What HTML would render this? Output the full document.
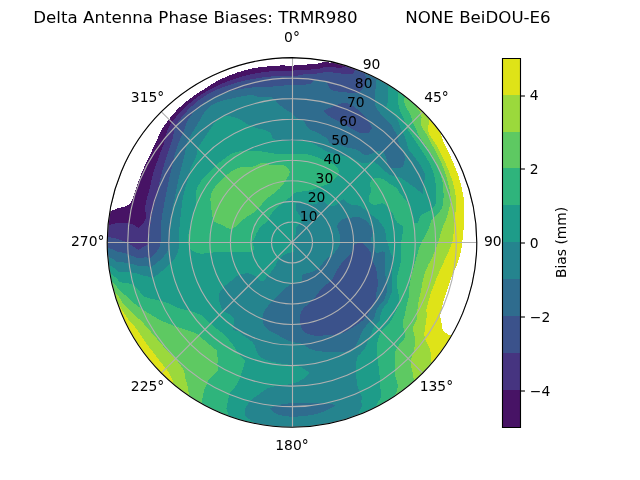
<!DOCTYPE html>
<html><head><meta charset="utf-8"><title>Delta Antenna Phase Biases</title>
<style>html,body{margin:0;padding:0;background:#fff;width:640px;height:480px;overflow:hidden}svg text{white-space:pre}svg{will-change:transform}#QuadContourSet_1 path,#QuadMesh_1 path{shape-rendering:crispEdges}</style>
</head><body>
<svg width="640" height="480" viewBox="0 0 460.8 345.6" style="display:block">
<defs>
<style type="text/css">*{stroke-linejoin: round; stroke-linecap: butt}</style>
</defs>
<g id="figure_1">
<g id="patch_1">
<path d="M0 345.6L460.8 345.6L460.8 0L0 0z" style="fill: #ffffff"/>
</g>
<g id="axes_1">
<g id="patch_2">
<path d="M343.3 174.53C343.3 157.06 339.85 139.75 333.17 123.61C326.48 107.47 316.68 92.8 304.32 80.44C291.97 68.09 277.3 58.29 261.16 51.6C245.02 44.91 227.71 41.47 210.24 41.47C192.77 41.47 175.46 44.91 159.32 51.6C143.18 58.29 128.51 68.09 116.16 80.44C103.8 92.8 94 107.47 87.31 123.61C80.63 139.75 77.18 157.06 77.18 174.53C77.18 192 80.63 209.3 87.31 225.45C94 241.59 103.8 256.26 116.16 268.61C128.51 280.97 143.18 290.77 159.32 297.46C175.46 304.14 192.77 307.58 210.24 307.58C227.71 307.58 245.02 304.14 261.16 297.46C277.3 290.77 291.97 280.97 304.32 268.61C316.68 256.26 326.48 241.59 333.17 225.45C339.85 209.3 343.3 192 343.3 174.53 M210.24 174.53C210.24 174.53 210.24 174.53 210.24 174.53C210.24 174.53 210.24 174.53 210.24 174.53C210.24 174.53 210.24 174.53 210.24 174.53C210.24 174.53 210.24 174.53 210.24 174.53C210.24 174.53 210.24 174.53 210.24 174.53C210.24 174.53 210.24 174.53 210.24 174.53C210.24 174.53 210.24 174.53 210.24 174.53C210.24 174.53 210.24 174.53 210.24 174.53C210.24 174.53 210.24 174.53 210.24 174.53C210.24 174.53 210.24 174.53 210.24 174.53C210.24 174.53 210.24 174.53 210.24 174.53C210.24 174.53 210.24 174.53 210.24 174.53C210.24 174.53 210.24 174.53 210.24 174.53C210.24 174.53 210.24 174.53 210.24 174.53C210.24 174.53 210.24 174.53 210.24 174.53C210.24 174.53 210.24 174.53 210.24 174.53z" style="fill: #ffffff"/>
</g>
<g id="QuadContourSet_1">
<path d="M105.41 156.04L105.41 156.04L105.11 154.09L105.05 153.96L104.65 152.23L104.63 152.08L104.52 150.12L104.58 149.17L104.64 148.2L104.91 146.31L105.33 144.44L105.8 142.6L106.32 140.76L106.87 138.94L107.44 137.11L107.44 137.11L107.91 135.25L108.33 133.35L108.56 132.18L108.73 131.44L109.13 129.51L109.34 128.55L109.57 127.59L110.06 125.67L110.28 124.87L110.6 123.76L111.2 121.87L111.55 120.82L111.84 119.98L112.52 118.11L113.02 116.74L113.21 116.22L113.86 114.3L114.11 113.55L114.53 112.37L115.2 110.54L115.23 110.45L115.97 108.52L116.33 107.61L116.75 106.6L117.55 104.68L117.55 104.68L118.24 102.65L118.26 102.55L118.65 100.87L118.75 100.44L118.91 99.38L119.13 98.08L119.15 97.94L119.6 96.26L119.74 95.85L120.24 94.41L120.51 93.73L121.13 92.34L121.42 91.71L122.43 89.88L122.49 89.78L123.72 88.01L125.03 86.29L125.22 86.05L126.41 84.63L127.83 83L129.29 81.4L129.63 81.04L130.78 79.83L132.31 78.3L133.88 76.8L135.28 75.52L135.49 75.33L137.13 73.9L138.81 72.52L140.53 71.18L142.29 69.89L144.08 68.65L145.91 67.46L147.78 66.34L149.68 65.27L151.59 64.23L153.53 63.23L155.48 62.26L157.46 61.33L159.44 60.44L161.45 59.58L163.47 58.77L165.5 57.99L167.55 57.24L169.61 56.54L171.69 55.88L173.78 55.26L175.87 54.67L177.98 54.13L180.1 53.63L182.23 53.18L184.36 52.78L186.5 52.42L188.65 52.09L190.8 51.81L192.96 51.55L192.96 51.55L195.11 51.34L197.27 51.17L199.44 51.04L201.6 50.94L203.76 50.87L205.92 50.83L208.08 50.81L210.24 50.8L210.24 50.34L210.24 49.6L210.24 48.86L210.24 48.12L210.24 47.39L210.24 47.39L208.02 47.31L205.79 47.19L203.56 47.13L201.33 47.16L199.11 47.26L196.88 47.42L194.66 47.63L192.44 47.89L192.44 47.89L190.21 48.09L187.98 48.31L185.76 48.59L183.55 48.94L181.34 49.37L179.15 49.85L176.98 50.4L174.82 51.01L172.67 51.66L170.54 52.35L168.43 53.09L166.33 53.88L164.25 54.72L162.19 55.6L160.15 56.53L158.14 57.51L156.15 58.53L154.57 59.4L154.19 59.61L152.26 60.73L150.36 61.91L148.5 63.14L146.67 64.42L146.67 64.42L144.78 65.58L142.91 66.78L141.06 68.01L139.24 69.27L137.45 70.57L135.68 71.9L133.94 73.28L132.24 74.69L130.57 76.15L128.95 77.65L128.33 78.25L127.38 79.21L125.87 80.82L124.43 82.51L123.76 83.36L123.05 84.24L121.7 85.98L120.53 87.59L120.39 87.76L119.04 89.48L117.76 91.25L116.75 92.79L116.56 93.09L115.48 95.02L114.99 96L114.54 97.03L113.9 98.53L113.7 99.1L112.83 101.13L112.83 101.13L111.85 103.04L110.92 104.99L110.89 105.06L110.04 106.94L109.18 108.9L109.15 108.97L108.33 110.84L107.45 112.77L106.53 114.65L106.53 114.65L105.58 116.51L104.66 118.39L103.79 120.29L102.95 122.2L102.16 124.13L101.4 126.07L100.67 128.02L100.49 128.51L99.94 129.96L99.22 131.91L98.51 133.86L97.81 135.82L97.14 137.78L96.5 139.75L95.88 141.73L95.28 143.73L95.28 143.73L94.33 145.63L93.92 146.07L92.93 147.01L92.54 147.36L92.03 147.66L91.16 148.13L90.32 148.52L89.49 148.86L89.48 148.86L88.68 149.12L87.9 149.25L87.12 149.37L86.34 149.49L85.57 149.6L84.75 149.89L84.31 150.05L83.94 150.21L83.12 150.56L82.3 150.93L81.48 151.3L80.66 151.68L80.66 151.68L79.84 152.09L79.02 152.49L78.82 153.71L78.48 156.01L78.18 158.31L77.91 160.62L77.76 162.17L78.52 162.03L79.27 161.87L80.03 161.7L80.79 161.52L81.56 161.3L82.29 161.08L82.33 161.07L83.1 160.81L83.87 160.54L84.61 160.53L85.36 160.52L86.11 160.5L86.85 160.48L87.59 160.52L88.33 160.56L89.07 160.6L89.81 160.64L90.55 160.67L91.29 160.7L92.03 160.73L92.77 160.82L93.49 161.02L94.21 161.24L94.92 161.47L95.64 161.73L96.35 162.02L97.06 162.34L97.66 162.7L97.76 162.75L98.45 163.21L99.14 163.76L99.82 164.42L100.65 163.51L101.09 163.06L101.49 162.56L102.35 161.57L102.59 161.31L103.24 160.41L103.88 159.58L104.18 159.02L104.85 157.84L105.41 156.04z M212.4 50.74L214.57 50.61L216.3 50.49L216.74 50.46L218.92 50.33L221.12 50.22L221.98 50.16L223.32 50.08L225.54 49.94L226.25 49.89L227.77 49.76L229.04 49.53L230.07 49.32L230.89 49.07L232.44 48.62L232.51 48.6L234.29 48.18L234.83 48.05L236.65 47.89L237.16 47.88L239.41 48.17L241.65 48.54L243.91 48.86L243.91 48.86L246.09 48.7L246.33 48.66L247.39 48.3L248.43 47.84L249.02 47.69L249.7 47.46L249.14 47.29L246.92 46.63L244.68 46.01L242.43 45.42L240.17 44.88L238.96 44.61L237.75 45.1L237.75 45.1L235.44 44.88L233.11 44.82L232.5 44.85L230.73 45.15L230.27 45.23L228.72 45.75L228.33 45.82L226.04 45.87L224.62 45.97L223.74 46.04L221.45 46.39L221.41 46.39L219.19 46.59L216.94 46.73L216.24 46.79L214.7 46.86L212.46 47.11L210.24 47.39L210.24 47.39L210.24 48.12L210.24 48.86L210.24 49.6L210.24 50.34L210.24 50.8z" clip-path="url(#p762479d433)" style="fill: #471365"/>
<path d="M109.05 156.69L109.38 154.92L109.74 153.17L110.12 151.41L110.54 149.67L110.99 147.93L110.99 147.93L111.43 146.19L111.81 144.44L112.19 142.67L112.58 140.9L112.99 139.13L112.99 139.13L113.43 137.37L113.86 135.59L114.26 133.88L114.29 133.8L114.71 132L115.14 130.18L115.19 130L115.58 128.36L115.98 126.69L116.02 126.52L116.46 124.67L116.68 123.76L116.92 122.8L117.42 120.94L117.42 120.94L117.97 119.08L118.26 118.08L118.52 117.22L119.07 115.4L119.09 115.34L119.69 113.45L119.89 112.84L120.32 111.57L120.77 110.3L120.99 109.68L121.69 107.8L121.69 107.8L122.39 105.89L122.52 105.51L123.05 103.92L123.18 103.5L123.66 101.88L123.72 101.7L124.16 100.04L124.23 99.76L124.53 98.49L124.71 97.52L124.79 97.09L125.02 95.75L125.09 95.13L125.21 94.46L125.43 93.15L125.51 92.7L125.8 91.71L126.27 90.56L126.67 89.79L127.41 88.76L128.67 87.06L129.22 86.35L129.97 85.38L131.31 83.73L132.07 82.84L132.69 82.11L134.11 80.52L135.35 79.2L135.58 78.96L137.08 77.44L138.63 75.96L139.5 75.17L140.22 74.53L141.86 73.15L143.55 71.83L145.28 70.57L147.06 69.37L148.89 68.26L150.76 67.22L152.66 66.23L154.59 65.3L156.54 64.42L158.51 63.59L160.5 62.81L162.5 62.06L164.52 61.36L165.85 60.93L166.55 60.7L168.58 60.08L170.63 59.48L172.68 58.93L174.74 58.4L176.8 57.9L178.86 57.43L178.86 57.43L180.95 57.06L183.04 56.71L185.12 56.37L187.21 56.04L189.29 55.74L191.38 55.46L193.47 55.21L193.47 55.21L195.57 55.06L197.67 54.93L199.77 54.83L201.86 54.74L203.96 54.67L206.05 54.62L208.15 54.59L210.24 54.58L210.24 54.04L210.24 53.3L210.24 52.56L210.24 51.82L210.24 51.08L210.24 50.8L208.08 50.81L205.92 50.83L203.76 50.87L201.6 50.94L199.44 51.04L197.27 51.17L195.11 51.34L192.96 51.55L192.96 51.55L190.8 51.81L188.65 52.09L186.5 52.42L184.36 52.78L182.23 53.18L180.1 53.63L177.98 54.13L175.87 54.67L173.78 55.26L171.69 55.88L169.61 56.54L167.55 57.24L165.5 57.99L163.47 58.77L161.45 59.58L159.44 60.44L157.46 61.33L155.48 62.26L153.53 63.23L151.59 64.23L149.68 65.27L147.78 66.34L145.91 67.46L144.08 68.65L142.29 69.89L140.53 71.18L138.81 72.52L137.13 73.9L135.49 75.33L135.28 75.52L133.88 76.8L132.31 78.3L130.78 79.83L129.63 81.04L129.29 81.4L127.83 83L126.41 84.63L125.22 86.05L125.03 86.29L123.72 88.01L122.49 89.78L122.43 89.88L121.42 91.71L121.13 92.34L120.51 93.73L120.24 94.41L119.74 95.85L119.6 96.26L119.15 97.94L119.13 98.08L118.91 99.38L118.75 100.44L118.65 100.87L118.26 102.55L118.24 102.65L117.55 104.68L117.55 104.68L116.75 106.6L116.33 107.61L115.97 108.52L115.23 110.45L115.2 110.54L114.53 112.37L114.11 113.55L113.86 114.3L113.21 116.22L113.02 116.74L112.52 118.11L111.84 119.98L111.55 120.82L111.2 121.87L110.6 123.76L110.28 124.87L110.06 125.67L109.57 127.59L109.34 128.55L109.13 129.51L108.73 131.44L108.56 132.18L108.33 133.35L107.91 135.25L107.44 137.11L107.44 137.11L106.87 138.94L106.32 140.76L105.8 142.6L105.33 144.44L104.91 146.31L104.64 148.2L104.58 149.17L104.52 150.12L104.63 152.08L104.65 152.23L105.05 153.96L105.11 154.09L105.41 156.04L105.41 156.04L105.41 156.04L104.85 157.84L104.18 159.02L103.88 159.58L103.24 160.41L102.59 161.31L102.35 161.57L101.49 162.56L101.09 163.06L100.65 163.51L99.82 164.42L99.14 163.76L98.45 163.21L97.76 162.75L97.66 162.7L97.06 162.34L96.35 162.02L95.64 161.73L94.92 161.47L94.21 161.24L93.49 161.02L92.77 160.82L92.03 160.73L91.29 160.7L90.55 160.67L89.81 160.64L89.07 160.6L88.33 160.56L87.59 160.52L86.85 160.48L86.11 160.5L85.36 160.52L84.61 160.53L83.87 160.54L83.1 160.81L82.33 161.07L82.29 161.08L81.56 161.3L80.79 161.52L80.03 161.7L79.27 161.87L78.52 162.03L77.76 162.17L77.69 162.93L77.51 165.25L77.37 167.56L77.27 169.88L77.24 170.59L77.98 170.7L78.72 170.8L79.45 170.92L80.19 171.04L80.92 171.16L81.66 171.3L82.4 171.45L83.13 171.6L83.87 171.83L84.6 172.06L85.34 172.3L85.49 172.35L86.07 172.54L86.81 172.78L87.54 173.03L88.28 173.29L89.02 173.56L89.75 173.83L90.49 174.11L91.23 174.41L91.43 174.53L91.97 174.82L92.71 175.33L93.45 175.86L94.2 176.41L94.38 176.55L94.95 176.9L95.7 177.37L96.45 177.85L97.21 178.38L97.34 178.47L97.96 178.84L98.72 179.3L99.48 179.78L100.21 179.42L100.93 179.05L101.66 178.67L102.34 178.3L102.38 178.27L103.11 177.79L103.83 177.31L104.56 177.04L105.3 176.75L106.03 176.41L106.16 176.34L106.76 175.7L107.25 174.53L107.37 172.73L107.47 170.94L107.58 169.15L107.71 167.36L107.86 165.57L108.04 163.79L108.25 162.01L108.49 160.23L108.76 158.45L109.05 156.69z M212.33 54.53L214.44 54.36L215.79 54.17L216.55 54.05L218.7 53.59L218.7 53.59L220.83 53.48L222.98 53.36L223.74 53.31L225.14 53.2L227.32 53.01L227.32 53.01L229.51 52.86L230.37 52.73L231.76 52.46L232.38 52.33L233.98 51.88L234.09 51.85L236.37 51.61L236.37 51.61L238.54 51.96L240.71 52.31L242.96 52.43L242.96 52.43L245.14 52.8L247.34 53.19L249.19 53.5L249.55 53.55L251.87 53.62L251.89 53.62L253.23 53.31L254.12 52.84L254.7 52.26L254.89 51.86L255.01 51.59L255.32 50.91L255.62 50.24L256.06 49.61L255.75 49.5L253.56 48.72L251.36 47.98L249.7 47.46L249.02 47.69L248.43 47.84L247.39 48.3L246.33 48.66L246.09 48.7L243.91 48.86L243.91 48.86L241.65 48.54L239.41 48.17L237.16 47.88L236.65 47.89L234.83 48.05L234.29 48.18L232.51 48.6L232.44 48.62L230.89 49.07L230.07 49.32L229.04 49.53L227.77 49.76L226.25 49.89L225.54 49.94L223.32 50.08L221.98 50.16L221.12 50.22L218.92 50.33L216.74 50.46L216.3 50.49L214.57 50.61L212.4 50.74L210.24 50.8L210.24 51.08L210.24 51.82L210.24 52.56L210.24 53.3L210.24 54.04L210.24 54.58z" clip-path="url(#p762479d433)" style="fill: #463480"/>
<path d="M244.75 191.36L244.37 191.92L243.99 192.47L243.61 193.03L243.24 193.58L242.87 194.13L242.5 194.69L242.15 195.25L241.8 195.82L241.47 196.4L241.16 196.99L240.87 197.61L240.68 198L240.58 198.23L240.29 198.86L239.99 199.49L239.67 200.11L239.34 200.73L239.27 200.84L238.98 201.32L238.58 201.89L238.13 202.42L237.63 202.89L237.09 203.32L236.53 203.73L235.96 204.11L235.84 204.19L235.38 204.49L234.8 204.86L234.24 205.25L233.71 205.67L233.2 206.13L232.7 206.61L232.66 206.66L232.22 207.12L231.75 207.65L231.28 208.19L230.84 208.72L230.81 208.76L230.34 209.34L229.87 209.95L229.63 210.26L229.4 210.56L228.92 211.2L228.6 211.63L228.44 211.84L227.94 212.5L227.63 212.91L227.44 213.16L226.92 213.82L226.68 214.12L226.39 214.5L225.84 215.18L225.75 215.29L225.28 215.85L224.77 216.43L224.7 216.51L224.08 217.14L223.57 217.6L223.44 217.71L222.78 218.26L222.14 218.79L222.11 218.81L221.42 219.37L220.78 219.89L220.72 219.94L220.02 220.54L219.64 220.89L219.31 221.2L218.7 221.83L218.6 221.93L217.96 222.7L217.89 222.8L217.4 223.53L217.18 223.94L217 224.34L216.69 225.12L216.52 225.69L216.46 225.9L216.3 226.66L216.18 227.42L216.09 228.17L216.04 228.92L216.02 229.56L216.02 229.67L216.02 230.41L216.05 231.15L216.09 231.89L216.15 232.62L216.24 233.36L216.36 234.09L216.52 234.82L216.61 235.11L216.73 235.54L216.99 236.25L217.32 236.96L217.72 237.66L218.05 238.12L218.22 238.34L218.89 239L219.35 239.34L219.82 239.62L220.61 240L221.02 240.18L221.87 240.5L222.4 240.69L223.15 240.93L223.91 241.15L224.43 241.29L225.63 241.53L225.71 241.54L226.98 241.69L227.87 241.74L228.25 241.75L229.52 241.75L230.72 241.7L230.78 241.7L232.03 241.6L233.3 241.5L233.8 241.47L234.58 241.4L235.88 241.33L236.29 241.33L237.22 241.3L238.27 241.33L238.59 241.33L239.98 241.32L240.21 241.29L241.29 241.11L242.6 240.87L243.01 240.79L243.91 240.61L245.21 240.31L246 240.07L246.49 239.92L247.71 239.42L248.88 238.83L250.01 238.17L251.12 237.48L252.25 236.81L253.41 236.18L254.55 235.52L254.71 235.41L255.66 234.8L256.74 234.05L257.81 233.27L258.87 232.48L259.92 231.68L260.94 230.84L261.88 229.91L262.79 228.95L263.67 227.96L264.47 226.91L264.48 226.9L265.16 225.74L265.75 224.51L265.79 224.41L266.3 223.26L266.89 222.06L266.98 221.9L267.55 220.94L268.26 219.86L268.97 218.79L269.63 217.68L270.2 216.51L270.22 216.46L270.62 215.25L270.83 214.24L270.86 213.9L270.89 212.78L270.87 212.41L270.9 211.35L270.93 210.99L271.21 209.73L271.36 209.11L271.51 208.49L271.74 207.23L271.79 206.76L271.89 205.94L271.96 204.81L271.97 204.64L271.97 203.31L271.96 203.09L271.91 201.98L271.87 201.49L271.8 200.66L271.73 199.93L271.66 199.34L271.55 198.38L271.51 198.05L271.35 196.82L271.34 196.77L271.14 195.5L271.11 195.29L270.89 194.23L270.8 193.87L270.51 192.95L270.4 192.66L269.97 191.65L269.94 191.6L269.45 190.61L269.32 190.36L268.94 189.64L268.67 189.1L268.44 188.61L268.15 187.9L267.96 187.41L267.75 186.75L267.51 185.94L267.44 185.65L267.2 184.57L267.11 184.03L267.03 183.52L266.89 182.49L266.73 181.52L266.71 181.46L266.11 180.44L266.07 180.4L265.45 179.61L265.2 179.34L264.77 178.83L264.29 178.31L264.09 178.06L263.42 177.32L263.39 177.28L262.69 176.51L262.51 176.35L261.97 175.87L261.3 175.42L261.24 175.38L260.5 175.01L259.77 174.79L259.03 174.72L258.29 174.8L257.55 175.03L256.93 175.34L256.8 175.42L256.05 175.96L255.87 176.12L255.28 176.71L255.14 176.88L254.71 177.64L254.43 178.34L254.41 178.39L254.16 179.14L253.93 179.89L253.68 180.63L253.37 181.36L253.29 181.49L252.91 182.05L252.35 182.71L252.32 182.75L251.75 183.35L251.36 183.74L251.12 183.97L250.49 184.56L250.37 184.67L249.86 185.14L249.36 185.61L249.25 185.71L248.66 186.27L248.27 186.64L248.09 186.83L247.57 187.38L247.11 187.95L246.98 188.14L246.7 188.52L246.31 189.1L245.92 189.67L245.53 190.24L245.14 190.8L244.89 191.17z M256.44 94.51L256.44 94.51L257.91 95.18L259.54 95.62L259.78 95.66L261.35 95.82L261.42 95.82L262.78 95.84L263.34 95.81L264.09 95.83L265.36 95.81L265.36 95.81L265.78 95.21L266.21 94.6L266.63 93.99L267.05 93.39L267.48 92.78L267.9 92.18L267.9 92.18L267.16 90.77L266.97 90.43L266.38 89.35L265.99 88.68L265.58 87.96L264.98 86.92L264.77 86.57L263.91 85.2L263.9 85.17L262.72 83.62L262.72 83.62L261.35 82.32L260.55 81.56L259.96 81.02L258.54 79.74L258.33 79.56L257.08 78.49L255.88 77.54L255.57 77.31L254.01 76.22L252.38 75.26L250.67 74.46L250.67 74.46L250.67 74.46L248.82 74.02L247.73 74.12L246.76 74.19L246.17 74.33L244.92 74.67L244.59 74.77L243.8 75.07L242.76 75.51L242.35 75.69L241.75 75.95L240.62 76.37L240.2 76.53L239.37 76.77L238.39 77.25L238.09 77.42L237.21 77.68L236.07 78.14L236.07 78.14L234.84 78.58L234.04 79.07L233.98 79.12L233.36 79.73L233.69 80.48L233.77 80.59L234.52 81.55L235.02 82.06L235.77 82.65L236.44 83.15L237.69 83.98L237.88 84.11L239.32 85.02L240.33 85.6L240.77 85.85L242.23 86.64L243.68 87.41L245.13 88.17L245.13 88.17L246.56 88.96L247.99 89.74L249.41 90.53L250.82 91.32L252.23 92.11L253.64 92.9L255.04 93.7L256.44 94.51z M115.62 174.53L115.62 174.53L115.62 172.88L115.62 171.22L115.63 169.57L115.65 167.91L115.69 166.26L115.75 164.6L115.85 162.94L115.97 161.28L116.13 159.62L116.33 157.97L116.33 157.97L116.55 156.32L116.8 154.67L117.08 153.02L117.38 151.37L117.69 149.73L118 148.08L118.25 146.73L118.31 146.42L118.61 144.76L118.92 143.08L119.24 141.41L119.24 141.41L119.58 139.73L119.92 138.04L120.07 137.23L120.26 136.33L120.59 134.61L120.74 133.85L120.93 132.88L121.27 131.14L121.33 130.87L121.63 129.38L121.88 128.15L121.99 127.61L122.38 125.83L122.44 125.56L122.81 124.05L123.09 122.95L123.28 122.28L123.75 120.48L123.77 120.42L124.2 118.65L124.31 118.2L124.63 116.78L124.76 116.2L125.04 114.87L125.14 114.35L125.42 112.91L125.48 112.6L125.82 110.91L125.82 110.91L126.46 109.07L126.59 108.7L127.11 107.21L127.32 106.61L127.78 105.33L128.05 104.58L128.47 103.45L128.8 102.59L129.2 101.56L129.6 100.59L129.98 99.69L130.49 98.56L130.82 97.84L131.52 96.44L131.7 95.99L132.24 94.68L132.49 94.02L132.83 93.09L133.23 91.95L133.36 91.58L133.85 90.13L133.96 89.81L134.31 88.72L134.78 87.72L135.13 87.03L135.79 85.81L136.16 85.2L136.92 83.99L137.53 83.13L138.16 82.27L139.4 80.74L139.49 80.64L140.9 79.09L142.29 77.72L142.39 77.63L143.95 76.25L145.56 74.94L147.24 73.7L148.96 72.54L150.73 71.46L152.56 70.46L154.42 69.54L156.31 68.69L158.24 67.91L160.19 67.21L161.42 66.8L162.17 66.56L164.17 65.99L166.18 65.47L166.76 65.33L168.2 65.01L170.23 64.61L171.32 64.41L172.27 64.25L174.31 63.93L175.69 63.74L176.34 63.65L178.37 63.39L180.39 63.14L180.39 63.14L182.41 62.91L184.44 62.76L185.16 62.73L186.47 62.7L188.5 62.69L188.99 62.69L190.53 62.72L192.53 62.7L194.5 62.53L194.5 62.53L196.46 62.27L198.42 62.05L200.38 61.86L202.35 61.71L204.32 61.59L206.29 61.5L208.27 61.45L210.24 61.43L210.24 61.43L210.24 60.69L210.24 59.95L210.24 59.21L210.24 58.47L210.24 57.73L210.24 57L210.24 56.26L210.24 55.52L210.24 54.78L210.24 54.58L208.15 54.59L206.05 54.62L203.96 54.67L201.86 54.74L199.77 54.83L197.67 54.93L195.57 55.06L193.47 55.21L193.47 55.21L191.38 55.46L189.29 55.74L187.21 56.04L185.12 56.37L183.04 56.71L180.95 57.06L178.86 57.43L178.86 57.43L176.8 57.9L174.74 58.4L172.68 58.93L170.63 59.48L168.58 60.08L166.55 60.7L165.85 60.93L164.52 61.36L162.5 62.06L160.5 62.81L158.51 63.59L156.54 64.42L154.59 65.3L152.66 66.23L150.76 67.22L148.89 68.26L147.06 69.37L145.28 70.57L143.55 71.83L141.86 73.15L140.22 74.53L139.5 75.17L138.63 75.96L137.08 77.44L135.58 78.96L135.35 79.2L134.11 80.52L132.69 82.11L132.07 82.84L131.31 83.73L129.97 85.38L129.22 86.35L128.67 87.06L127.41 88.76L126.67 89.79L126.27 90.56L125.8 91.71L125.51 92.7L125.43 93.15L125.21 94.46L125.09 95.13L125.02 95.75L124.79 97.09L124.71 97.52L124.53 98.49L124.23 99.76L124.16 100.04L123.72 101.7L123.66 101.88L123.18 103.5L123.05 103.92L122.52 105.51L122.39 105.89L121.69 107.8L121.69 107.8L120.99 109.68L120.77 110.3L120.32 111.57L119.89 112.84L119.69 113.45L119.09 115.34L119.07 115.4L118.52 117.22L118.26 118.08L117.97 119.08L117.42 120.94L117.42 120.94L116.92 122.8L116.68 123.76L116.46 124.67L116.02 126.52L115.98 126.69L115.58 128.36L115.19 130L115.14 130.18L114.71 132L114.29 133.8L114.26 133.88L113.86 135.59L113.43 137.37L112.99 139.13L112.99 139.13L112.58 140.9L112.19 142.67L111.81 144.44L111.43 146.19L110.99 147.93L110.99 147.93L110.54 149.67L110.12 151.41L109.74 153.17L109.38 154.92L109.05 156.69L109.05 156.69L108.76 158.45L108.49 160.23L108.25 162.01L108.04 163.79L107.86 165.57L107.71 167.36L107.58 169.15L107.47 170.94L107.37 172.73L107.25 174.53L106.76 175.7L106.16 176.34L106.03 176.41L105.3 176.75L104.56 177.04L103.83 177.31L103.11 177.79L102.38 178.27L102.34 178.3L101.66 178.67L100.93 179.05L100.21 179.42L99.48 179.78L98.72 179.3L97.96 178.84L97.34 178.47L97.21 178.38L96.45 177.85L95.7 177.37L94.95 176.9L94.38 176.55L94.2 176.41L93.45 175.86L92.71 175.33L91.97 174.82L91.43 174.53L91.23 174.41L90.49 174.11L89.75 173.83L89.02 173.56L88.28 173.29L87.54 173.03L86.81 172.78L86.07 172.54L85.49 172.35L85.34 172.3L84.6 172.06L83.87 171.83L83.13 171.6L82.4 171.45L81.66 171.3L80.92 171.16L80.19 171.04L79.45 170.92L78.72 170.8L77.98 170.7L77.24 170.59L77.2 172.21L77.18 174.53L77.2 176.85L77.23 178.12L77.98 178.4L78.73 178.69L79.48 178.99L79.72 179.09L80.23 179.28L80.98 179.57L81.73 179.92L82.49 180.31L83.25 180.73L84 180.94L84.64 181.11L84.75 181.14L85.5 181.33L86.25 181.51L87 181.68L87.75 181.86L88.5 182.06L89.26 182.25L90.01 182.44L90.76 182.62L91.52 182.8L91.58 182.83L92.28 183.05L93.04 183.37L93.81 183.68L94.57 183.98L95.34 184.27L96 184.52L96.1 184.56L96.87 184.82L97.64 185.18L98.42 185.53L99.2 185.88L99.77 186.14L99.98 186.23L100.71 186.06L100.9 186.02L101.43 185.9L102.16 185.72L102.88 185.54L103.6 185.36L104.33 185.17L105.08 185.27L105.84 185.39L106.2 185.46L106.6 185.54L107.36 185.72L108.1 185.66L108.67 185.2L108.78 185.11L109.46 184.51L110.14 183.87L110.83 183.23L110.83 183.22L111.51 182.49L112.19 181.74L112.53 181.36L112.87 180.9L113.56 179.98L113.85 179.58L114.24 178.88L114.81 177.86L114.93 177.53L115.41 176.18L115.62 174.53z M210.24 61.43L212.21 61.43L214.19 61.41L216.17 61.3L218.18 60.97L218.18 60.97L220.18 60.9L222.21 60.63L222.38 60.6L223.82 60.02L224.35 59.58L224.7 59.38L225.56 58.74L226.2 58.08L226.7 57.41L226.7 57.41L228.75 57.67L230.8 57.94L232.85 58.2L234.9 58.53L235.15 58.91L235.46 59.73L235.86 60.58L236.36 61.41L236.37 61.45L236.68 62.28L237.14 63.15L237.79 64.04L237.88 64.1L239.55 65.16L241.48 65.59L243.45 65.89L244.73 66.04L245.46 66.14L247.49 66.36L248.22 66.43L249.53 66.58L251.31 66.77L251.59 66.81L253.66 67.06L254.13 67.09L255.8 67.2L256.22 67.16L257.69 67L258.15 66.93L258.85 66.71L259.35 66.12L259.83 65.53L260.29 64.92L260.72 64.31L261.14 63.69L261.55 63.06L261.95 62.43L262.34 61.8L262.76 61.18L263.17 60.55L263.57 59.92L263.74 59.19L263.54 58.28L263.39 57.4L263.28 56.54L263.2 55.7L263.2 55.58L263.17 54.87L263.15 54.06L263.15 53.25L263.16 52.45L262.23 52.05L260.08 51.16L257.92 50.31L256.06 49.61L255.62 50.24L255.32 50.91L255.01 51.59L254.89 51.86L254.7 52.26L254.12 52.84L253.23 53.31L251.89 53.62L251.87 53.62L249.55 53.55L249.19 53.5L247.34 53.19L245.14 52.8L242.96 52.43L242.96 52.43L240.71 52.31L238.54 51.96L236.37 51.61L236.37 51.61L234.09 51.85L233.98 51.88L232.38 52.33L231.76 52.46L230.37 52.73L229.51 52.86L227.32 53.01L227.32 53.01L225.14 53.2L223.74 53.31L222.98 53.36L220.83 53.48L218.7 53.59L218.7 53.59L216.55 54.05L215.79 54.17L214.44 54.36L212.33 54.53L210.24 54.58L210.24 54.78L210.24 55.52L210.24 56.26L210.24 57L210.24 57.73L210.24 58.47L210.24 59.21L210.24 59.95L210.24 60.69L210.24 61.43L210.24 61.43z" clip-path="url(#p762479d433)" style="fill: #3b528b"/>
<path d="M222.77 196.23L222.34 196.37L221.92 196.5L221.5 196.63L221.08 196.76L220.67 196.89L220.25 197.02L219.84 197.15L219.43 197.28L219.03 197.42L218.63 197.57L218.23 197.75L217.86 197.97L217.51 198.32L217.32 198.64L217.25 198.97L217.19 199.45L217.24 200.2L217.35 200.94L217.36 201.1L217.4 201.69L217.32 202.47L217.25 202.64L216.84 203.13L216.39 203.44L216.34 203.46L215.89 203.61L215.39 203.72L214.88 203.8L214.36 203.85L213.84 203.88L213.73 203.89L213.33 203.9L212.81 203.93L212.3 203.96L211.79 204.02L211.55 204.07L211.27 204.11L210.76 204.24L210.24 204.42L209.71 204.66L209.42 204.82L209.18 204.95L208.63 205.28L208.28 205.51L208.06 205.65L207.48 206.06L207.32 206.18L206.88 206.51L206.47 206.83L206.25 207L205.69 207.48L205.6 207.55L204.95 208.12L204.91 208.15L204.26 208.75L204.19 208.82L203.61 209.38L203.43 209.55L202.97 210.01L202.62 210.36L202.36 210.64L201.76 211.26L201.76 211.26L201.17 211.88L200.84 212.23L200.59 212.5L200.01 213.11L199.86 213.26L199.43 213.72L198.85 214.32L198.82 214.35L198.26 214.92L197.72 215.47L197.68 215.52L197.09 216.11L196.56 216.64L196.5 216.7L195.91 217.28L195.32 217.85L195.32 217.86L194.73 218.44L194.15 219.02L193.98 219.19L193.59 219.6L193.05 220.19L192.53 220.78L192.45 220.88L192.04 221.38L191.57 221.99L191.14 222.62L190.74 223.25L190.37 223.9L190.04 224.57L189.75 225.25L189.5 225.94L189.3 226.66L189.13 227.39L189.02 228.14L188.95 228.91L188.94 229.7L188.96 229.97L188.99 230.5L189.1 231.34L189.28 232.11L189.3 232.2L189.61 233.09L189.87 233.68L190.05 234.03L190.61 234.93L190.68 235.01L191.46 235.95L191.58 236.07L192.38 236.82L192.88 237.22L193.35 237.57L194.36 238.24L194.73 238.46L195.39 238.85L196.45 239.41L197.08 239.74L197.52 239.96L198.61 240.51L199.39 240.91L199.7 241.08L200.81 241.66L201.34 241.95L201.92 242.27L203.04 242.9L203.05 242.9L204.2 243.54L204.66 243.79L205.37 244.16L206.34 244.64L206.56 244.75L207.77 245.27L208.27 245.46L209 245.72L210.24 246.1L210.78 246.23L211.49 246.39L212.76 246.63L214.03 246.83L214.21 246.86L215.31 247.05L216.61 247.31L216.87 247.41L217.95 247.86L218.21 248.02L219.16 248.65L219.36 248.79L220.05 249.28L220.82 249.81L220.97 249.91L221.93 250.51L222.31 250.72L223.02 251.08L223.8 251.45L224.25 251.62L225.3 252L225.67 252.1L226.79 252.4L227.35 252.51L228.28 252.69L229.26 252.82L229.78 252.9L231.28 253.06L231.32 253.06L232.8 253.19L233.37 253.25L234.34 253.36L235.18 253.47L235.92 253.57L236.88 253.7L237.52 253.76L238.8 253.81L239.1 253.81L240.65 253.76L241.04 253.76L242.24 253.74L243.03 253.76L243.87 253.75L245.02 253.71L245.48 253.69L247.07 253.52L247.34 253.47L248.63 253.24L250.15 252.86L250.45 252.76L251.6 252.32L253.01 251.68L254.36 250.94L255.57 249.97L255.67 249.85L256.47 248.51L256.47 248.49L257.04 247.26L257.23 246.89L257.61 246L257.96 245.27L258.16 244.74L258.63 243.63L258.68 243.49L259.17 242.23L259.26 242L259.68 240.94L259.9 240.43L260.32 239.52L260.6 238.99L261.28 237.83L261.37 237.67L262.19 236.44L262.76 235.63L263.04 235.26L263.91 234.14L264.82 233.06L265.81 232.07L266.91 231.2L268.06 230.37L269.11 229.43L269.72 228.08L269.78 227.72L270.03 226.5L270.08 226.24L270.4 225L270.55 224.55L270.89 223.64L271.5 222.39L272.16 221.33L272.22 221.23L273.01 220.13L273.3 219.77L273.86 219.08L274.77 218.05L275.69 217.03L276.54 215.96L277.14 214.72L277.56 213.39L277.71 212.89L277.95 212.06L278.34 210.74L278.7 209.49L278.72 209.42L278.82 207.98L278.8 207.64L278.69 206.45L278.65 206.23L278.41 204.96L278.4 204.87L278.17 203.69L278.1 203.33L277.94 202.32L277.87 201.85L277.75 200.81L277.7 200.42L277.59 199.13L277.58 199.04L277.5 197.69L277.49 197.18L277.46 196.37L277.43 195.07L277.43 194.93L277.41 193.79L277.4 192.52L277.4 192.34L277.38 191.27L277.35 190.02L277.34 189.5L277.3 188.78L277.23 187.55L277.18 186.5L277.17 186.33L277.11 185.12L277.1 183.92L277.13 182.74L277.08 182.07L276.9 181.53L276.43 181.18L275.71 180.98L274.96 181.04L274.26 181.26L274.19 181.29L273.41 181.65L272.64 181.92L271.88 182.02L271.15 181.88L270.47 181.37L270.17 180.83L269.88 179.77L269.88 179.75L269.61 178.68L269.28 177.89L269.16 177.62L268.6 176.58L268.59 176.57L267.99 175.54L267.89 175.36L267.48 174.53L267.23 173.53L267.19 172.54L267.3 171.54L267.51 170.52L267.7 169.8L267.79 169.49L268.08 168.45L268.24 167.7L268.29 167.4L268.31 166.37L268.06 165.37L267.83 164.84L267.63 164.41L267.11 163.47L266.69 162.81L266.54 162.56L265.94 161.67L265.55 161.11L265.33 160.79L264.7 159.93L264.39 159.55L263.98 159.12L263.35 158.61L263.02 158.39L262.39 158.03L261.86 157.75L261.46 157.55L260.63 157.18L260.54 157.13L259.63 156.77L259.31 156.67L258.73 156.47L257.89 156.24L257.85 156.23L257 156.08L256.18 156.03L255.97 156.05L255.42 156.12L254.69 156.27L253.96 156.45L253.23 156.63L252.49 156.78L251.81 156.88L251.74 156.89L250.98 156.99L250.21 157.07L249.43 157.14L249.25 157.16L248.67 157.25L247.93 157.41L247.23 157.66L246.58 158.02L245.96 158.44L245.45 158.85L245.37 158.92L244.8 159.47L244.25 160.06L244.21 160.11L243.73 160.74L243.49 161.09L243.25 161.53L243.09 161.92L242.95 162.62L242.94 162.79L242.95 163.27L243.01 163.88L243.12 164.47L243.27 165.06L243.45 165.63L243.65 166.2L243.85 166.77L244.06 167.34L244.27 167.91L244.45 168.45L244.46 168.49L244.64 169.08L244.8 169.67L244.92 170.27L245.02 170.87L245.09 171.48L245.12 172.09L245.11 172.7L245.07 173.31L245 173.92L244.98 174.03L244.89 174.53L244.74 175.13L244.56 175.73L244.35 176.32L244.17 176.77L244.12 176.9L243.84 177.47L243.55 178.03L243.26 178.57L243.25 178.58L242.91 179.12L242.57 179.65L242.28 180.1L242.23 180.17L241.86 180.67L241.5 181.17L241.25 181.51L241.1 181.65L240.65 182.11L240.28 182.58L240.19 182.72L239.9 183.03L239.58 183.5L239.31 183.97L239.01 184.43L238.81 184.65L238.47 184.8L237.91 184.94L237.53 185L237.06 185.1L236.69 185.21L236.11 185.48L236.08 185.5L235.59 185.81L235.16 186.15L234.87 186.41L234.78 186.5L234.43 186.85L234.11 187.22L233.8 187.59L233.51 187.96L233.23 188.34L232.96 188.73L232.7 189.11L232.43 189.5L232.17 189.88L231.91 190.27L231.64 190.65L231.37 191.04L231.09 191.41L230.81 191.79L230.52 192.15L230.21 192.51L229.9 192.86L229.58 193.2L229.24 193.53L228.88 193.83L228.51 194.12L228.11 194.37L227.82 194.51L227.67 194.57L227.2 194.74L226.73 194.9L226.27 195.05L225.82 195.21L225.75 195.23L225.38 195.36L224.94 195.52L224.5 195.67L224.06 195.81L223.63 195.95L223.2 196.09L223.08 196.14z M244.89 191.17L245.14 190.8L245.53 190.24L245.92 189.67L246.31 189.1L246.7 188.52L246.98 188.14L247.11 187.95L247.57 187.38L248.09 186.83L248.27 186.64L248.66 186.27L249.25 185.71L249.36 185.61L249.86 185.14L250.37 184.67L250.49 184.56L251.12 183.97L251.36 183.74L251.75 183.35L252.32 182.75L252.35 182.71L252.91 182.05L253.29 181.49L253.37 181.36L253.68 180.63L253.93 179.89L254.16 179.14L254.41 178.39L254.43 178.34L254.71 177.64L255.14 176.88L255.28 176.71L255.87 176.12L256.05 175.96L256.8 175.42L256.93 175.34L257.55 175.03L258.29 174.8L259.03 174.72L259.77 174.79L260.5 175.01L261.24 175.38L261.3 175.42L261.97 175.87L262.51 176.35L262.69 176.51L263.39 177.28L263.42 177.32L264.09 178.06L264.29 178.31L264.77 178.83L265.2 179.34L265.45 179.61L266.07 180.4L266.11 180.44L266.71 181.46L266.73 181.52L266.89 182.49L267.03 183.52L267.11 184.03L267.2 184.57L267.44 185.65L267.51 185.94L267.75 186.75L267.96 187.41L268.15 187.9L268.44 188.61L268.67 189.1L268.94 189.64L269.32 190.36L269.45 190.61L269.94 191.6L269.97 191.65L270.4 192.66L270.51 192.95L270.8 193.87L270.89 194.23L271.11 195.29L271.14 195.5L271.34 196.77L271.35 196.82L271.51 198.05L271.55 198.38L271.66 199.34L271.73 199.93L271.8 200.66L271.87 201.49L271.91 201.98L271.96 203.09L271.97 203.31L271.97 204.64L271.96 204.81L271.89 205.94L271.79 206.76L271.74 207.23L271.51 208.49L271.36 209.11L271.21 209.73L270.93 210.99L270.9 211.35L270.87 212.41L270.89 212.78L270.86 213.9L270.83 214.24L270.62 215.25L270.22 216.46L270.2 216.51L269.63 217.68L268.97 218.79L268.26 219.86L267.55 220.94L266.98 221.9L266.89 222.06L266.3 223.26L265.79 224.41L265.75 224.51L265.16 225.74L264.48 226.9L264.47 226.91L263.67 227.96L262.79 228.95L261.88 229.91L260.94 230.84L259.92 231.68L258.87 232.48L257.81 233.27L256.74 234.05L255.66 234.8L254.71 235.41L254.55 235.52L253.41 236.18L252.25 236.81L251.12 237.48L250.01 238.17L248.88 238.83L247.71 239.42L246.49 239.92L246 240.07L245.21 240.31L243.91 240.61L243.01 240.79L242.6 240.87L241.29 241.11L240.21 241.29L239.98 241.32L238.59 241.33L238.27 241.33L237.22 241.3L236.29 241.33L235.88 241.33L234.58 241.4L233.8 241.47L233.3 241.5L232.03 241.6L230.78 241.7L230.72 241.7L229.52 241.75L228.25 241.75L227.87 241.74L226.98 241.69L225.71 241.54L225.63 241.53L224.43 241.29L223.91 241.15L223.15 240.93L222.4 240.69L221.87 240.5L221.02 240.18L220.61 240L219.82 239.62L219.35 239.34L218.89 239L218.22 238.34L218.05 238.12L217.72 237.66L217.32 236.96L216.99 236.25L216.73 235.54L216.61 235.11L216.52 234.82L216.36 234.09L216.24 233.36L216.15 232.62L216.09 231.89L216.05 231.15L216.02 230.41L216.02 229.67L216.02 229.56L216.04 228.92L216.09 228.17L216.18 227.42L216.3 226.66L216.46 225.9L216.52 225.69L216.69 225.12L217 224.34L217.18 223.94L217.4 223.53L217.89 222.8L217.96 222.7L218.6 221.93L218.7 221.83L219.31 221.2L219.64 220.89L220.02 220.54L220.72 219.94L220.78 219.89L221.42 219.37L222.11 218.81L222.14 218.79L222.78 218.26L223.44 217.71L223.57 217.6L224.08 217.14L224.7 216.51L224.77 216.43L225.28 215.85L225.75 215.29L225.84 215.18L226.39 214.5L226.68 214.12L226.92 213.82L227.44 213.16L227.63 212.91L227.94 212.5L228.44 211.84L228.6 211.63L228.92 211.2L229.4 210.56L229.63 210.26L229.87 209.95L230.34 209.34L230.81 208.76L230.84 208.72L231.28 208.19L231.75 207.65L232.22 207.12L232.66 206.66L232.7 206.61L233.2 206.13L233.71 205.67L234.24 205.25L234.8 204.86L235.38 204.49L235.84 204.19L235.96 204.11L236.53 203.73L237.09 203.32L237.63 202.89L238.13 202.42L238.58 201.89L238.98 201.32L239.27 200.84L239.34 200.73L239.67 200.11L239.99 199.49L240.29 198.86L240.58 198.23L240.68 198L240.87 197.61L241.16 196.99L241.47 196.4L241.8 195.82L242.15 195.25L242.5 194.69L242.87 194.13L243.24 193.58L243.61 193.03L243.99 192.47L244.37 191.92L244.75 191.36z M237.67 103.07L238.85 103.72L240.16 104.05L241.24 104.18L241.56 104.18L243.02 104.24L243.22 104.27L244.42 104.44L245.76 104.81L246.44 105.04L247.07 105.26L248.38 105.73L249.7 106.19L250.38 106.37L251.08 106.56L252.55 106.83L252.55 106.83L254.08 107.02L254.28 107.05L255.6 107.28L256.37 107.57L256.97 107.78L258.17 108.56L259.3 109.43L260.41 110.31L261.59 111.11L262.91 111.75L263.09 111.77L264.21 111.74L264.87 111.68L265.15 111.58L265.92 111.27L266.66 110.94L267.38 110.59L268.06 110.31L268.14 110.28L268.88 109.95L269.63 109.64L270.39 109.34L271.14 109.02L271.42 108.92L271.96 108.78L272.86 108.61L273.81 108.49L274.03 108.47L275.39 109L275.65 109.12L276.33 109.96L276.67 110.38L277.46 111.85L277.69 112.46L278.03 113.49L278.2 114.13L278.43 115.25L278.51 115.6L278.73 117L278.73 117.06L279.06 118.57L279.14 118.73L280 120.03L280.66 120.58L281.37 120.93L281.85 120.94L282.81 120.99L283.78 121.1L283.81 121.1L284.71 121.08L285.62 121.09L286.5 121.13L286.55 121.13L287.45 121.13L288.38 121.17L288.96 120.71L289.53 120.23L290.04 119.68L290.43 118.93L290.77 118.14L290.77 118.13L291.03 117.22L291.24 116.25L291.34 115.6L291.37 115.16L291.32 113.85L291.31 113.44L291.27 112.56L291.21 111.27L291.21 111.27L290.3 109.7L289.39 108.11L288.98 107.38L288.5 106.49L287.69 104.79L287.69 104.78L287.05 102.98L287.03 102.92L286.73 101.56L286.65 100.74L286.59 100.36L286.55 99.26L286.55 98.21L286.55 98.21L285.51 96.59L284.86 95.54L284.49 94.91L283.64 93.4L283.51 93.15L282.67 91.55L282.57 91.33L281.51 89.59L281.51 89.59L280.22 88.11L278.85 86.71L277.77 85.66L277.45 85.34L276.04 83.96L274.69 82.49L274.69 82.49L273.3 81.04L272.6 80.18L272.01 79.41L271.44 78.54L270.86 77.51L270.71 77.21L270.28 76.08L270.07 75.08L270.05 74.98L269.87 74.11L269.76 73.18L269.73 72.3L269.75 71.46L269.75 71.46L269.73 70.6L269.74 69.75L269.75 68.91L269.78 68.08L269.82 67.25L269.83 67.02L269.9 66.46L270.01 65.67L270.16 64.91L270.32 64.16L270.49 63.41L270.63 62.64L270.68 61.83L270.73 61.02L270.76 60.7L270.81 60.23L270.89 59.43L270.98 58.64L271.06 57.85L271.13 57.06L271.21 56.26L270.65 55.97L268.57 54.94L266.47 53.94L264.36 52.98L263.16 52.45L263.15 53.25L263.15 54.06L263.17 54.87L263.2 55.58L263.2 55.7L263.28 56.54L263.39 57.4L263.54 58.28L263.74 59.19L263.57 59.92L263.17 60.55L262.76 61.18L262.34 61.8L261.95 62.43L261.55 63.06L261.14 63.69L260.72 64.31L260.29 64.92L259.83 65.53L259.35 66.12L258.85 66.71L258.15 66.93L257.69 67L256.22 67.16L255.8 67.2L254.13 67.09L253.66 67.06L251.59 66.81L251.31 66.77L249.53 66.58L248.22 66.43L247.49 66.36L245.46 66.14L244.73 66.04L243.45 65.89L241.48 65.59L239.55 65.16L237.88 64.1L237.79 64.04L237.14 63.15L236.68 62.28L236.37 61.45L236.36 61.41L235.86 60.58L235.46 59.73L235.15 58.91L234.9 58.53L232.85 58.2L230.8 57.94L228.75 57.67L226.7 57.41L226.7 57.41L226.2 58.08L225.56 58.74L224.7 59.38L224.35 59.58L223.82 60.02L222.38 60.6L222.21 60.63L220.18 60.9L218.18 60.97L218.18 60.97L216.17 61.3L214.19 61.41L212.21 61.43L210.24 61.43L210.24 61.43L210.24 62.17L210.24 62.91L210.24 63.65L210.24 64.39L210.24 65.13L210.24 65.87L210.24 66.6L210.24 67.34L210.24 68.08L210.24 68.82L210.24 69.56L210.24 70.3L210.24 71.04L210.24 71.78L210.24 72.52L210.24 73.26L210.24 74L210.24 74.74L210.24 75.48L210.24 76.21L210.24 76.95L210.24 77.69L210.24 78.43L210.24 79.17L210.24 79.91L210.24 80.65L210.24 81.39L210.24 81.39L210.65 82.13L211.14 82.87L211.75 83.62L211.83 83.7L212.75 84.38L213.38 84.73L214.36 85.18L214.91 85.39L216.43 86.04L216.43 86.04L217.92 86.75L218.14 86.92L219.06 87.75L219.33 88.08L219.6 88.55L220.02 89.34L220.42 90.13L220.57 90.42L220.9 90.94L221.48 91.76L221.81 92.17L222.39 92.63L223.13 93.15L223.94 93.63L224.46 93.9L225.81 94.45L227.15 94.95L227.33 95.03L228.48 95.51L229.76 96.24L230.1 96.44L231.02 96.99L232.28 97.67L232.7 97.92L233.53 98.37L234.73 99.17L235.01 99.41L235.8 100.28L235.96 100.51L236.43 101.46L236.66 101.93L236.96 102.45z M256.44 94.51L255.04 93.7L253.64 92.9L252.23 92.11L250.82 91.32L249.41 90.53L247.99 89.74L246.56 88.96L245.13 88.17L245.13 88.17L243.68 87.41L242.23 86.64L240.77 85.85L240.33 85.6L239.32 85.02L237.88 84.11L237.69 83.98L236.44 83.15L235.77 82.65L235.02 82.06L234.52 81.55L233.77 80.59L233.69 80.48L233.36 79.73L233.98 79.12L234.04 79.07L234.84 78.58L236.07 78.14L236.07 78.14L237.21 77.68L238.09 77.42L238.39 77.25L239.37 76.77L240.2 76.53L240.62 76.37L241.75 75.95L242.35 75.69L242.76 75.51L243.8 75.07L244.59 74.77L244.92 74.67L246.17 74.33L246.76 74.19L247.73 74.12L248.82 74.02L250.67 74.46L250.67 74.46L250.67 74.46L252.38 75.26L254.01 76.22L255.57 77.31L255.88 77.54L257.08 78.49L258.33 79.56L258.54 79.74L259.96 81.02L260.55 81.56L261.35 82.32L262.72 83.62L262.72 83.62L263.9 85.17L263.91 85.2L264.77 86.57L264.98 86.92L265.58 87.96L265.99 88.68L266.38 89.35L266.97 90.43L267.16 90.77L267.9 92.18L267.9 92.18L267.48 92.78L267.05 93.39L266.63 93.99L266.21 94.6L265.78 95.21L265.36 95.81L265.36 95.81L264.09 95.83L263.34 95.81L262.78 95.84L261.42 95.82L261.35 95.82L259.78 95.66L259.54 95.62L257.91 95.18L256.44 94.51L256.44 94.51z M122.28 174.53L122.29 172.99L122.29 172.82L122.3 171.46L122.31 169.92L122.33 168.38L122.37 166.84L122.43 165.3L122.51 163.76L122.61 162.21L122.73 160.67L122.88 159.12L122.88 159.12L123.05 157.58L123.22 156.03L123.41 154.48L123.61 152.93L123.84 151.38L123.84 151.38L124.12 149.83L124.44 148.3L124.78 146.76L125.13 145.22L125.5 143.68L125.5 143.68L125.83 142.12L126.14 140.55L126.35 139.46L126.45 138.96L126.76 137.36L127 136.16L127.08 135.75L127.41 134.13L127.61 133.18L127.76 132.5L128.13 130.87L128.25 130.34L128.52 129.23L128.94 127.59L128.94 127.59L129.33 125.91L129.47 125.25L129.71 124.21L129.97 123.05L130.11 122.49L130.5 120.9L130.53 120.77L130.98 119.03L131.04 118.82L131.46 117.29L131.6 116.76L131.95 115.53L132.13 114.83L132.4 113.71L132.52 113.13L132.79 111.81L132.84 111.54L133.12 110.03L133.16 109.85L133.4 108.56L133.53 107.85L133.69 107.11L133.95 105.84L134 105.65L134.36 104.16L134.43 103.84L134.78 102.63L135 101.87L135.32 101.01L135.77 100.06L136.36 98.93L136.7 98.37L137.7 96.74L137.86 96.48L138.71 95.09L139.22 94.25L139.73 93.41L140.45 92.21L140.75 91.71L141.58 90.31L141.77 89.98L142.64 88.51L142.81 88.22L143.65 86.79L143.86 86.44L144.65 85.13L144.92 84.62L145.5 83.6L145.97 82.75L146.41 82.06L147.12 80.95L147.53 80.41L148.38 79.28L149.06 78.53L149.77 77.76L151.29 76.42L152.95 75.3L154.73 74.39L156.59 73.64L158.51 73L159.06 72.84L160.45 72.45L162.4 71.94L162.84 71.84L164.36 71.48L166.31 71.04L166.69 70.95L168.26 70.61L170.19 70.2L170.96 70.05L172.13 69.81L174.06 69.44L175.92 69.09L175.98 69.08L177.9 68.75L179.82 68.43L181.73 68.14L181.73 68.14L182.81 68.62L183.94 69.04L184.02 69.08L185.34 69.52L186.03 69.66L187.24 69.84L188 69.9L189.91 69.94L190.47 69.94L191.79 69.91L193.66 69.87L195.53 69.85L195.53 69.85L196.34 70.49L197.15 71.13L197.59 71.48L197.86 71.78L198.48 72.45L199.12 73.13L199.64 73.64L199.78 73.8L200.41 74.48L201.08 75.16L201.59 75.63L201.8 75.84L202.57 76.51L203.41 77.19L203.44 77.22L204.31 77.87L205.21 78.5L205.29 78.56L206.38 79.25L206.92 79.58L207.58 79.95L208.6 80.51L208.89 80.66L210.24 81.39L210.24 81.39L210.24 81.39L210.24 80.65L210.24 79.91L210.24 79.17L210.24 78.43L210.24 77.69L210.24 76.95L210.24 76.21L210.24 75.48L210.24 74.74L210.24 74L210.24 73.26L210.24 72.52L210.24 71.78L210.24 71.04L210.24 70.3L210.24 69.56L210.24 68.82L210.24 68.08L210.24 67.34L210.24 66.6L210.24 65.87L210.24 65.13L210.24 64.39L210.24 63.65L210.24 62.91L210.24 62.17L210.24 61.43L208.27 61.45L206.29 61.5L204.32 61.59L202.35 61.71L200.38 61.86L198.42 62.05L196.46 62.27L194.5 62.53L194.5 62.53L192.53 62.7L190.53 62.72L188.99 62.69L188.5 62.69L186.47 62.7L185.16 62.73L184.44 62.76L182.41 62.91L180.39 63.14L180.39 63.14L178.37 63.39L176.34 63.65L175.69 63.74L174.31 63.93L172.27 64.25L171.32 64.41L170.23 64.61L168.2 65.01L166.76 65.33L166.18 65.47L164.17 65.99L162.17 66.56L161.42 66.8L160.19 67.21L158.24 67.91L156.31 68.69L154.42 69.54L152.56 70.46L150.73 71.46L148.96 72.54L147.24 73.7L145.56 74.94L143.95 76.25L142.39 77.63L142.29 77.72L140.9 79.09L139.49 80.64L139.4 80.74L138.16 82.27L137.53 83.13L136.92 83.99L136.16 85.2L135.79 85.81L135.13 87.03L134.78 87.72L134.31 88.72L133.96 89.81L133.85 90.13L133.36 91.58L133.23 91.95L132.83 93.09L132.49 94.02L132.24 94.68L131.7 95.99L131.52 96.44L130.82 97.84L130.49 98.56L129.98 99.69L129.6 100.59L129.2 101.56L128.8 102.59L128.47 103.45L128.05 104.58L127.78 105.33L127.32 106.61L127.11 107.21L126.59 108.7L126.46 109.07L125.82 110.91L125.82 110.91L125.48 112.6L125.42 112.91L125.14 114.35L125.04 114.87L124.76 116.2L124.63 116.78L124.31 118.2L124.2 118.65L123.77 120.42L123.75 120.48L123.28 122.28L123.09 122.95L122.81 124.05L122.44 125.56L122.38 125.83L121.99 127.61L121.88 128.15L121.63 129.38L121.33 130.87L121.27 131.14L120.93 132.88L120.74 133.85L120.59 134.61L120.26 136.33L120.07 137.23L119.92 138.04L119.58 139.73L119.24 141.41L119.24 141.41L118.92 143.08L118.61 144.76L118.31 146.42L118.25 146.73L118 148.08L117.69 149.73L117.38 151.37L117.08 153.02L116.8 154.67L116.55 156.32L116.33 157.97L116.33 157.97L116.13 159.62L115.97 161.28L115.85 162.94L115.75 164.6L115.69 166.26L115.65 167.91L115.63 169.57L115.62 171.22L115.62 172.88L115.62 174.53L115.62 174.53L115.62 174.53L115.41 176.18L114.93 177.53L114.81 177.86L114.24 178.88L113.85 179.58L113.56 179.98L112.87 180.9L112.53 181.36L112.19 181.74L111.51 182.49L110.83 183.22L110.83 183.23L110.14 183.87L109.46 184.51L108.78 185.11L108.67 185.2L108.1 185.66L107.36 185.72L106.6 185.54L106.2 185.46L105.84 185.39L105.08 185.27L104.33 185.17L103.6 185.36L102.88 185.54L102.16 185.72L101.43 185.9L100.9 186.02L100.71 186.06L99.98 186.23L99.77 186.14L99.2 185.88L98.42 185.53L97.64 185.18L96.87 184.82L96.1 184.56L96 184.52L95.34 184.27L94.57 183.98L93.81 183.68L93.04 183.37L92.28 183.05L91.58 182.83L91.52 182.8L90.76 182.62L90.01 182.44L89.26 182.25L88.5 182.06L87.75 181.86L87 181.68L86.25 181.51L85.5 181.33L84.75 181.14L84.64 181.11L84 180.94L83.25 180.73L82.49 180.31L81.73 179.92L80.98 179.57L80.23 179.28L79.72 179.09L79.48 178.99L78.73 178.69L77.98 178.4L77.23 178.12L77.27 179.17L77.37 181.49L77.51 183.81L77.55 184.45L78.33 184.92L79.11 185.35L79.88 185.75L80.17 185.91L80.66 186.17L81.44 186.53L82.24 187.12L83.04 187.76L83.2 187.88L83.86 188.44L84.61 188.53L85.37 188.61L86.12 188.67L86.87 188.73L87.62 188.78L88.37 188.86L89.13 188.97L89.89 189.08L90.64 189.18L90.79 189.19L91.4 189.27L92.16 189.36L92.92 189.5L93.69 189.7L94.46 189.9L95.23 190.09L96 190.27L96.78 190.45L96.86 190.46L97.55 190.61L98.34 190.93L99.13 191.23L99.92 191.53L100.72 191.82L101.24 191.79L101.46 191.78L102.2 191.74L102.94 191.71L103.69 191.67L104.43 191.64L105.18 191.62L105.95 191.76L106.72 191.92L107.5 192.09L108.28 192.27L109 192.06L109.67 191.61L110.34 191.15L111.01 190.66L111.68 190.16L111.71 190.13L112.35 189.65L113.02 189.13L113.68 188.59L114.35 188.04L114.41 188L115.02 187.47L115.69 186.89L116.36 186.28L116.61 186.02L117.01 185.58L117.67 184.84L118.21 184.2L118.33 184.04L118.99 183.17L119.49 182.47L119.64 182.22L120.3 181.13L120.49 180.8L120.95 179.84L121.26 179.19L121.61 178.19L121.82 177.62L122.16 176.07L122.28 174.58z M216.31 290.4L214.29 290.37L212.26 290.34L210.24 290.34L208.22 290.44L207.53 290.55L206.18 290.66L204.14 290.94L203.22 291.11L202.07 291.33L200.69 291.67L199.98 291.85L198.72 292.24L197.84 292.55L197.18 292.82L195.85 293.41L195.63 293.51L194.7 294.01L194.97 294.79L195.41 295.3L195.74 295.63L196.75 296.49L197.37 296.94L198.11 297.38L199.43 298.06L200.02 298.29L201.55 298.82L203.25 299.26L203.7 299.36L205.87 299.71L208.05 299.91L210.24 299.98L212.43 299.95L214.62 299.87L216.8 299.72L218.98 299.51L221.15 299.25L223.31 298.91L225.36 298.53L225.46 298.51L227.6 298.02L229.71 297.45L231.54 296.87L231.8 296.79L233.86 296.02L235.33 295.4L235.88 295.15L237.85 294.14L238 294.05L239.77 292.97L240.01 292.81L241.62 291.63L241.62 291.63L241.62 291.63L239.99 291.29L239.32 291.17L238.15 290.98L237.09 290.84L236 290.72L234.92 290.62L233.41 290.51L232.78 290.47L230.67 290.39L230.09 290.37L228.58 290.34L226.51 290.33L225.42 290.33L224.46 290.33L222.41 290.35L220.37 290.37L218.34 290.39L216.6 290.41z" clip-path="url(#p762479d433)" style="fill: #2f6c8e"/>
<path d="M210.59 173.92L210.58 173.96L210.57 174L210.56 174.03L210.55 174.06L210.55 174.09L210.54 174.11L210.54 174.13L210.53 174.15L210.53 174.17L210.52 174.19L210.52 174.21L210.52 174.22L210.51 174.24L210.51 174.25L210.51 174.26L210.5 174.27L210.5 174.28L210.5 174.29L210.5 174.3L210.5 174.31L210.49 174.32L210.49 174.33L210.49 174.34L210.49 174.35L210.49 174.36L210.48 174.36L210.48 174.37L210.48 174.38L210.48 174.38L210.48 174.39L210.48 174.4L210.48 174.4L210.48 174.41L210.48 174.41L210.47 174.42L210.47 174.42L210.47 174.43L210.47 174.43L210.47 174.44L210.47 174.44L210.47 174.45L210.47 174.45L210.47 174.46L210.47 174.46L210.47 174.47L210.47 174.47L210.47 174.48L210.47 174.48L210.47 174.48L210.47 174.49L210.46 174.49L210.46 174.5L210.46 174.5L210.46 174.5L210.46 174.51L210.46 174.51L210.46 174.52L210.46 174.52L210.46 174.52L210.46 174.53L210.46 174.53L210.46 174.54L210.46 174.54L210.46 174.54L210.46 174.55L210.46 174.55L210.46 174.56L210.46 174.56L210.46 174.56L210.46 174.57L210.46 174.57L210.46 174.58L210.46 174.58L210.46 174.58L210.46 174.59L210.46 174.59L210.46 174.6L210.46 174.6L210.46 174.6L210.46 174.61L210.46 174.61L210.46 174.62L210.46 174.62L210.46 174.63L210.47 174.63L210.47 174.64L210.47 174.64L210.47 174.65L210.47 174.65L210.47 174.66L210.47 174.67L210.47 174.67L210.47 174.68L210.47 174.68L210.47 174.69L210.47 174.7L210.47 174.7L210.47 174.71L210.47 174.72L210.47 174.73L210.48 174.73L210.48 174.74L210.48 174.75L210.48 174.76L210.48 174.77L210.48 174.78L210.48 174.79L210.48 174.8L210.49 174.81L210.49 174.82L210.49 174.84L210.49 174.85L210.49 174.86L210.49 174.88L210.5 174.9L210.5 174.91L210.5 174.93L210.51 174.95L210.51 174.97L210.51 175L210.52 175.03L210.52 175.05L210.52 175.09L210.53 175.12L210.54 175.16L210.54 175.2L210.55 175.21L210.66 175.51L210.8 175.9L210.93 176.16L211.13 176.56L211.26 176.82L211.46 177.22L211.77 177.89L211.84 178.11L211.99 178.6L212.01 178.69L212.06 179.03L212.11 179.35L212.1 179.38L212.08 179.59L212.06 179.82L212.04 180.05L212.02 180.17L211.99 180.25L211.92 180.39L211.85 180.54L211.78 180.69L211.7 180.83L211.61 180.98L211.56 181.05L211.51 181.09L211.41 181.16L211.3 181.23L211.19 181.29L211.08 181.34L210.96 181.39L210.84 181.43L210.73 181.47L210.61 181.5L210.48 181.53L210.36 181.56L210.24 181.59L210.12 181.62L209.99 181.64L209.87 181.67L209.74 181.69L209.61 181.72L209.48 181.74L209.35 181.77L209.22 181.8L209.08 181.83L209.08 181.83L208.95 181.85L208.81 181.87L208.67 181.89L208.53 181.92L208.39 181.94L208.24 181.97L208.09 182.01L207.94 182.05L207.78 182.09L207.62 182.14L207.5 182.18L207.45 182.2L207.28 182.24L207.1 182.3L206.92 182.36L206.72 182.43L206.52 182.52L206.45 182.55L206.3 182.6L206.08 182.7L205.84 182.81L205.59 182.94L205.58 182.94L205.3 183.08L205 183.25L204.83 183.35L204.67 183.45L204.29 183.69L204.14 183.79L203.86 183.99L203.51 184.25L203.34 184.39L202.91 184.74L202.67 184.95L202.35 185.24L201.81 185.76L201.63 185.95L201.3 186.3L200.82 186.86L200.35 187.44L199.92 188.04L199.52 188.67L199.42 188.89L199.2 189.35L198.9 190.05L198.79 190.28L198.59 190.73L198.25 191.4L197.89 192.05L197.51 192.69L197.22 193.12L197.1 193.3L196.67 193.9L196.66 193.92L196.23 194.5L195.77 195.07L195.29 195.65L194.82 196.21L194.33 196.78L193.85 197.34L193.37 197.9L192.89 198.47L192.49 198.96L192.42 199.04L191.96 199.62L191.5 200.2L191.05 200.79L190.58 201.36L190.08 201.91L189.5 202.4L189.03 202.67L188.72 202.74L188.25 202.68L187.69 202.38L187.2 201.98L186.76 201.54L186.33 201.08L185.91 200.62L185.48 200.17L185.03 199.74L184.56 199.33L184.06 198.94L183.54 198.57L182.97 198.23L182.75 198.12L182.37 197.91L181.72 197.63L181.25 197.45L181.01 197.37L180.22 197.15L180.05 197.11L179.34 196.98L179 196.93L178.34 196.87L178.04 196.85L177.16 196.84L177.14 196.84L176.29 196.9L175.67 196.98L175.48 197L174.7 197.15L173.94 197.35L173.5 197.49L173.22 197.58L172.51 197.84L171.83 198.15L171.17 198.49L170.53 198.86L169.92 199.27L169.32 199.71L168.74 200.18L168.17 200.67L167.68 201.13L167.62 201.18L167.07 201.68L166.51 202.18L165.93 202.65L165.34 203.11L164.75 203.56L164.17 204.02L163.59 204.48L163.02 204.96L162.46 205.46L162.1 205.79L161.91 205.97L161.37 206.5L160.85 207.04L160.34 207.61L159.84 208.21L159.37 208.83L159.35 208.86L158.92 209.48L158.5 210.17L158.12 210.92L158.05 211.07L157.8 211.75L157.56 212.69L157.54 212.82L157.53 213.89L157.55 214.23L157.7 215.34L157.74 215.55L157.99 216.84L158 216.91L158.28 218.12L158.38 218.53L158.62 219.4L158.88 220.22L159.02 220.65L159.51 221.83L159.75 222.26L160.13 222.92L160.94 223.83L161.92 224.57L162.24 224.77L162.98 225.21L164.07 225.8L165.04 226.33L165.16 226.39L166.19 227.03L167.13 227.77L167.93 228.68L167.96 228.73L168.55 229.86L168.62 230.17L168.79 231.21L168.8 231.56L168.75 232.1L168.59 232.89L168.34 233.62L168.05 234.32L167.76 235.02L167.64 235.36L167.56 235.78L167.59 236.7L167.82 237.43L169.08 237.9L169.48 237.96L170.48 238.16L171.78 238.54L172.8 239.38L173.77 240.33L174.47 240.9L174.8 241.18L175.87 241.98L176.96 242.76L178.06 243.53L178.06 243.53L179.16 244.32L180.26 245.15L180.73 245.52L181.34 246.05L182.14 246.88L182.36 247.15L182.89 247.96L183.26 248.65L183.37 248.92L183.71 249.83L184.01 250.69L184.02 250.72L184.29 251.59L184.56 252.46L184.76 252.96L184.89 253.34L185.28 254.24L185.65 254.96L185.77 255.17L186.49 256.15L186.74 256.48L187.78 257.28L188.01 257.49L189.38 258.18L190.79 258.78L190.94 258.83L192.22 259.31L193.67 259.78L195.13 260.21L196.61 260.6L197.62 260.84L198.1 260.94L199.59 261.25L201.1 261.51L202.61 261.76L204.12 261.99L205.64 262.22L207.12 262.44L207.17 262.44L208.7 262.67L210.24 262.91L211.79 263.17L212.03 263.21L213.35 263.45L214.92 263.81L215.05 263.84L216.52 264.32L216.88 264.47L218.07 265.11L218.17 265.18L218.91 265.78L219.88 266.29L220.08 266.4L221.09 267.03L221.65 267.42L221.98 267.67L222.59 268.34L222.18 269.13L221.9 269.48L221.47 269.97L220.66 270.8L220.39 271.06L219.71 271.64L218.8 272.39L218.69 272.48L217.47 273.32L217.16 273.52L216.03 274.15L215.48 274.44L214.31 274.98L213.76 275.22L212.23 275.78L212.01 275.85L210.24 276.33L209.35 276.53L208.46 276.67L206.66 276.91L204.86 277.13L204.86 277.14L203.05 277.34L201.22 277.58L201.03 277.61L199.38 277.86L198.31 278.07L197.51 278.24L196.3 278.57L195.6 278.71L194.32 279.03L193.66 279.21L192.67 279.51L191.71 280.1L191.61 280.16L190.81 280.69L190 281.29L189.4 281.74L189.2 281.89L188.42 282.49L187.65 283.08L187.08 283.48L186.82 283.66L185.99 284.24L185.18 284.81L184.7 285.15L184.37 285.39L183.56 285.95L182.76 286.52L182.22 286.9L181.96 287.08L181.15 287.64L180.37 288.2L179.63 288.77L179.63 288.77L179.24 289.43L178.86 290.09L178.5 290.76L178.12 291.42L177.73 292.08L177.35 292.74L176.95 293.4L176.55 294.06L176.52 294.82L176.51 295.58L176.5 296.34L176.51 297.11L176.53 297.89L176.59 298.67L176.7 299.46L176.74 299.54L177.86 300.53L178.67 301.17L179.35 301.67L180.67 302.62L180.93 302.8L182.65 303.94L182.72 303.98L184.54 305.08L184.85 305.14L187.14 305.56L189.43 305.95L191.72 306.29L194.02 306.59L196.33 306.86L198.64 307.08L200.96 307.26L203.28 307.4L205.6 307.5L207.92 307.56L210.24 307.58L212.56 307.56L214.88 307.5L217.2 307.4L219.52 307.26L221.84 307.08L224.15 306.86L226.46 306.59L228.76 306.29L231.05 305.95L233.34 305.56L235.63 305.14L237.9 304.68L240.17 304.17L242.43 303.63L244.68 303.05L246.92 302.43L249.14 301.77L251.36 301.07L253.56 300.33L255.75 299.56L257.74 298.82L257.85 298.56L258.12 297.88L258.52 296.93L258.95 295.96L259.14 295.56L259.39 294.99L259.85 294L260.35 292.99L260.4 292.7L260.49 292.12L260.42 291.35L260.32 290.59L260.24 289.82L260.25 289L260.29 288.18L260.32 287.36L260.34 287.05L260.35 286.54L260.36 285.72L260.38 284.9L259.91 284.3L259.61 283.63L259.31 282.95L259.02 282.27L258.72 281.6L258.42 280.92L258.12 280.24L257.76 279.6L257.62 278.85L257.48 278.1L257.35 277.35L257.22 276.59L257.11 275.83L257 275.07L256.94 274.68L256.89 274.3L256.79 273.53L256.7 272.76L256.62 271.98L256.49 271.22L256.37 270.46L256.26 269.69L256.16 268.92L256.12 268.61L256.07 268.14L256 267.35L256.03 266.51L256.07 265.66L256.12 264.81L256.14 264.61L256.19 263.94L256.28 263.06L256.39 262.17L256.48 261.49L256.51 261.27L256.67 260.35L256.84 259.41L256.96 258.82L257.04 258.46L257.28 257.47L257.55 256.47L257.55 256.47L258.8 255.34L259.93 254.17L259.98 254.13L261.09 252.83L261.48 252.3L262.12 251.44L262.64 250.64L263.06 249.96L263.51 249.12L263.83 248.29L263.96 247.88L264.53 246.57L264.55 246.52L265.1 245.17L265.21 244.89L265.64 243.81L265.86 243.21L266.26 242.35L266.56 241.65L267.08 240.69L267.34 240.21L267.78 239.09L267.95 238.63L268.3 237.63L268.49 237L268.86 236.09L269.1 235.48L269.98 234.27L271.17 233.37L272.32 232.41L273.2 231.22L273.64 230.04L273.73 229.71L273.84 228.67L273.81 227.87L273.86 227.51L274.08 226.22L274.14 225.99L274.54 224.76L274.9 223.82L275.09 223.4L275.76 222.13L276.56 220.97L277.48 219.88L278.38 218.78L279.15 217.59L279.75 216.29L280.23 214.93L280.72 213.6L280.77 213.47L281.26 212.29L281.78 210.98L282.27 209.66L282.55 208.35L282.57 208.26L282.52 206.71L282.51 206.66L282.35 205.17L282.35 205.14L282.21 203.6L282.21 203.6L282.15 202.13L282.16 201.7L282.06 200.67L282.04 199.87L282.01 199.24L282.05 197.86L282.09 197.39L282.14 196.51L282.28 195.19L282.46 193.88L282.62 192.85L282.65 192.58L282.86 191.29L283.06 190.01L283.24 188.72L283.34 187.42L283.17 186.6L283.03 186.06L282.63 185.22L282.37 184.67L282.05 184.11L281.59 183.29L281.44 183.03L280.86 181.95L280.82 181.85L280.53 180.68L280.35 179.43L280.31 179.2L280.1 178.19L279.73 176.95L279.69 176.8L279.3 175.73L278.98 174.84L278.86 174.53L278.47 173.34L278.21 172.23L278.19 172.16L277.99 170.98L277.86 169.8L277.74 168.62L277.58 167.45L277.31 166.29L276.87 165.16L276.84 165.11L276.34 164.06L275.77 163.03L275.74 162.98L275.09 161.92L274.69 161.34L274.38 160.89L273.63 159.95L273.6 159.9L272.73 158.95L272.6 158.81L271.79 158.04L271.59 157.86L270.77 157.17L270.59 157.03L269.71 156.35L269.59 156.26L268.61 155.56L268.58 155.54L267.57 154.84L267.52 154.81L266.51 154.07L266.49 154.05L265.55 153.3L265.38 153.16L264.62 152.56L264.21 152.21L263.72 151.83L262.97 151.21L262.84 151.11L261.98 150.4L261.67 150.14L261.12 149.71L260.34 149.12L260.24 149.05L259.26 148.47L259.15 148.42L258.13 148.09L257.99 148.06L257.18 147.91L256.49 147.83L256.26 147.8L255.36 147.72L254.91 147.69L254.45 147.63L253.5 147.5L253.49 147.5L252.42 147.2L252.36 147.18L251.43 146.75L251.08 146.51L250.64 146.24L249.95 145.68L249.33 145.07L248.74 144.45L248.31 144.02L248.12 143.85L247.19 143.52L246.97 143.55L246.27 143.87L245.68 144.31L245.12 144.8L244.59 145.31L244.05 145.82L243.5 146.32L242.93 146.79L242.33 147.23L241.7 147.62L241.01 147.96L240.64 148.1L240.27 148.23L239.43 148.4L239.24 148.42L238.44 148.41L238.27 148.39L237.48 148.22L237.07 148.05L236.82 147.95L236.24 147.6L235.72 147.21L235.24 146.76L234.78 146.29L234.34 145.81L233.88 145.34L233.38 144.91L232.8 144.59L232.07 144.48L231.82 144.52L231.06 144.79L230.98 144.83L230.26 145.24L229.83 145.49L229.57 145.66L228.87 146.08L228.63 146.21L228.13 146.49L227.62 146.72L227.32 146.85L226.76 147.03L226.37 147.14L226.01 147.21L225.35 147.27L225.09 147.26L224.74 147.25L224.18 147.18L223.64 147.06L223.11 146.94L222.58 146.82L222.47 146.8L222.05 146.71L221.53 146.59L221.01 146.46L220.51 146.32L220 146.17L219.5 146.02L219 145.87L218.5 145.73L217.99 145.59L217.49 145.46L216.97 145.36L216.46 145.28L215.93 145.23L215.41 145.23L214.87 145.27L214.73 145.3L214.33 145.45L213.76 145.82L213.68 145.91L213.26 146.6L213.14 146.92L213 147.32L212.85 148.05L212.79 148.78L212.81 149.53L212.84 149.76L212.94 150.28L213.13 150.96L213.17 151.06L213.45 151.71L213.52 151.85L213.76 152.29L213.99 152.67L214.07 152.8L214.38 153.25L214.58 153.54L214.67 153.67L214.97 154.06L215.25 154.44L215.26 154.45L215.52 154.81L215.79 155.18L215.94 155.4L216.04 155.55L216.28 155.93L216.51 156.31L216.55 156.37L216.72 156.72L216.92 157.14L217 157.33L217.08 157.6L217.22 158.09L217.25 158.23L217.26 158.76L217.25 159.04L216.99 159.73L216.6 160.37L216.47 160.53L216.12 160.96L215.9 161.2L215.57 161.53L215.44 161.66L215.04 162.02L214.97 162.09L214.67 162.35L214.33 162.64L214.33 162.64L214 162.95L213.71 163.22L213.69 163.24L213.32 163.78L213.27 163.86L213.03 164.56L212.89 165.29L212.88 165.3L212.81 166.04L212.81 166.12L212.8 166.66L212.79 166.81L212.8 167.1L212.81 167.47L212.81 167.6L212.82 167.81L212.83 168.12L212.84 168.39L212.84 168.41L212.84 168.7L212.83 168.97L212.83 169.21L212.83 169.22L212.73 169.64L212.66 169.95L212.6 170.08L212.37 170.64L212.03 171.29L211.66 171.93L211.32 172.5L211.28 172.57L210.91 173.2L210.91 173.21L210.91 173.22L210.7 173.66L210.6 173.87L210.6 173.88z M223.08 196.14L223.2 196.09L223.63 195.95L224.06 195.81L224.5 195.67L224.94 195.52L225.38 195.36L225.75 195.23L225.82 195.21L226.27 195.05L226.73 194.9L227.2 194.74L227.67 194.57L227.82 194.51L228.11 194.37L228.51 194.12L228.88 193.83L229.24 193.53L229.58 193.2L229.9 192.86L230.21 192.51L230.52 192.15L230.81 191.79L231.09 191.41L231.37 191.04L231.64 190.65L231.91 190.27L232.17 189.88L232.43 189.5L232.7 189.11L232.96 188.73L233.23 188.34L233.51 187.96L233.8 187.59L234.11 187.22L234.43 186.85L234.78 186.5L234.87 186.41L235.16 186.15L235.59 185.81L236.08 185.5L236.11 185.48L236.69 185.21L237.06 185.1L237.53 185L237.91 184.94L238.47 184.8L238.81 184.65L239.01 184.43L239.31 183.97L239.58 183.5L239.9 183.03L240.19 182.72L240.28 182.58L240.65 182.11L241.1 181.65L241.25 181.51L241.5 181.17L241.86 180.67L242.23 180.17L242.28 180.1L242.57 179.65L242.91 179.12L243.25 178.58L243.26 178.57L243.55 178.03L243.84 177.47L244.12 176.9L244.17 176.77L244.35 176.32L244.56 175.73L244.74 175.13L244.89 174.53L244.98 174.03L245 173.92L245.07 173.31L245.11 172.7L245.12 172.09L245.09 171.48L245.02 170.87L244.92 170.27L244.8 169.67L244.64 169.08L244.46 168.49L244.45 168.45L244.27 167.91L244.06 167.34L243.85 166.77L243.65 166.2L243.45 165.63L243.27 165.06L243.12 164.47L243.01 163.88L242.95 163.27L242.94 162.79L242.95 162.62L243.09 161.92L243.25 161.53L243.49 161.09L243.73 160.74L244.21 160.11L244.25 160.06L244.8 159.47L245.37 158.92L245.45 158.85L245.96 158.44L246.58 158.02L247.23 157.66L247.93 157.41L248.67 157.25L249.25 157.16L249.43 157.14L250.21 157.07L250.98 156.99L251.74 156.89L251.81 156.88L252.49 156.78L253.23 156.63L253.96 156.45L254.69 156.27L255.42 156.12L255.97 156.05L256.18 156.03L257 156.08L257.85 156.23L257.89 156.24L258.73 156.47L259.31 156.67L259.63 156.77L260.54 157.13L260.63 157.18L261.46 157.55L261.86 157.75L262.39 158.03L263.02 158.39L263.35 158.61L263.98 159.12L264.39 159.55L264.7 159.93L265.33 160.79L265.55 161.11L265.94 161.67L266.54 162.56L266.69 162.81L267.11 163.47L267.63 164.41L267.83 164.84L268.06 165.37L268.31 166.37L268.29 167.4L268.24 167.7L268.08 168.45L267.79 169.49L267.7 169.8L267.51 170.52L267.3 171.54L267.19 172.54L267.23 173.53L267.48 174.53L267.89 175.36L267.99 175.54L268.59 176.57L268.6 176.58L269.16 177.62L269.28 177.89L269.61 178.68L269.88 179.75L269.88 179.77L270.17 180.83L270.47 181.37L271.15 181.88L271.88 182.02L272.64 181.92L273.41 181.65L274.19 181.29L274.26 181.26L274.96 181.04L275.71 180.98L276.43 181.18L276.9 181.53L277.08 182.07L277.13 182.74L277.1 183.92L277.11 185.12L277.17 186.33L277.18 186.5L277.23 187.55L277.3 188.78L277.34 189.5L277.35 190.02L277.38 191.27L277.4 192.34L277.4 192.52L277.41 193.79L277.43 194.93L277.43 195.07L277.46 196.37L277.49 197.18L277.5 197.69L277.58 199.04L277.59 199.13L277.7 200.42L277.75 200.81L277.87 201.85L277.94 202.32L278.1 203.33L278.17 203.69L278.4 204.87L278.41 204.96L278.65 206.23L278.69 206.45L278.8 207.64L278.82 207.98L278.72 209.42L278.7 209.49L278.34 210.74L277.95 212.06L277.71 212.89L277.56 213.39L277.14 214.72L276.54 215.96L275.69 217.03L274.77 218.05L273.86 219.08L273.3 219.77L273.01 220.13L272.22 221.23L272.16 221.33L271.5 222.39L270.89 223.64L270.55 224.55L270.4 225L270.08 226.24L270.03 226.5L269.78 227.72L269.72 228.08L269.11 229.43L268.06 230.37L266.91 231.2L265.81 232.07L264.82 233.06L263.91 234.14L263.04 235.26L262.76 235.63L262.19 236.44L261.37 237.67L261.28 237.83L260.6 238.99L260.32 239.52L259.9 240.43L259.68 240.94L259.26 242L259.17 242.23L258.68 243.49L258.63 243.63L258.16 244.74L257.96 245.27L257.61 246L257.23 246.89L257.04 247.26L256.47 248.49L256.47 248.51L255.67 249.85L255.57 249.97L254.36 250.94L253.01 251.68L251.6 252.32L250.45 252.76L250.15 252.86L248.63 253.24L247.34 253.47L247.07 253.52L245.48 253.69L245.02 253.71L243.87 253.75L243.03 253.76L242.24 253.74L241.04 253.76L240.65 253.76L239.1 253.81L238.8 253.81L237.52 253.76L236.88 253.7L235.92 253.57L235.18 253.47L234.34 253.36L233.37 253.25L232.8 253.19L231.32 253.06L231.28 253.06L229.78 252.9L229.26 252.82L228.28 252.69L227.35 252.51L226.79 252.4L225.67 252.1L225.3 252L224.25 251.62L223.8 251.45L223.02 251.08L222.31 250.72L221.93 250.51L220.97 249.91L220.82 249.81L220.05 249.28L219.36 248.79L219.16 248.65L218.21 248.02L217.95 247.86L216.87 247.41L216.61 247.31L215.31 247.05L214.21 246.86L214.03 246.83L212.76 246.63L211.49 246.39L210.78 246.23L210.24 246.1L209 245.72L208.27 245.46L207.77 245.27L206.56 244.75L206.34 244.64L205.37 244.16L204.66 243.79L204.2 243.54L203.05 242.9L203.04 242.9L201.92 242.27L201.34 241.95L200.81 241.66L199.7 241.08L199.39 240.91L198.61 240.51L197.52 239.96L197.08 239.74L196.45 239.41L195.39 238.85L194.73 238.46L194.36 238.24L193.35 237.57L192.88 237.22L192.38 236.82L191.58 236.07L191.46 235.95L190.68 235.01L190.61 234.93L190.05 234.03L189.87 233.68L189.61 233.09L189.3 232.2L189.28 232.11L189.1 231.34L188.99 230.5L188.96 229.97L188.94 229.7L188.95 228.91L189.02 228.14L189.13 227.39L189.3 226.66L189.5 225.94L189.75 225.25L190.04 224.57L190.37 223.9L190.74 223.25L191.14 222.62L191.57 221.99L192.04 221.38L192.45 220.88L192.53 220.78L193.05 220.19L193.59 219.6L193.98 219.19L194.15 219.02L194.73 218.44L195.32 217.86L195.32 217.85L195.91 217.28L196.5 216.7L196.56 216.64L197.09 216.11L197.68 215.52L197.72 215.47L198.26 214.92L198.82 214.35L198.85 214.32L199.43 213.72L199.86 213.26L200.01 213.11L200.59 212.5L200.84 212.23L201.17 211.88L201.76 211.26L201.76 211.26L202.36 210.64L202.62 210.36L202.97 210.01L203.43 209.55L203.61 209.38L204.19 208.82L204.26 208.75L204.91 208.15L204.95 208.12L205.6 207.55L205.69 207.48L206.25 207L206.47 206.83L206.88 206.51L207.32 206.18L207.48 206.06L208.06 205.65L208.28 205.51L208.63 205.28L209.18 204.95L209.42 204.82L209.71 204.66L210.24 204.42L210.76 204.24L211.27 204.11L211.55 204.07L211.79 204.02L212.3 203.96L212.81 203.93L213.33 203.9L213.73 203.89L213.84 203.88L214.36 203.85L214.88 203.8L215.39 203.72L215.89 203.61L216.34 203.46L216.39 203.44L216.84 203.13L217.25 202.64L217.32 202.47L217.4 201.69L217.36 201.1L217.35 200.94L217.24 200.2L217.19 199.45L217.25 198.97L217.32 198.64L217.51 198.32L217.86 197.97L218.23 197.75L218.63 197.57L219.03 197.42L219.43 197.28L219.84 197.15L220.25 197.02L220.67 196.89L221.08 196.76L221.5 196.63L221.92 196.5L222.34 196.37L222.77 196.23z M216.6 290.41L218.34 290.39L220.37 290.37L222.41 290.35L224.46 290.33L225.42 290.33L226.51 290.33L228.58 290.34L230.09 290.37L230.67 290.39L232.78 290.47L233.41 290.51L234.92 290.62L236 290.72L237.09 290.84L238.15 290.98L239.32 291.17L239.99 291.29L241.62 291.63L241.62 291.63L241.62 291.63L240.01 292.81L239.77 292.97L238 294.05L237.85 294.14L235.88 295.15L235.33 295.4L233.86 296.02L231.8 296.79L231.54 296.87L229.71 297.45L227.6 298.02L225.46 298.51L225.36 298.53L223.31 298.91L221.15 299.25L218.98 299.51L216.8 299.72L214.62 299.87L212.43 299.95L210.24 299.98L208.05 299.91L205.87 299.71L203.7 299.36L203.25 299.26L201.55 298.82L200.02 298.29L199.43 298.06L198.11 297.38L197.37 296.94L196.75 296.49L195.74 295.63L195.41 295.3L194.97 294.79L194.7 294.01L195.63 293.51L195.85 293.41L197.18 292.82L197.84 292.55L198.72 292.24L199.98 291.85L200.69 291.67L202.07 291.33L203.22 291.11L204.14 290.94L206.18 290.66L207.53 290.55L208.22 290.44L210.24 290.34L212.26 290.34L214.29 290.37L216.31 290.4z M236.54 109.43L236.69 109.47L237.7 109.83L238.88 110.2L240.08 110.53L241.3 110.85L241.79 110.97L242.53 111.15L243.78 111.44L244.73 111.66L245.04 111.74L246.32 112.03L247.22 112.23L247.61 112.33L248.92 112.62L249.47 112.75L250.24 112.94L251.55 113.28L251.67 113.31L252.85 113.68L254.1 114.16L254.28 114.24L255.3 114.73L256.46 115.36L257.64 116L257.94 116.14L258.87 116.57L260.12 117.01L260.21 117.04L261.59 117.31L261.73 117.35L262.85 117.46L263.46 117.45L263.89 117.42L264.81 117.28L265.66 117.07L265.75 117.04L266.55 116.9L267.43 116.73L268.16 116.61L268.39 116.64L269.76 116.99L269.81 117L271.09 117.78L272.21 118.73L273.27 119.74L273.41 119.88L274.32 120.76L275.39 121.77L276.52 122.74L276.99 123.09L277.68 123.71L278.89 124.65L279.25 124.89L280.2 125.54L280.88 125.92L281.73 126.3L282.14 126.46L283.26 126.82L283.58 126.9L284.32 127.1L285.27 127.21L285.86 127.28L286.24 127.36L287.26 127.62L287.97 127.82L288.37 128.03L289.62 128.7L289.62 128.7L290.98 129.6L291.12 129.69L292.35 130.57L292.59 130.74L293.74 131.62L294.02 131.84L295.14 132.77L295.48 132.96L296.31 133.48L297.12 134.02L297.51 134.29L298.67 135.15L298.73 135.2L299.95 136.16L300.19 136.35L301.16 137.11L301.72 137.57L302.32 138.03L303.33 138.8L303.45 138.88L304.52 139.63L304.69 138.27L304.71 138.04L304.81 136.32L304.81 136.3L304.83 134.4L304.83 134.38L305.01 132.95L305.11 132.29L305.2 131.57L305.43 130.3L305.48 130.12L305.69 129.12L306.04 128.13L306.09 127.78L306.13 126.63L305.93 125.77L305.38 123.94L304.88 122.65L304.66 122.19L303.77 120.53L302.79 118.92L302.01 117.73L301.74 117.35L300.61 115.84L299.47 114.34L298.32 112.85L297.17 111.37L296.02 109.89L294.87 108.41L293.95 106.74L293.82 106.25L293.38 104.77L293.32 104.49L292.88 102.84L292.84 102.72L292.38 101.15L292.23 100.71L291.72 99.32L291.49 98.76L290.85 97.32L290.64 96.88L289.69 95.08L289.69 95.08L288.77 93.21L288.74 93.11L288.21 91.59L288.06 91.08L287.85 90.24L287.39 88.84L287.37 88.81L286.72 87.24L286.52 86.77L285.54 85.25L285.37 84.99L283.99 83.46L282.52 82.02L281.49 81.05L281.01 80.61L279.51 79.18L278.08 77.65L278.08 77.65L278.23 76.85L278.41 76.07L278.61 75.31L278.81 74.56L279.03 73.81L279.24 73.06L279.45 72.31L279.63 71.66L279.65 71.55L279.49 70.56L279.37 69.58L279.26 68.63L279.23 68.3L279.16 67.69L279.09 66.76L279.03 65.85L279 64.96L279 64.5L279 64.08L279.01 63.22L279.04 62.37L279.08 61.53L279.14 60.7L278.77 60.48L276.77 59.3L274.75 58.15L272.71 57.05L271.21 56.26L271.13 57.06L271.06 57.85L270.98 58.64L270.89 59.43L270.81 60.23L270.76 60.7L270.73 61.02L270.68 61.83L270.63 62.64L270.49 63.41L270.32 64.16L270.16 64.91L270.01 65.67L269.9 66.46L269.83 67.02L269.82 67.25L269.78 68.08L269.75 68.91L269.74 69.75L269.73 70.6L269.75 71.46L269.75 71.46L269.73 72.3L269.76 73.18L269.87 74.11L270.05 74.98L270.07 75.08L270.28 76.08L270.71 77.21L270.86 77.51L271.44 78.54L272.01 79.41L272.6 80.18L273.3 81.04L274.69 82.49L274.69 82.49L276.04 83.96L277.45 85.34L277.77 85.66L278.85 86.71L280.22 88.11L281.51 89.59L281.51 89.59L282.57 91.33L282.67 91.55L283.51 93.15L283.64 93.4L284.49 94.91L284.86 95.54L285.51 96.59L286.55 98.21L286.55 98.21L286.55 99.26L286.59 100.36L286.65 100.74L286.73 101.56L287.03 102.92L287.05 102.98L287.69 104.78L287.69 104.79L288.5 106.49L288.98 107.38L289.39 108.11L290.3 109.7L291.21 111.27L291.21 111.27L291.27 112.56L291.31 113.44L291.32 113.85L291.37 115.16L291.34 115.6L291.24 116.25L291.03 117.22L290.77 118.13L290.77 118.14L290.43 118.93L290.04 119.68L289.53 120.23L288.96 120.71L288.38 121.17L287.45 121.13L286.55 121.13L286.5 121.13L285.62 121.09L284.71 121.08L283.81 121.1L283.78 121.1L282.81 120.99L281.85 120.94L281.37 120.93L280.66 120.58L280 120.03L279.14 118.73L279.06 118.57L278.73 117.06L278.73 117L278.51 115.6L278.43 115.25L278.2 114.13L278.03 113.49L277.69 112.46L277.46 111.85L276.67 110.38L276.33 109.96L275.65 109.12L275.39 109L274.03 108.47L273.81 108.49L272.86 108.61L271.96 108.78L271.42 108.92L271.14 109.02L270.39 109.34L269.63 109.64L268.88 109.95L268.14 110.28L268.06 110.31L267.38 110.59L266.66 110.94L265.92 111.27L265.15 111.58L264.87 111.68L264.21 111.74L263.09 111.77L262.91 111.75L261.59 111.11L260.41 110.31L259.3 109.43L258.17 108.56L256.97 107.78L256.37 107.57L255.6 107.28L254.28 107.05L254.08 107.02L252.55 106.83L252.55 106.83L251.08 106.56L250.38 106.37L249.7 106.19L248.38 105.73L247.07 105.26L246.44 105.04L245.76 104.81L244.42 104.44L243.22 104.27L243.02 104.24L241.56 104.18L241.24 104.18L240.16 104.05L238.85 103.72L237.67 103.07L236.96 102.45L236.66 101.93L236.43 101.46L235.96 100.51L235.8 100.28L235.01 99.41L234.73 99.17L233.53 98.37L232.7 97.92L232.28 97.67L231.02 96.99L230.1 96.44L229.76 96.24L228.48 95.51L227.33 95.03L227.15 94.95L225.81 94.45L224.46 93.9L223.94 93.63L223.13 93.15L222.39 92.63L221.81 92.17L221.48 91.76L220.9 90.94L220.57 90.42L220.42 90.13L220.02 89.34L219.6 88.55L219.33 88.08L219.06 87.75L218.14 86.92L217.92 86.75L216.43 86.04L216.43 86.04L214.91 85.39L214.36 85.18L213.38 84.73L212.75 84.38L211.83 83.7L211.75 83.62L211.14 82.87L210.65 82.13L210.24 81.39L210.24 82.13L210.24 82.87L210.24 83.61L210.24 84.35L210.24 85.08L210.24 85.82L210.24 86.56L210.24 87.3L210.24 88.04L210.24 88.78L210.24 89.52L210.24 90.26L210.24 91L210.24 91.74L210.24 92.48L210.24 93.22L210.24 93.96L210.24 94.69L210.24 95.43L210.24 96.17L210.24 96.91L210.24 97.65L210.24 98.39L210.24 99.13L210.24 99.87L210.24 100.61L210.24 101.35L210.24 101.79L211.51 101.75L212.78 101.68L214.06 101.61L215.34 101.57L215.9 101.57L216.62 101.57L217.9 101.62L219.18 101.73L220.45 101.89L221.71 102.11L222.96 102.4L223.5 102.56L224.19 102.77L225.38 103.28L226.55 103.9L226.68 103.98L227.68 104.56L228.8 105.25L228.86 105.28L229.91 105.94L231 106.62L231.15 106.72L232.09 107.28L233.19 107.89L234.29 108.46L235.41 108.97L235.58 109.03z M206.42 101.57L207.7 101.68L208.97 101.76L210.24 101.79L210.24 101.35L210.24 100.61L210.24 99.87L210.24 99.13L210.24 98.39L210.24 97.65L210.24 96.91L210.24 96.17L210.24 95.43L210.24 94.69L210.24 93.96L210.24 93.22L210.24 92.48L210.24 91.74L210.24 91L210.24 90.26L210.24 89.52L210.24 88.78L210.24 88.04L210.24 87.3L210.24 86.56L210.24 85.82L210.24 85.08L210.24 84.35L210.24 83.61L210.24 82.87L210.24 82.13L210.24 81.39L210.24 81.39L208.89 80.66L208.6 80.51L207.58 79.95L206.92 79.58L206.38 79.25L205.29 78.56L205.21 78.5L204.31 77.87L203.44 77.22L203.41 77.19L202.57 76.51L201.8 75.84L201.59 75.63L201.08 75.16L200.41 74.48L199.78 73.8L199.64 73.64L199.12 73.13L198.48 72.45L197.86 71.78L197.59 71.48L197.15 71.13L196.34 70.49L195.53 69.85L195.53 69.85L193.66 69.87L191.79 69.91L190.47 69.94L189.91 69.94L188 69.9L187.24 69.84L186.03 69.66L185.34 69.52L184.02 69.08L183.94 69.04L182.81 68.62L181.73 68.14L181.73 68.14L179.82 68.43L177.9 68.75L175.98 69.08L175.92 69.09L174.06 69.44L172.13 69.81L170.96 70.05L170.19 70.2L168.26 70.61L166.69 70.95L166.31 71.04L164.36 71.48L162.84 71.84L162.4 71.94L160.45 72.45L159.06 72.84L158.51 73L156.59 73.64L154.73 74.39L152.95 75.3L151.29 76.42L149.77 77.76L149.06 78.53L148.38 79.28L147.53 80.41L147.12 80.95L146.41 82.06L145.97 82.75L145.5 83.6L144.92 84.62L144.65 85.13L143.86 86.44L143.65 86.79L142.81 88.22L142.64 88.51L141.77 89.98L141.58 90.31L140.75 91.71L140.45 92.21L139.73 93.41L139.22 94.25L138.71 95.09L137.86 96.48L137.7 96.74L136.7 98.37L136.36 98.93L135.77 100.06L135.32 101.01L135 101.87L134.78 102.63L134.43 103.84L134.36 104.16L134 105.65L133.95 105.84L133.69 107.11L133.53 107.85L133.4 108.56L133.16 109.85L133.12 110.03L132.84 111.54L132.79 111.81L132.52 113.13L132.4 113.71L132.13 114.83L131.95 115.53L131.6 116.76L131.46 117.29L131.04 118.82L130.98 119.03L130.53 120.77L130.5 120.9L130.11 122.49L129.97 123.05L129.71 124.21L129.47 125.25L129.33 125.91L128.94 127.59L128.94 127.59L128.52 129.23L128.25 130.34L128.13 130.87L127.76 132.5L127.61 133.18L127.41 134.13L127.08 135.75L127 136.16L126.76 137.36L126.45 138.96L126.35 139.46L126.14 140.55L125.83 142.12L125.5 143.68L125.5 143.68L125.13 145.22L124.78 146.76L124.44 148.3L124.12 149.83L123.84 151.38L123.84 151.38L123.61 152.93L123.41 154.48L123.22 156.03L123.05 157.58L122.88 159.12L122.88 159.12L122.73 160.67L122.61 162.21L122.51 163.76L122.43 165.3L122.37 166.84L122.33 168.38L122.31 169.92L122.3 171.46L122.29 172.82L122.29 172.99L122.28 174.53L122.28 174.58L122.16 176.07L121.82 177.62L121.61 178.19L121.26 179.19L120.95 179.84L120.49 180.8L120.3 181.13L119.64 182.22L119.49 182.47L118.99 183.17L118.33 184.04L118.21 184.2L117.67 184.84L117.01 185.58L116.61 186.02L116.36 186.28L115.69 186.89L115.02 187.47L114.41 188L114.35 188.04L113.68 188.59L113.02 189.13L112.35 189.65L111.71 190.13L111.68 190.16L111.01 190.66L110.34 191.15L109.67 191.61L109 192.06L108.28 192.27L107.5 192.09L106.72 191.92L105.95 191.76L105.18 191.62L104.43 191.64L103.69 191.67L102.94 191.71L102.2 191.74L101.46 191.78L101.24 191.79L100.72 191.82L99.92 191.53L99.13 191.23L98.34 190.93L97.55 190.61L96.86 190.46L96.78 190.45L96 190.27L95.23 190.09L94.46 189.9L93.69 189.7L92.92 189.5L92.16 189.36L91.4 189.27L90.79 189.19L90.64 189.18L89.89 189.08L89.13 188.97L88.37 188.86L87.62 188.78L86.87 188.73L86.12 188.67L85.37 188.61L84.61 188.53L83.86 188.44L83.2 187.88L83.04 187.76L82.24 187.12L81.44 186.53L80.66 186.17L80.17 185.91L79.88 185.75L79.11 185.35L78.33 184.92L77.55 184.45L77.69 186.12L77.91 188.44L78.12 190.25L78.65 190.68L78.94 190.93L79.76 191.52L80.58 192.05L81.4 192.62L81.43 192.63L82.22 193.08L83.09 193.91L83.74 194.56L83.98 194.81L84.88 195.76L85.63 195.77L86.38 195.76L87.13 195.74L87.87 195.71L88.62 195.67L89.37 195.69L89.98 195.73L90.13 195.75L90.89 195.8L91.65 195.86L92.41 195.91L93.17 195.96L93.94 196.03L94.72 196.18L95.5 196.32L96.28 196.46L96.9 196.56L97.05 196.59L97.84 196.74L98.62 196.88L99.44 197.21L100.26 197.52L100.93 197.76L101.08 197.83L101.91 198.17L102.7 198.3L103.48 198.43L104.27 198.57L105.06 198.72L105.28 198.76L105.87 198.91L106.68 199.13L107.49 199.37L108.31 199.6L108.97 199.78L109.13 199.84L109.97 200.14L110.62 199.69L111.24 199.21L111.26 199.2L111.91 198.76L112.56 198.31L113.21 197.84L113.85 197.34L114.49 196.82L114.78 196.57L115.13 196.31L115.77 195.81L116.41 195.29L117.05 194.74L117.61 194.22L117.68 194.16L118.32 193.62L118.96 193.06L119.6 192.46L119.98 192.07L120.23 191.84L120.86 191.21L121.49 190.54L121.86 190.11L122.11 189.83L122.74 189.09L123.4 188.53L123.73 188.23L124.05 187.93L124.7 187.28L125.34 186.54L125.41 186.45L125.97 185.72L126.58 184.8L126.6 184.77L127.21 183.66L127.42 183.23L127.81 182.25L128 181.72L128.38 180.25L128.39 180.2L128.63 178.81L128.8 177.37L128.91 175.95L128.93 175.3L128.97 174.53L128.98 173.11L128.99 171.69L128.99 171.32L129 170.27L129.03 168.85L129.07 167.43L129.12 166L129.18 164.58L129.26 163.15L129.35 161.72L129.46 160.29L129.5 159.95L129.62 158.86L129.79 157.43L129.96 155.99L130.13 154.55L130.27 153.1L130.28 153.08L130.46 151.65L130.62 150.18L130.73 148.92L130.75 148.7L130.9 147.21L131.09 145.72L131.12 145.53L131.37 144.25L131.68 142.79L132 141.32L132.01 141.27L132.33 139.84L132.69 138.37L132.91 137.47L133.06 136.89L133.45 135.4L133.82 134.02L133.85 133.91L134.27 132.42L134.71 130.92L134.72 130.89L135.2 129.44L135.62 127.94L135.63 127.91L136.03 126.34L136.19 125.69L136.41 124.73L136.64 123.7L136.76 123.08L137.06 121.82L137.14 121.42L137.63 119.81L137.63 119.81L138.38 118.38L139.13 116.95L139.5 116.23L139.88 115.49L140.58 113.97L140.71 113.68L141.19 112.36L141.37 111.83L141.66 110.58L141.71 110.36L141.93 109.06L141.96 108.59L142.11 107.81L142.29 106.58L142.29 106.58L143.24 105.15L144.2 103.71L144.22 103.69L145.17 102.26L145.9 101.17L146.15 100.8L147.13 99.31L147.38 98.94L148.12 97.81L148.72 96.9L149.11 96.29L149.94 95.01L150.12 94.74L151.11 93.23L151.14 93.18L152.18 91.61L152.27 91.49L153.27 90.06L153.52 89.74L154.42 88.57L155.04 87.87L155.65 87.17L157.01 85.93L158.5 84.9L160.16 84.17L161.98 83.77L162.09 83.76L163.89 83.66L163.94 83.66L165.34 83.75L165.99 83.81L166.67 83.93L167.91 84.16L168.12 84.2L169.05 84.45L170.07 84.8L170.33 84.89L171.02 85.18L171.93 85.59L172.63 85.93L172.81 86.02L173.64 86.48L174.45 86.94L174.99 87.29L175.21 87.43L175.94 87.94L176.65 88.45L177.34 88.98L177.41 89.01L178.28 89.41L179.24 89.84L179.45 89.94L180.22 90.27L181.2 90.71L181.41 90.81L182.19 91.16L183.2 91.6L183.31 91.64L184.31 92.02L185.1 92.31L185.49 92.43L186.78 92.72L187 92.76L188.41 93.04L188.62 93.08L190.01 93.4L190.18 93.44L191.53 93.88L191.63 93.93L192.67 94.38L193.28 94.74L193.6 94.94L194.4 95.53L194.97 96.17L195.02 96.23L195.46 96.83L195.77 97.52L195.93 98.24L195.94 98.99L196.59 99.62L197.1 99.99L197.53 100.21L198.52 100.54L199.16 100.7L199.88 100.82L201.21 101.01L201.83 101.09L202.53 101.16L203.83 101.31L205.13 101.45L205.61 101.49z" clip-path="url(#p762479d433)" style="fill: #25848e"/>
<path d="M210.24 174.53L210.24 174.53L210.24 174.53L210.24 174.53L210.24 174.53L210.24 174.53L210.24 174.53L210.24 174.53L210.24 174.53L210.24 174.53L210.24 174.53L210.24 174.53L210.24 174.53L210.24 174.53L210.24 174.53L210.24 174.53L210.24 174.53L210.24 174.53L210.24 174.53L210.24 174.53L210.24 174.53L210.24 174.53L210.24 174.53L210.24 174.53L210.24 174.53L210.24 174.53L210.24 174.53L210.24 174.53L210.24 174.53L210.24 174.53L210.24 174.53L210.24 174.53L210.24 174.53L210.24 174.53L210.24 174.53L210.24 174.53L210.24 174.53L210.24 174.53L210.24 174.53L210.24 174.53L210.24 174.53L210.24 174.53L210.24 174.53L210.24 174.53L210.24 174.53L210.24 174.53L210.24 174.53L210.24 174.53L210.24 174.53L210.24 174.53L210.24 174.53L210.24 174.53L210.24 174.53L210.24 174.53L210.24 174.53L210.24 174.53L210.24 174.53L210.24 174.53L210.24 174.53L210.24 174.53L210.24 174.53L210.24 174.53L210.24 174.53L210.24 174.53L210.24 174.53L210.24 174.53L210.24 174.53L210.24 174.53L210.24 174.53L210.24 174.53L210.24 174.53L210.24 174.53L210.24 174.53L210.24 174.53L210.24 174.53L210.24 174.53L210.24 174.53L210.24 174.53L210.24 174.53L210.24 174.53L210.24 174.53L210.24 174.53L210.24 174.53L210.24 174.53L210.24 174.53L210.24 174.53L210.24 174.53L210.24 174.53L210.24 174.53L210.24 174.53L210.24 174.53L210.24 174.53L210.24 174.53L210.24 174.53L210.24 174.53L210.24 174.53L210.24 174.53L210.24 174.53L210.24 174.53L210.24 174.53L210.24 174.53L210.24 174.53L210.24 174.53L210.24 174.53L210.24 174.53L210.24 174.53L210.24 174.53L210.24 174.53L210.24 174.53L210.24 174.53L210.24 174.53L210.24 174.53L210.24 174.53L210.24 174.53L210.24 174.53L210.24 174.53L210.24 174.53L210.24 174.53L210.24 174.53L210.24 174.53L210.24 174.53L210.24 174.53L210.24 174.53L210.24 174.53L210.24 174.53L210.24 174.53L210.24 174.53L210.24 174.53L210.24 174.53L210.24 174.53L210.24 174.53L210.24 174.53L210.24 174.53L210.24 174.53L210.24 174.53L210.24 174.53L210.24 174.53L210.24 174.53L210.24 174.53L210.24 174.53L210.24 174.53L210.24 174.53L210.24 174.53L210.24 174.53L210.24 174.53L210.24 174.53L210.24 174.53L210.24 174.53L210.24 174.53L210.24 174.53L210.24 174.53L210.24 174.53L210.24 174.53L210.24 174.53L210.24 174.53L210.24 174.53L210.24 174.53L210.24 174.53L210.24 174.53L210.24 174.53L210.24 174.53L210.24 174.53L210.24 174.53L210.24 174.53L210.24 174.53L210.24 174.53L210.24 174.53L210.24 174.53L210.24 174.53L210.24 174.53L210.24 174.53L210.24 174.53L210.24 174.53L210.24 174.53L210.24 174.53L210.24 174.53L210.24 174.53L210.24 174.53L210.24 174.53L210.24 174.53L210.24 174.53L210.24 174.53L210.24 174.53L210.24 174.53L210.24 174.53L210.24 174.53L210.24 174.53L210.24 174.53L210.24 174.53L210.24 174.53L210.24 174.53L210.24 174.53L210.24 174.53L210.24 174.53L210.24 174.53L210.24 174.53L210.24 174.53L210.24 174.53L210.24 174.53L210.24 174.53L210.24 174.53L210.24 174.53L210.24 174.53L210.24 174.53L210.24 174.53L210.24 174.53L210.24 174.53L210.24 174.53L210.24 174.53L210.24 174.53L210.24 174.53L210.24 174.53L210.24 174.53L210.24 174.53L210.24 174.53L210.24 174.53L210.24 174.53L210.24 174.53L210.24 174.53L210.24 174.53L210.24 174.53L210.24 174.53L210.24 174.53L210.24 174.53L210.24 174.53L210.24 174.53L210.24 174.53L210.24 174.53L210.24 174.53L210.24 174.53L210.24 174.53L210.24 174.53L210.24 174.53L210.24 174.53L210.24 174.53L210.24 174.53L210.24 174.53L210.24 174.53L210.24 174.53L210.24 174.53L210.24 174.53L210.24 174.53L210.24 174.53L210.24 174.53L210.24 174.53L210.24 174.53L210.24 174.53L210.24 174.53L210.24 174.53L210.24 174.53L210.24 174.53L210.24 174.53L210.24 174.53L210.24 174.53L210.24 174.53L210.24 174.53L210.24 174.53L210.24 174.53L210.24 174.53L210.24 174.53L210.24 174.53L210.24 174.53L210.24 174.53L210.24 174.53L210.24 174.53L210.24 174.53L210.24 174.53L210.24 174.53L210.24 174.53L210.24 174.53L210.24 174.53L210.24 174.53L210.24 174.53L210.24 174.53L210.24 174.53L210.24 174.53L210.24 174.53L210.24 174.53L210.24 174.53L210.24 174.53L210.24 174.53L210.24 174.53L210.24 174.53L210.24 174.53L210.24 174.53L210.24 174.53L210.24 174.53L210.24 174.53L210.24 174.53L210.24 174.53L210.24 174.53L210.24 174.53L210.24 174.53L210.24 174.53L210.24 174.53L210.24 174.53L210.24 174.53L210.24 174.53L210.24 174.53L210.24 174.53L210.24 174.53L210.24 174.53L210.24 174.53L210.24 174.53L210.24 174.53L210.24 174.53L210.24 174.53L210.24 174.53L210.24 174.53L210.24 174.53L210.24 174.53L210.24 174.53L210.24 174.53L210.24 174.53L210.24 174.53L210.24 174.53L210.24 174.53L210.24 174.53L210.24 174.53L210.24 174.53L210.24 174.53L210.24 174.53L210.24 174.53L210.24 174.53L210.24 174.53L210.24 174.53L210.24 174.53L210.24 174.53L210.24 174.53L210.24 174.53L210.24 174.53L210.24 174.53L210.24 174.53L210.24 174.53L210.24 174.53L210.24 174.53L210.24 174.53L210.24 174.53L210.24 174.53L210.24 174.53L210.24 174.53L210.24 174.53L210.24 174.53L210.24 174.53L210.24 174.53L210.24 174.53L210.24 174.53L210.24 174.53L210.24 174.53L210.24 174.53L210.24 174.53L210.24 174.53L210.24 174.53L210.24 174.53L210.24 174.53L210.24 174.53L210.24 174.53L210.24 174.53L210.24 174.53L210.24 174.53L210.24 173.79L210.24 173.05L210.24 172.31L210.24 171.57L210.24 170.83L210.24 170.09L210.24 169.35L210.24 168.61L210.24 167.88L210.24 167.14L210.24 166.4L210.24 165.66L210.24 164.92L210.24 164.18L210.24 163.44L210.24 162.7L210.24 161.96L210.24 161.22L210.24 160.48L210.24 159.74L210.24 159L210.24 158.27L210.24 157.53L210.24 156.79L210.24 156.05L210.24 155.31L210.24 154.57L210.24 153.83L210.24 153.09L210.24 152.35L210.24 151.61L210.24 150.87L210.24 150.13L210.24 149.4L210.24 148.66L210.24 147.92L210.24 147.18L210.24 146.44L210.24 145.7L210.24 144.96L210.24 144.22L210.24 143.48L210.24 142.74L210.24 142L210.24 141.26L210.24 140.52L210.24 140.49L210.2 140.52L209.66 141.05L209.44 141.27L209.09 141.64L208.71 142.04L208.55 142.2L208.01 142.68L207.83 142.83L207.49 143.1L206.98 143.48L206.7 143.68L206.47 143.86L205.98 144.21L205.49 144.56L205.43 144.6L205.02 144.91L204.55 145.25L204.09 145.59L204.07 145.61L203.64 145.95L203.2 146.31L202.77 146.66L202.74 146.69L202.35 147.02L201.94 147.37L201.53 147.72L201.32 147.89L201.13 148.06L200.73 148.41L200.34 148.75L199.96 149.09L199.76 149.26L199.59 149.43L199.22 149.77L198.85 150.11L198.5 150.45L198.14 150.79L198.06 150.87L197.8 151.13L197.46 151.48L197.13 151.82L196.81 152.17L196.49 152.52L196.3 152.73L196.18 152.87L195.88 153.24L195.59 153.6L195.31 153.98L195.04 154.36L194.87 154.64L194.8 154.76L194.58 155.19L194.37 155.61L194.17 156.04L194.07 156.26L193.98 156.47L193.8 156.9L193.62 157.32L193.45 157.74L193.37 157.95L193.28 158.15L193.09 158.54L192.89 158.91L192.65 159.24L192.38 159.54L192.08 159.82L191.76 160.09L191.42 160.34L191.19 160.51L191.06 160.59L190.69 160.84L190.31 161.09L189.92 161.33L189.59 161.55L189.53 161.59L189.15 161.86L188.79 162.15L188.46 162.46L188.14 162.78L187.87 163.08L187.84 163.11L187.55 163.46L187.27 163.82L186.99 164.18L186.73 164.55L186.47 164.92L186.22 165.31L185.98 165.7L185.84 165.92L185.74 166.09L185.51 166.49L185.29 166.9L185.08 167.31L184.87 167.73L184.66 168.15L184.46 168.58L184.26 169.01L184.16 169.22L184.06 169.44L183.87 169.88L183.68 170.32L183.48 170.77L183.28 171.22L183.07 171.67L183.03 171.76L182.81 172.13L182.41 172.58L182.2 172.8L181.98 173.05L181.75 173.53L181.7 174.03L181.73 174.53L181.83 175.02L181.95 175.52L182.1 176L182.21 176.36L182.25 176.49L182.4 176.96L182.53 177.44L182.64 177.92L182.71 178.4L182.73 178.89L182.69 179.39L182.63 179.68L182.56 179.91L182.27 180.47L182.08 180.72L181.55 181.15L181.44 181.22L180.71 181.36L180.63 181.36L179.95 181.34L179.18 181.28L178.66 181.24L178.41 181.22L177.64 181.15L176.88 181.11L176.45 181.1L176.12 181.09L175.37 181.08L174.62 181.09L173.87 181.12L173.13 181.15L172.49 181.18L172.38 181.19L171.64 181.23L170.9 181.27L170.15 181.31L169.41 181.35L168.67 181.39L167.92 181.42L167.18 181.45L166.43 181.47L166.4 181.47L165.69 181.49L164.94 181.5L164.2 181.52L163.45 181.52L162.7 181.53L161.96 181.53L161.21 181.53L160.46 181.53L160.42 181.53L159.72 181.53L158.97 181.54L158.23 181.54L157.48 181.56L156.74 181.58L156 181.61L155.26 181.64L154.52 181.69L153.78 181.75L153.04 181.82L152.31 181.89L151.58 181.98L150.84 182.07L150.11 182.17L149.38 182.26L148.64 182.35L147.91 182.43L147.17 182.5L146.43 182.55L145.69 182.57L144.94 182.57L144.82 182.56L144.19 182.53L143.44 182.45L142.68 182.33L141.92 182.16L141.15 181.93L140.88 181.82L140.38 181.62L139.59 181.23L138.89 180.77L138.8 180.71L138.01 180.04L137.61 179.61L137.2 179.12L136.71 178.38L136.39 177.82L136.07 177.12L135.63 175.83L135.59 175.64L135.38 174.53L135.28 173.22L135.31 171.91L135.43 170.61L135.62 169.31L135.86 168.02L135.87 168.02L136.15 166.74L136.46 165.47L136.79 164.2L137.13 162.95L137.39 162.01L137.48 161.7L137.83 160.45L138.15 159.21L138.45 157.95L138.74 156.7L139.04 155.45L139.34 154.2L139.67 152.95L140 151.71L140.3 150.59L140.34 150.46L140.67 149.21L140.95 147.93L141.17 146.62L141.21 146.09L141.28 145.25L141.28 144.05L141.27 143.82L141.21 142.41L141.2 142.34L141.15 140.83L141.15 140.81L141.12 139.31L141.13 139.2L141.29 137.87L141.54 136.85L141.63 136.5L142.12 135.2L142.7 133.95L143.34 132.72L144 131.51L144.68 130.31L144.89 129.97L145.42 129.14L145.8 128.66L146.29 128.07L147.26 127.07L148.28 126.12L149.32 125.2L149.47 125.07L150.35 124.27L151.35 123.33L152.31 122.37L153.24 121.37L154.14 120.36L155.07 119.36L156.07 118.43L157.13 117.57L158.22 116.75L159.29 115.97L159.32 115.95L160.41 115.15L161.5 114.33L162.56 113.5L163.62 112.66L164.7 111.85L165.84 111.12L167.04 110.48L168.32 109.98L168.6 109.91L169.68 109.61L170.87 109.36L171.06 109.32L172.37 108.94L173.39 108.75L173.74 108.68L175.17 108.58L175.24 108.58L176.66 108.61L176.76 108.62L178.15 108.72L178.21 108.73L179.61 108.83L179.7 108.84L181.02 108.9L181.34 108.91L182.39 108.91L183.21 108.91L183.72 108.9L185.04 108.89L185.27 108.89L186.35 108.9L187.28 108.95L187.66 108.96L188.98 109.09L189.11 109.11L190.29 109.27L190.78 109.36L191.6 109.51L192.39 109.67L192.89 109.78L194.01 110.01L194.16 110.05L195.41 110.28L195.83 110.34L196.62 110.45L197.8 110.55L198.35 110.57L198.97 110.6L200.12 110.61L201.26 110.6L202.39 110.6L203.2 110.6L203.52 110.61L204.65 110.64L205.78 110.69L206.9 110.76L208.02 110.84L209.13 110.92L209.79 110.96L210.24 110.99L210.24 110.96L210.24 110.22L210.24 109.48L210.24 108.74L210.24 108L210.24 107.26L210.24 106.52L210.24 105.78L210.24 105.04L210.24 104.3L210.24 103.56L210.24 102.83L210.24 102.09L210.24 101.79L208.97 101.76L207.7 101.68L206.42 101.57L205.61 101.49L205.13 101.45L203.83 101.31L202.53 101.16L201.83 101.09L201.21 101.01L199.88 100.82L199.16 100.7L198.52 100.54L197.53 100.21L197.1 99.99L196.59 99.62L195.94 98.99L195.93 98.24L195.77 97.52L195.46 96.83L195.02 96.23L194.97 96.17L194.4 95.53L193.6 94.94L193.28 94.74L192.67 94.38L191.63 93.93L191.53 93.88L190.18 93.44L190.01 93.4L188.62 93.08L188.41 93.04L187 92.76L186.78 92.72L185.49 92.43L185.1 92.31L184.31 92.02L183.31 91.64L183.2 91.6L182.19 91.16L181.41 90.81L181.2 90.71L180.22 90.27L179.45 89.94L179.24 89.84L178.28 89.41L177.41 89.01L177.34 88.98L176.65 88.45L175.94 87.94L175.21 87.43L174.99 87.29L174.45 86.94L173.64 86.48L172.81 86.02L172.63 85.93L171.93 85.59L171.02 85.18L170.33 84.89L170.07 84.8L169.05 84.45L168.12 84.2L167.91 84.16L166.67 83.93L165.99 83.81L165.34 83.75L163.94 83.66L163.89 83.66L162.09 83.76L161.98 83.77L160.16 84.17L158.5 84.9L157.01 85.93L155.65 87.17L155.04 87.87L154.42 88.57L153.52 89.74L153.27 90.06L152.27 91.49L152.18 91.61L151.14 93.18L151.11 93.23L150.12 94.74L149.94 95.01L149.11 96.29L148.72 96.9L148.12 97.81L147.38 98.94L147.13 99.31L146.15 100.8L145.9 101.17L145.17 102.26L144.22 103.69L144.2 103.71L143.24 105.15L142.29 106.58L142.29 106.58L142.11 107.81L141.96 108.59L141.93 109.06L141.71 110.36L141.66 110.58L141.37 111.83L141.19 112.36L140.71 113.68L140.58 113.97L139.88 115.49L139.5 116.23L139.13 116.95L138.38 118.38L137.63 119.81L137.63 119.81L137.14 121.42L137.06 121.82L136.76 123.08L136.64 123.7L136.41 124.73L136.19 125.69L136.03 126.34L135.63 127.91L135.62 127.94L135.2 129.44L134.72 130.89L134.71 130.92L134.27 132.42L133.85 133.91L133.82 134.02L133.45 135.4L133.06 136.89L132.91 137.47L132.69 138.37L132.33 139.84L132.01 141.27L132 141.32L131.68 142.79L131.37 144.25L131.12 145.53L131.09 145.72L130.9 147.21L130.75 148.7L130.73 148.92L130.62 150.18L130.46 151.65L130.28 153.08L130.27 153.1L130.13 154.55L129.96 155.99L129.79 157.43L129.62 158.86L129.5 159.95L129.46 160.29L129.35 161.72L129.26 163.15L129.18 164.58L129.12 166L129.07 167.43L129.03 168.85L129 170.27L128.99 171.32L128.99 171.69L128.98 173.11L128.97 174.53L128.93 175.3L128.91 175.95L128.8 177.37L128.63 178.81L128.39 180.2L128.38 180.25L128 181.72L127.81 182.25L127.42 183.23L127.21 183.66L126.6 184.77L126.58 184.8L125.97 185.72L125.41 186.45L125.34 186.54L124.7 187.28L124.05 187.93L123.73 188.23L123.4 188.53L122.74 189.09L122.11 189.83L121.86 190.11L121.49 190.54L120.86 191.21L120.23 191.84L119.98 192.07L119.6 192.46L118.96 193.06L118.32 193.62L117.68 194.16L117.61 194.22L117.05 194.74L116.41 195.29L115.77 195.81L115.13 196.31L114.78 196.57L114.49 196.82L113.85 197.34L113.21 197.84L112.56 198.31L111.91 198.76L111.26 199.2L111.24 199.21L110.62 199.69L109.97 200.14L109.13 199.84L108.97 199.78L108.31 199.6L107.49 199.37L106.68 199.13L105.87 198.91L105.28 198.76L105.06 198.72L104.27 198.57L103.48 198.43L102.7 198.3L101.91 198.17L101.08 197.83L100.93 197.76L100.26 197.52L99.44 197.21L98.62 196.88L97.84 196.74L97.05 196.59L96.9 196.56L96.28 196.46L95.5 196.32L94.72 196.18L93.94 196.03L93.17 195.96L92.41 195.91L91.65 195.86L90.89 195.8L90.13 195.75L89.98 195.73L89.37 195.69L88.62 195.67L87.87 195.71L87.13 195.74L86.38 195.76L85.63 195.77L84.88 195.76L83.98 194.81L83.74 194.56L83.09 193.91L82.22 193.08L81.43 192.63L81.4 192.62L80.58 192.05L79.76 191.52L78.94 190.93L78.65 190.68L78.12 190.25L78.18 190.74L78.48 193.05L78.82 195.34L78.92 195.97L79.82 196.86L80.45 197.41L80.71 197.64L81.59 198.38L82.5 199.17L82.71 199.32L83.38 199.84L84.36 200.94L84.62 201.23L85.37 202.11L86.26 203.15L86.4 203.32L87.17 203.36L87.94 203.41L88.71 203.46L89.48 203.51L90.26 203.57L91.05 203.69L91.84 203.83L92.33 203.93L92.65 204.01L93.47 204.25L94.31 204.52L95.15 204.81L96 205.14L96 205.14L96.96 205.85L97.96 206.67L98 206.71L99.09 207.92L99.49 208.39L100.38 209.59L100.75 210.1L101.83 211.61L101.97 211.81L103.27 213.46L103.27 213.46L104.17 213.77L105.07 214.06L105.96 214.34L106.28 214.44L106.84 214.57L107.72 214.78L108.6 214.99L109.48 215.2L109.54 215.21L110.35 215.39L111.23 215.59L112.12 215.8L112.69 215.94L113.02 216.02L113.92 216.24L114.83 216.49L115.55 216.69L115.76 216.75L116.65 216.94L117.57 217.16L118.35 217.38L118.5 217.43L119.47 217.74L120.45 218.08L120.73 218.19L121.47 218.48L122.52 218.93L122.83 219.06L123.61 219.42L124.73 219.97L124.76 219.98L125.88 220.55L126.57 220.91L127.07 221.17L128.3 221.84L128.3 221.84L129.29 222.07L130.31 222.34L130.55 222.41L131.31 222.57L132.33 222.81L132.79 222.93L133.34 223.04L134.36 223.27L134.97 223.41L135.4 223.5L136.44 223.74L137.04 223.9L137.52 224.02L138.66 224.37L138.91 224.47L139.96 224.93L140.54 225.17L141.27 225.47L142.24 225.77L142.5 225.88L143.78 226.34L143.89 226.37L145.23 227.17L146.16 228.11L146.26 228.21L147.34 229.21L148.45 230.16L149.56 231.12L150.65 232.08L151.35 232.71L151.72 233.05L152.81 233.99L153.9 234.95L154.99 235.89L156.09 236.82L157.22 237.72L158.39 238.56L159.56 239.39L160.71 240.25L161.83 241.16L162.89 242.15L163.36 242.77L163.81 243.36L164.7 244.55L164.74 244.6L165.75 245.73L166.58 246.6L166.79 246.85L167.72 248.14L167.73 248.16L168.46 249.41L168.6 249.65L169.15 250.63L169.48 251.19L169.9 251.87L170.43 252.66L170.79 253.15L171.47 254.03L171.85 254.49L172.56 255.34L173 255.85L173.69 256.62L174.19 257.19L174.85 257.91L175.35 258.49L176.02 259.23L176.44 259.73L176.3 260.47L176.13 261.2L175.95 261.92L175.76 262.64L175.56 263.36L175.36 264.07L175.14 264.78L174.92 265.49L174.72 266.2L174.51 266.91L174.27 267.61L174.02 268.31L173.77 269.01L173.53 269.7L173.28 270.4L173.03 271.1L172.78 271.79L172.54 272.49L172.33 273.2L172.24 273.51L172.13 273.92L171.98 274.19L171.78 274.58L171.41 275.22L171.03 275.87L170.65 276.52L170.27 277.16L169.89 277.8L169.4 278.41L168.91 279.01L168.43 279.61L167.94 280.21L167.45 280.81L167.15 281.18L166.96 281.41L166.45 282.01L165.95 282.6L165.51 283.21L165.07 283.83L164.93 284.57L164.79 285.32L164.65 286.06L164.51 286.8L164.37 287.54L164.24 288.29L164.21 288.46L164.1 289.03L163.96 289.77L163.8 290.5L163.65 291.23L163.49 291.97L163.34 292.7L163.19 293.44L163.03 294.17L163.32 295.08L163.6 295.98L163.61 296L163.85 296.87L164.12 297.76L164.42 298.66L164.73 299.56L164.73 299.56L166.92 300.33L169.12 301.07L171.34 301.77L173.56 302.43L175.8 303.05L178.05 303.63L180.31 304.17L182.58 304.68L184.54 305.08L182.72 303.98L182.65 303.94L180.93 302.8L180.67 302.62L179.35 301.67L178.67 301.17L177.86 300.53L176.74 299.54L176.7 299.46L176.59 298.67L176.53 297.89L176.51 297.11L176.5 296.34L176.51 295.58L176.52 294.82L176.55 294.06L176.95 293.4L177.35 292.74L177.73 292.08L178.12 291.42L178.5 290.76L178.86 290.09L179.24 289.43L179.63 288.77L179.63 288.77L180.37 288.2L181.15 287.64L181.96 287.08L182.22 286.9L182.76 286.52L183.56 285.95L184.37 285.39L184.7 285.15L185.18 284.81L185.99 284.24L186.82 283.66L187.08 283.48L187.65 283.08L188.42 282.49L189.2 281.89L189.4 281.74L190 281.29L190.81 280.69L191.61 280.16L191.71 280.1L192.67 279.51L193.66 279.21L194.32 279.03L195.6 278.71L196.3 278.57L197.51 278.24L198.31 278.07L199.38 277.86L201.03 277.61L201.22 277.58L203.05 277.34L204.86 277.14L204.86 277.13L206.66 276.91L208.46 276.67L209.35 276.53L210.24 276.33L212.01 275.85L212.23 275.78L213.76 275.22L214.31 274.98L215.48 274.44L216.03 274.15L217.16 273.52L217.47 273.32L218.69 272.48L218.8 272.39L219.71 271.64L220.39 271.06L220.66 270.8L221.47 269.97L221.9 269.48L222.18 269.13L222.59 268.34L221.98 267.67L221.65 267.42L221.09 267.03L220.08 266.4L219.88 266.29L218.91 265.78L218.17 265.18L218.07 265.11L216.88 264.47L216.52 264.32L215.05 263.84L214.92 263.81L213.35 263.45L212.03 263.21L211.79 263.17L210.24 262.91L208.7 262.67L207.17 262.44L207.12 262.44L205.64 262.22L204.12 261.99L202.61 261.76L201.1 261.51L199.59 261.25L198.1 260.94L197.62 260.84L196.61 260.6L195.13 260.21L193.67 259.78L192.22 259.31L190.94 258.83L190.79 258.78L189.38 258.18L188.01 257.49L187.78 257.28L186.74 256.48L186.49 256.15L185.77 255.17L185.65 254.96L185.28 254.24L184.89 253.34L184.76 252.96L184.56 252.46L184.29 251.59L184.02 250.72L184.01 250.69L183.71 249.83L183.37 248.92L183.26 248.65L182.89 247.96L182.36 247.15L182.14 246.88L181.34 246.05L180.73 245.52L180.26 245.15L179.16 244.32L178.06 243.53L178.06 243.53L176.96 242.76L175.87 241.98L174.8 241.18L174.47 240.9L173.77 240.33L172.8 239.38L171.78 238.54L170.48 238.16L169.48 237.96L169.08 237.9L167.82 237.43L167.59 236.7L167.56 235.78L167.64 235.36L167.76 235.02L168.05 234.32L168.34 233.62L168.59 232.89L168.75 232.1L168.8 231.56L168.79 231.21L168.62 230.17L168.55 229.86L167.96 228.73L167.93 228.68L167.13 227.77L166.19 227.03L165.16 226.39L165.04 226.33L164.07 225.8L162.98 225.21L162.24 224.77L161.92 224.57L160.94 223.83L160.13 222.92L159.75 222.26L159.51 221.83L159.02 220.65L158.88 220.22L158.62 219.4L158.38 218.53L158.28 218.12L158 216.91L157.99 216.84L157.74 215.55L157.7 215.34L157.55 214.23L157.53 213.89L157.54 212.82L157.56 212.69L157.8 211.75L158.05 211.07L158.12 210.92L158.5 210.17L158.92 209.48L159.35 208.86L159.37 208.83L159.84 208.21L160.34 207.61L160.85 207.04L161.37 206.5L161.91 205.97L162.1 205.79L162.46 205.46L163.02 204.96L163.59 204.48L164.17 204.02L164.75 203.56L165.34 203.11L165.93 202.65L166.51 202.18L167.07 201.68L167.62 201.18L167.68 201.13L168.17 200.67L168.74 200.18L169.32 199.71L169.92 199.27L170.53 198.86L171.17 198.49L171.83 198.15L172.51 197.84L173.22 197.58L173.5 197.49L173.94 197.35L174.7 197.15L175.48 197L175.67 196.98L176.29 196.9L177.14 196.84L177.16 196.84L178.04 196.85L178.34 196.87L179 196.93L179.34 196.98L180.05 197.11L180.22 197.15L181.01 197.37L181.25 197.45L181.72 197.63L182.37 197.91L182.75 198.12L182.97 198.23L183.54 198.57L184.06 198.94L184.56 199.33L185.03 199.74L185.48 200.17L185.91 200.62L186.33 201.08L186.76 201.54L187.2 201.98L187.69 202.38L188.25 202.68L188.72 202.74L189.03 202.67L189.5 202.4L190.08 201.91L190.58 201.36L191.05 200.79L191.5 200.2L191.96 199.62L192.42 199.04L192.49 198.96L192.89 198.47L193.37 197.9L193.85 197.34L194.33 196.78L194.82 196.21L195.29 195.65L195.77 195.07L196.23 194.5L196.66 193.92L196.67 193.9L197.1 193.3L197.22 193.12L197.51 192.69L197.89 192.05L198.25 191.4L198.59 190.73L198.79 190.28L198.9 190.05L199.2 189.35L199.42 188.89L199.52 188.67L199.92 188.04L200.35 187.44L200.82 186.86L201.3 186.3L201.63 185.95L201.81 185.76L202.35 185.24L202.67 184.95L202.91 184.74L203.34 184.39L203.51 184.25L203.86 183.99L204.14 183.79L204.29 183.69L204.67 183.45L204.83 183.35L205 183.25L205.3 183.08L205.58 182.94L205.59 182.94L205.84 182.81L206.08 182.7L206.3 182.6L206.45 182.55L206.52 182.52L206.72 182.43L206.92 182.36L207.1 182.3L207.28 182.24L207.45 182.2L207.5 182.18L207.62 182.14L207.78 182.09L207.94 182.05L208.09 182.01L208.24 181.97L208.39 181.94L208.53 181.92L208.67 181.89L208.81 181.87L208.95 181.85L209.08 181.83L209.08 181.83L209.22 181.8L209.35 181.77L209.48 181.74L209.61 181.72L209.74 181.69L209.87 181.67L209.99 181.64L210.12 181.62L210.24 181.59L210.36 181.56L210.48 181.53L210.61 181.5L210.73 181.47L210.84 181.43L210.96 181.39L211.08 181.34L211.19 181.29L211.3 181.23L211.41 181.16L211.51 181.09L211.56 181.05L211.61 180.98L211.7 180.83L211.78 180.69L211.85 180.54L211.92 180.39L211.99 180.25L212.02 180.17L212.04 180.05L212.06 179.82L212.08 179.59L212.1 179.38L212.11 179.35L212.06 179.03L212.01 178.69L211.99 178.6L211.84 178.11L211.77 177.89L211.46 177.22L211.26 176.82L211.13 176.56L210.93 176.16L210.8 175.9L210.66 175.51L210.55 175.21L210.54 175.2L210.54 175.16L210.53 175.12L210.52 175.09L210.52 175.05L210.52 175.03L210.51 175L210.51 174.97L210.51 174.95L210.5 174.93L210.5 174.91L210.5 174.9L210.49 174.88L210.49 174.86L210.49 174.85L210.49 174.84L210.49 174.82L210.49 174.81L210.48 174.8L210.48 174.79L210.48 174.78L210.48 174.77L210.48 174.76L210.48 174.75L210.48 174.74L210.48 174.73L210.47 174.73L210.47 174.72L210.47 174.71L210.47 174.7L210.47 174.7L210.47 174.69L210.47 174.68L210.47 174.68L210.47 174.67L210.47 174.67L210.47 174.66L210.47 174.65L210.47 174.65L210.47 174.64L210.47 174.64L210.47 174.63L210.46 174.63L210.46 174.62L210.46 174.62L210.46 174.61L210.46 174.61L210.46 174.6L210.46 174.6L210.46 174.6L210.46 174.59L210.46 174.59L210.46 174.58L210.46 174.58L210.46 174.58L210.46 174.57L210.46 174.57L210.46 174.56L210.46 174.56L210.46 174.56L210.46 174.55L210.46 174.55L210.46 174.54L210.46 174.54L210.46 174.54L210.46 174.53L210.46 174.53L210.46 174.52L210.46 174.52L210.46 174.52L210.46 174.51L210.46 174.51L210.46 174.5L210.46 174.5L210.46 174.5L210.46 174.49L210.47 174.49L210.47 174.48L210.47 174.48L210.47 174.48L210.47 174.47L210.47 174.47L210.47 174.46L210.47 174.46L210.47 174.45L210.47 174.45L210.47 174.44L210.47 174.44L210.47 174.43L210.47 174.43L210.47 174.42L210.47 174.42L210.48 174.41L210.48 174.41L210.48 174.4L210.48 174.4L210.48 174.39L210.48 174.38L210.48 174.38L210.48 174.37L210.48 174.36L210.49 174.36L210.49 174.35L210.49 174.34L210.49 174.33L210.49 174.32L210.5 174.31L210.5 174.3L210.5 174.29L210.5 174.28L210.5 174.27L210.51 174.26L210.51 174.25L210.51 174.24L210.52 174.22L210.52 174.21L210.52 174.19L210.53 174.17L210.53 174.15L210.54 174.13L210.54 174.11L210.55 174.09L210.55 174.06L210.56 174.03L210.57 174L210.58 173.96L210.59 173.92L210.6 173.88L210.6 173.87L210.7 173.66L210.91 173.22L210.91 173.21L210.91 173.2L211.28 172.57L211.32 172.5L211.66 171.93L212.03 171.29L212.37 170.64L212.6 170.08L212.66 169.95L212.73 169.64L212.83 169.22L212.83 169.21L212.83 168.97L212.84 168.7L212.84 168.41L212.84 168.39L212.83 168.12L212.82 167.81L212.81 167.6L212.81 167.47L212.8 167.1L212.79 166.81L212.8 166.66L212.81 166.12L212.81 166.04L212.88 165.3L212.89 165.29L213.03 164.56L213.27 163.86L213.32 163.78L213.69 163.24L213.71 163.22L214 162.95L214.33 162.64L214.33 162.64L214.67 162.35L214.97 162.09L215.04 162.02L215.44 161.66L215.57 161.53L215.9 161.2L216.12 160.96L216.47 160.53L216.6 160.37L216.99 159.73L217.25 159.04L217.26 158.76L217.25 158.23L217.22 158.09L217.08 157.6L217 157.33L216.92 157.14L216.72 156.72L216.55 156.37L216.51 156.31L216.28 155.93L216.04 155.55L215.94 155.4L215.79 155.18L215.52 154.81L215.26 154.45L215.25 154.44L214.97 154.06L214.67 153.67L214.58 153.54L214.38 153.25L214.07 152.8L213.99 152.67L213.76 152.29L213.52 151.85L213.45 151.71L213.17 151.06L213.13 150.96L212.94 150.28L212.84 149.76L212.81 149.53L212.79 148.78L212.85 148.05L213 147.32L213.14 146.92L213.26 146.6L213.68 145.91L213.76 145.82L214.33 145.45L214.73 145.3L214.87 145.27L215.41 145.23L215.93 145.23L216.46 145.28L216.97 145.36L217.49 145.46L217.99 145.59L218.5 145.73L219 145.87L219.5 146.02L220 146.17L220.51 146.32L221.01 146.46L221.53 146.59L222.05 146.71L222.47 146.8L222.58 146.82L223.11 146.94L223.64 147.06L224.18 147.18L224.74 147.25L225.09 147.26L225.35 147.27L226.01 147.21L226.37 147.14L226.76 147.03L227.32 146.85L227.62 146.72L228.13 146.49L228.63 146.21L228.87 146.08L229.57 145.66L229.83 145.49L230.26 145.24L230.98 144.83L231.06 144.79L231.82 144.52L232.07 144.48L232.8 144.59L233.38 144.91L233.88 145.34L234.34 145.81L234.78 146.29L235.24 146.76L235.72 147.21L236.24 147.6L236.82 147.95L237.07 148.05L237.48 148.22L238.27 148.39L238.44 148.41L239.24 148.42L239.43 148.4L240.27 148.23L240.64 148.1L241.01 147.96L241.7 147.62L242.33 147.23L242.93 146.79L243.5 146.32L244.05 145.82L244.59 145.31L245.12 144.8L245.68 144.31L246.27 143.87L246.97 143.55L247.19 143.52L248.12 143.85L248.31 144.02L248.74 144.45L249.33 145.07L249.95 145.68L250.64 146.24L251.08 146.51L251.43 146.75L252.36 147.18L252.42 147.2L253.49 147.5L253.5 147.5L254.45 147.63L254.91 147.69L255.36 147.72L256.26 147.8L256.49 147.83L257.18 147.91L257.99 148.06L258.13 148.09L259.15 148.42L259.26 148.47L260.24 149.05L260.34 149.12L261.12 149.71L261.67 150.14L261.98 150.4L262.84 151.11L262.97 151.21L263.72 151.83L264.21 152.21L264.62 152.56L265.38 153.16L265.55 153.3L266.49 154.05L266.51 154.07L267.52 154.81L267.57 154.84L268.58 155.54L268.61 155.56L269.59 156.26L269.71 156.35L270.59 157.03L270.77 157.17L271.59 157.86L271.79 158.04L272.6 158.81L272.73 158.95L273.6 159.9L273.63 159.95L274.38 160.89L274.69 161.34L275.09 161.92L275.74 162.98L275.77 163.03L276.34 164.06L276.84 165.11L276.87 165.16L277.31 166.29L277.58 167.45L277.74 168.62L277.86 169.8L277.99 170.98L278.19 172.16L278.21 172.23L278.47 173.34L278.86 174.53L278.98 174.84L279.3 175.73L279.69 176.8L279.73 176.95L280.1 178.19L280.31 179.2L280.35 179.43L280.53 180.68L280.82 181.85L280.86 181.95L281.44 183.03L281.59 183.29L282.05 184.11L282.37 184.67L282.63 185.22L283.03 186.06L283.17 186.6L283.34 187.42L283.24 188.72L283.06 190.01L282.86 191.29L282.65 192.58L282.62 192.85L282.46 193.88L282.28 195.19L282.14 196.51L282.09 197.39L282.05 197.86L282.01 199.24L282.04 199.87L282.06 200.67L282.16 201.7L282.15 202.13L282.21 203.6L282.21 203.6L282.35 205.14L282.35 205.17L282.51 206.66L282.52 206.71L282.57 208.26L282.55 208.35L282.27 209.66L281.78 210.98L281.26 212.29L280.77 213.47L280.72 213.6L280.23 214.93L279.75 216.29L279.15 217.59L278.38 218.78L277.48 219.88L276.56 220.97L275.76 222.13L275.09 223.4L274.9 223.82L274.54 224.76L274.14 225.99L274.08 226.22L273.86 227.51L273.81 227.87L273.84 228.67L273.73 229.71L273.64 230.04L273.2 231.22L272.32 232.41L271.17 233.37L269.98 234.27L269.1 235.48L268.86 236.09L268.49 237L268.3 237.63L267.95 238.63L267.78 239.09L267.34 240.21L267.08 240.69L266.56 241.65L266.26 242.35L265.86 243.21L265.64 243.81L265.21 244.89L265.1 245.17L264.55 246.52L264.53 246.57L263.96 247.88L263.83 248.29L263.51 249.12L263.06 249.96L262.64 250.64L262.12 251.44L261.48 252.3L261.09 252.83L259.98 254.13L259.93 254.17L258.8 255.34L257.55 256.47L257.55 256.47L257.28 257.47L257.04 258.46L256.96 258.82L256.84 259.41L256.67 260.35L256.51 261.27L256.48 261.49L256.39 262.17L256.28 263.06L256.19 263.94L256.14 264.61L256.12 264.81L256.07 265.66L256.03 266.51L256 267.35L256.07 268.14L256.12 268.61L256.16 268.92L256.26 269.69L256.37 270.46L256.49 271.22L256.62 271.98L256.7 272.76L256.79 273.53L256.89 274.3L256.94 274.68L257 275.07L257.11 275.83L257.22 276.59L257.35 277.35L257.48 278.1L257.62 278.85L257.76 279.6L258.12 280.24L258.42 280.92L258.72 281.6L259.02 282.27L259.31 282.95L259.61 283.63L259.91 284.3L260.38 284.9L260.36 285.72L260.35 286.54L260.34 287.05L260.32 287.36L260.29 288.18L260.25 289L260.24 289.82L260.32 290.59L260.42 291.35L260.49 292.12L260.4 292.7L260.35 292.99L259.85 294L259.39 294.99L259.14 295.56L258.95 295.96L258.52 296.93L258.12 297.88L257.85 298.56L257.74 298.82L257.92 298.75L260.08 297.9L262.23 297.01L264.36 296.08L266.47 295.12L268.57 294.12L270.22 293.3L270.48 292.76L270.79 292.18L271.41 291.02L271.8 290.3L272.06 289.84L272.76 288.62L273.13 287.98L273.52 287.36L274.32 286.05L274.37 285.61L274.43 285.13L274.37 284.31L274.31 283.49L274.24 282.68L274.16 281.86L274.07 281.05L274.03 280.7L273.97 280.25L273.86 279.46L273.73 278.67L273.61 277.88L273.53 277.06L273.48 276.22L273.46 275.7L273.44 275.37L273.4 274.53L273.37 273.67L273.35 272.81L273.34 271.93L273.34 271.69L273.33 271.05L273.26 270.21L273.19 269.38L273.12 268.54L273.04 267.7L273.04 267.63L272.95 266.86L272.86 266.03L272.76 265.2L272.66 264.37L272.55 263.55L272.55 263.51L272.43 262.73L272.29 261.92L272.1 261.16L272.03 260.29L271.97 259.49L271.96 259.43L271.9 258.56L271.85 257.68L271.77 256.81L271.72 256.12L271.71 255.94L271.65 255.05L271.6 254.16L271.56 253.26L271.54 252.99L271.53 252.34L271.51 251.42L271.49 250.48L271.49 250.16L271.51 249.52L271.54 248.54L271.57 247.62L271.58 247.54L271.68 246.48L271.98 245.55L272.12 245.12L272.49 243.81L272.52 243.69L272.89 242.44L273.03 241.86L273.36 241L273.62 240.16L274.53 238.82L275.64 237.69L276.74 236.54L277.81 235.37L278.86 234.18L279.89 232.97L279.89 232.97L280.86 231.71L281.74 230.39L282.56 229.03L283.35 227.65L284.11 226.25L284.11 226.25L284.76 224.79L285.43 223.35L286.09 221.93L286.09 221.93L286.52 220.36L287.06 218.88L287.06 218.88L287.13 217.26L287.14 217.15L287.08 215.81L287.08 215.38L287.06 214.25L287.07 213.68L287.09 212.56L287.01 211.97L286.84 211.39L286.55 210.28L286.51 210.09L286.29 209.08L286.24 208.37L286.14 207.59L286.07 206.72L285.98 206.09L285.83 205.07L285.78 204.63L285.65 203.47L285.64 202.93L285.64 201.97L285.78 200.54L285.85 200.14L286.02 199.15L286.31 197.78L286.63 196.43L286.96 195.09L287.31 193.74L287.66 192.4L287.98 191.05L288.27 189.7L288.51 188.33L288.69 186.95L288.8 185.57L288.81 184.18L288.8 183.73L288.74 182.78L288.61 181.38L288.47 180L288.45 179.37L288.4 178.62L288.44 177.26L288.57 175.9L288.59 175.78L288.78 174.53L289.02 173.15L289.26 171.77L289.28 171.61L289.51 170.37L289.75 168.97L289.83 168.35L289.98 167.55L290.2 166.12L290.28 165.28L290.4 164.69L290.44 163.26L289.91 162.5L289.45 161.98L289.07 161.91L288.27 161.62L287.45 161.18L287.16 160.96L286.6 160.61L285.82 159.84L285.66 159.64L284.87 158.67L284.58 158.08L284.29 157.43L283.9 156.16L283.5 154.9L282.81 153.72L282.66 153.53L281.89 152.62L281.46 152.11L280.96 151.55L280.19 150.62L280.07 150.48L279.22 149.42L278.74 148.77L278.41 148.36L277.54 147.34L277.31 147.16L276.32 146.68L276.01 146.61L275.44 146.51L274.63 146.51L273.88 146.63L273.15 146.82L272.44 147.04L271.72 147.24L271.35 147.32L270.98 147.39L270.2 147.46L269.38 147.43L268.64 147.29L268.48 147.26L267.43 146.77L267.31 146.69L266.47 145.88L265.91 144.93L265.57 143.86L265.44 142.99L265.45 142.65L265.53 141.68L265.69 141.21L265.82 140.74L266.22 139.97L266.69 139.32L266.82 139.17L267.16 138.68L267.49 137.83L267.45 137.37L267.15 136.14L267.1 135.89L266.83 134.91L266.7 134.02L266.62 133.57L266.6 132.63L266.61 132.05L266.7 131.54L266.95 130.65L267.33 129.94L267.37 129.9L267.84 129.38L268.42 128.93L269.01 128.61L269.08 128.57L269.82 128.31L270.62 128.14L271.48 128.05L271.93 128.04L272.38 128.02L273.42 128.18L273.86 128.31L274.56 128.5L275.51 128.83L275.78 128.94L276.99 129.51L277.14 129.62L278.12 130.44L279.11 131.29L279.24 131.41L280.53 132.3L280.62 132.35L281.82 132.93L282.07 133.06L283.04 133.57L283.53 133.9L284.45 134.61L284.81 134.88L285.9 135.98L286.26 136.48L286.77 137.2L287.55 138.48L288.42 139.72L288.83 140.24L289.39 140.93L290.43 142.12L290.43 142.13L291.49 143.34L291.87 143.8L292.51 144.58L293.38 145.79L293.44 145.88L294.22 147.24L294.89 148.65L295.46 150.09L295.92 151.57L296.31 153.07L296.67 154.57L297.01 156.09L297.31 157.6L297.6 159.12L297.85 160.65L297.85 160.65L298.58 160.54L299.31 160.42L300.04 160.3L300.77 160.19L300.77 160.19L301.35 159.14L301.49 158.44L301.78 157.33L302.02 156.69L302.3 156.13L302.88 155.3L303.51 154.7L303.51 154.7L304.17 154.23L304.84 153.83L305.52 153.49L306.21 153.18L306.9 152.9L307.6 152.64L308.3 152.39L308.94 151.86L309.15 151.69L309.57 151.32L310.2 150.77L310.83 150.22L311.46 149.67L312.06 149.14L312.08 149.11L312.66 148.38L313.23 147.64L313.8 146.9L313.84 146.77L314.04 144.99L314.06 144.76L314.15 142.76L314.15 142.74L314.18 140.76L314.18 140.38L314.15 138.75L314.12 137.93L314.07 136.74L313.98 135.38L313.93 134.73L313.73 132.72L313.73 132.7L313.45 130.72L313.27 129.7L313.09 128.74L312.66 126.77L312.53 126.27L312.14 124.83L311.55 122.91L311.2 121.93L310.85 121.03L310.04 119.21L309.16 117.42L308.2 115.67L307.21 113.94L306.17 112.23L305.1 110.54L304.01 108.87L302.89 107.21L302.11 106.07L301.76 105.56L300.6 103.93L299.45 102.29L298.33 100.61L297.23 98.91L297.03 98.6L296.12 97.2L295.02 95.47L294.65 94.89L293.92 93.72L292.83 91.94L292.83 91.94L292.23 90.32L292.04 89.82L291.79 88.87L291.37 87.53L291.34 87.43L290.82 85.94L290.57 85.31L290.18 84.38L289.65 83.18L289.44 82.75L288.64 81.1L288.64 81.1L288.02 79.62L287.72 78.84L287.54 78.28L287.24 77.09L287.01 76.27L286.93 75.92L286.67 74.78L286.49 73.71L286.45 73.4L286.37 72.69L286.3 71.72L286.29 70.8L286.35 69.93L286.37 69.75L286.38 69.03L286.4 68.14L286.44 67.26L286.5 66.4L286.56 65.53L286.56 65.53L284.64 64.22L282.71 62.94L280.75 61.69L279.14 60.7L279.08 61.53L279.04 62.37L279.01 63.22L279 64.08L279 64.5L279 64.96L279.03 65.85L279.09 66.76L279.16 67.69L279.23 68.3L279.26 68.63L279.37 69.58L279.49 70.56L279.65 71.55L279.63 71.66L279.45 72.31L279.24 73.06L279.03 73.81L278.81 74.56L278.61 75.31L278.41 76.07L278.23 76.85L278.08 77.65L278.08 77.65L279.51 79.18L281.01 80.61L281.49 81.05L282.52 82.02L283.99 83.46L285.37 84.99L285.54 85.25L286.52 86.77L286.72 87.24L287.37 88.81L287.39 88.84L287.85 90.24L288.06 91.08L288.21 91.59L288.74 93.11L288.77 93.21L289.69 95.08L289.69 95.08L290.64 96.88L290.85 97.32L291.49 98.76L291.72 99.32L292.23 100.71L292.38 101.15L292.84 102.72L292.88 102.84L293.32 104.49L293.38 104.77L293.82 106.25L293.95 106.74L294.87 108.41L296.02 109.89L297.17 111.37L298.32 112.85L299.47 114.34L300.61 115.84L301.74 117.35L302.01 117.73L302.79 118.92L303.77 120.53L304.66 122.19L304.88 122.65L305.38 123.94L305.93 125.77L306.13 126.63L306.09 127.78L306.04 128.13L305.69 129.12L305.48 130.12L305.43 130.3L305.2 131.57L305.11 132.29L305.01 132.95L304.83 134.38L304.83 134.4L304.81 136.3L304.81 136.32L304.71 138.04L304.69 138.27L304.52 139.63L303.45 138.88L303.33 138.8L302.32 138.03L301.72 137.57L301.16 137.11L300.19 136.35L299.95 136.16L298.73 135.2L298.67 135.15L297.51 134.29L297.12 134.02L296.31 133.48L295.48 132.96L295.14 132.77L294.02 131.84L293.74 131.62L292.59 130.74L292.35 130.57L291.12 129.69L290.98 129.6L289.62 128.7L289.62 128.7L288.37 128.03L287.97 127.82L287.26 127.62L286.24 127.36L285.86 127.28L285.27 127.21L284.32 127.1L283.58 126.9L283.26 126.82L282.14 126.46L281.73 126.3L280.88 125.92L280.2 125.54L279.25 124.89L278.89 124.65L277.68 123.71L276.99 123.09L276.52 122.74L275.39 121.77L274.32 120.76L273.41 119.88L273.27 119.74L272.21 118.73L271.09 117.78L269.81 117L269.76 116.99L268.39 116.64L268.16 116.61L267.43 116.73L266.55 116.9L265.75 117.04L265.66 117.07L264.81 117.28L263.89 117.42L263.46 117.45L262.85 117.46L261.73 117.35L261.59 117.31L260.21 117.04L260.12 117.01L258.87 116.57L257.94 116.14L257.64 116L256.46 115.36L255.3 114.73L254.28 114.24L254.1 114.16L252.85 113.68L251.67 113.31L251.55 113.28L250.24 112.94L249.47 112.75L248.92 112.62L247.61 112.33L247.22 112.23L246.32 112.03L245.04 111.74L244.73 111.66L243.78 111.44L242.53 111.15L241.79 110.97L241.3 110.85L240.08 110.53L238.88 110.2L237.7 109.83L236.69 109.47L236.54 109.43L235.58 109.03L235.41 108.97L234.29 108.46L233.19 107.89L232.09 107.28L231.15 106.72L231 106.62L229.91 105.94L228.86 105.28L228.8 105.25L227.68 104.56L226.68 103.98L226.55 103.9L225.38 103.28L224.19 102.77L223.5 102.56L222.96 102.4L221.71 102.11L220.45 101.89L219.18 101.73L217.9 101.62L216.62 101.57L215.9 101.57L215.34 101.57L214.06 101.61L212.78 101.68L211.51 101.75L210.24 101.79L210.24 102.09L210.24 102.83L210.24 103.56L210.24 104.3L210.24 105.04L210.24 105.78L210.24 106.52L210.24 107.26L210.24 108L210.24 108.74L210.24 109.48L210.24 110.22L210.24 110.96L210.24 110.99L211.35 111.04L212.46 111.07L213.57 111.07L213.96 111.07L214.68 111.06L215.79 111.04L216.91 111.03L218.04 111.03L219.16 111.05L220.28 111.12L221.4 111.23L222.34 111.37L222.51 111.39L223.61 111.62L223.76 111.65L224.7 111.9L225.77 112.24L226.83 112.62L227.87 113.03L228.91 113.47L229.93 113.92L230.96 114.36L231.82 114.73L231.98 114.8L233 115.23L234.03 115.64L235.07 116.04L235.52 116.2L236.11 116.42L237.15 116.81L238.19 117.23L239.18 117.73L240.12 118.33L240.62 118.68L241.02 119L241.86 119.76L242.65 120.6L242.8 120.79L243.31 121.6L243.57 122.14L243.78 122.88L243.83 123.19L243.84 124.08L243.69 124.87L243.66 124.98L243.44 125.59L243.12 126.27L242.75 126.91L242.33 127.52L241.88 128.1L241.39 128.67L240.87 129.21L240.7 129.37L240.32 129.73L239.74 130.23L239.12 130.71L238.47 131.16L238.36 131.23L237.76 131.59L237.02 131.99L236.73 132.14L236.25 132.38L235.43 132.75L235.31 132.8L234.58 133.1L234.03 133.32L233.7 133.45L232.83 133.77L232.8 133.79L231.87 134.12L231.69 134.19L230.93 134.46L230.59 134.58L229.98 134.81L229.53 134.97L229.01 135.16L228.51 135.34L228.03 135.52L227.53 135.7L227.02 135.88L226.58 136.03L225.97 136.24L225.67 136.34L224.85 136.59L224.8 136.6L223.96 136.83L223.61 136.92L223.15 137.02L222.37 137.19L222.2 137.22L221.62 137.32L220.87 137.44L220.54 137.49L220.15 137.55L219.44 137.65L218.73 137.75L218.59 137.77L218.04 137.83L217.36 137.89L216.69 137.93L216.03 137.98L215.87 138L215.37 138.05L214.71 138.15L214.05 138.3L213.55 138.46L213.39 138.51L212.74 138.77L212.12 139.1L212.1 139.11L211.46 139.5L211.07 139.8L210.84 139.97L210.24 140.49L210.24 140.52L210.24 141.26L210.24 142L210.24 142.74L210.24 143.48L210.24 144.22L210.24 144.96L210.24 145.7L210.24 146.44L210.24 147.18L210.24 147.92L210.24 148.66L210.24 149.4L210.24 150.13L210.24 150.87L210.24 151.61L210.24 152.35L210.24 153.09L210.24 153.83L210.24 154.57L210.24 155.31L210.24 156.05L210.24 156.79L210.24 157.53L210.24 158.27L210.24 159L210.24 159.74L210.24 160.48L210.24 161.22L210.24 161.96L210.24 162.7L210.24 163.44L210.24 164.18L210.24 164.92L210.24 165.66L210.24 166.4L210.24 167.14L210.24 167.88L210.24 168.61L210.24 169.35L210.24 170.09L210.24 170.83L210.24 171.57L210.24 172.31L210.24 173.05L210.24 173.79L210.24 174.53z" clip-path="url(#p762479d433)" style="fill: #1e9c89"/>
<path d="M191.42 160.34L191.76 160.09L192.08 159.82L192.38 159.54L192.65 159.24L192.89 158.91L193.09 158.54L193.28 158.15L193.37 157.95L193.45 157.74L193.62 157.32L193.8 156.9L193.98 156.47L194.07 156.26L194.17 156.04L194.37 155.61L194.58 155.19L194.8 154.76L194.87 154.64L195.04 154.36L195.31 153.98L195.59 153.6L195.88 153.24L196.18 152.87L196.3 152.73L196.49 152.52L196.81 152.17L197.13 151.82L197.46 151.48L197.8 151.13L198.06 150.87L198.14 150.79L198.5 150.45L198.85 150.11L199.22 149.77L199.59 149.43L199.76 149.26L199.96 149.09L200.34 148.75L200.73 148.41L201.13 148.06L201.32 147.89L201.53 147.72L201.94 147.37L202.35 147.02L202.74 146.69L202.77 146.66L203.2 146.31L203.64 145.95L204.07 145.61L204.09 145.59L204.55 145.25L205.02 144.91L205.43 144.6L205.49 144.56L205.98 144.21L206.47 143.86L206.7 143.68L206.98 143.48L207.49 143.1L207.83 142.83L208.01 142.68L208.55 142.2L208.71 142.04L209.09 141.64L209.44 141.27L209.66 141.05L210.2 140.52L210.24 140.49L210.24 139.79L210.24 139.05L210.24 138.31L210.24 137.57L210.24 136.83L210.24 136.09L210.24 135.35L210.24 134.61L210.24 133.87L210.24 133.13L210.24 132.39L210.24 131.65L210.24 130.92L210.24 130.18L210.24 129.44L210.24 128.7L210.24 127.96L210.24 127.22L210.24 126.48L210.24 125.74L210.24 125L210.24 124.26L210.24 123.52L210.24 122.78L210.24 122.04L210.24 121.31L210.24 120.57L210.24 119.83L210.24 119.09L210.24 118.35L210.24 117.61L210.24 116.87L210.24 116.13L210.24 115.39L210.24 114.65L210.24 113.91L210.24 113.17L210.24 112.44L210.24 111.7L210.24 110.99L209.79 110.96L209.13 110.92L208.02 110.84L206.9 110.76L205.78 110.69L204.65 110.64L203.52 110.61L203.2 110.6L202.39 110.6L201.26 110.6L200.12 110.61L198.97 110.6L198.35 110.57L197.8 110.55L196.62 110.45L195.83 110.34L195.41 110.28L194.16 110.05L194.01 110.01L192.89 109.78L192.39 109.67L191.6 109.51L190.78 109.36L190.29 109.27L189.11 109.11L188.98 109.09L187.66 108.96L187.28 108.95L186.35 108.9L185.27 108.89L185.04 108.89L183.72 108.9L183.21 108.91L182.39 108.91L181.34 108.91L181.02 108.9L179.7 108.84L179.61 108.83L178.21 108.73L178.15 108.72L176.76 108.62L176.66 108.61L175.24 108.58L175.17 108.58L173.74 108.68L173.39 108.75L172.37 108.94L171.06 109.32L170.87 109.36L169.68 109.61L168.6 109.91L168.32 109.98L167.04 110.48L165.84 111.12L164.7 111.85L163.62 112.66L162.56 113.5L161.5 114.33L160.41 115.15L159.32 115.95L159.29 115.97L158.22 116.75L157.13 117.57L156.07 118.43L155.07 119.36L154.14 120.36L153.24 121.37L152.31 122.37L151.35 123.33L150.35 124.27L149.47 125.07L149.32 125.2L148.28 126.12L147.26 127.07L146.29 128.07L145.8 128.66L145.42 129.14L144.89 129.97L144.68 130.31L144 131.51L143.34 132.72L142.7 133.95L142.12 135.2L141.63 136.5L141.54 136.85L141.29 137.87L141.13 139.2L141.12 139.31L141.15 140.81L141.15 140.83L141.2 142.34L141.21 142.41L141.27 143.82L141.28 144.05L141.28 145.25L141.21 146.09L141.17 146.62L140.95 147.93L140.67 149.21L140.34 150.46L140.3 150.59L140 151.71L139.67 152.95L139.34 154.2L139.04 155.45L138.74 156.7L138.45 157.95L138.15 159.21L137.83 160.45L137.48 161.7L137.39 162.01L137.13 162.95L136.79 164.2L136.46 165.47L136.15 166.74L135.87 168.02L135.86 168.02L135.62 169.31L135.43 170.61L135.31 171.91L135.28 173.22L135.38 174.53L135.59 175.64L135.63 175.83L136.07 177.12L136.39 177.82L136.71 178.38L137.2 179.12L137.61 179.61L138.01 180.04L138.8 180.71L138.89 180.77L139.59 181.23L140.38 181.62L140.88 181.82L141.15 181.93L141.92 182.16L142.68 182.33L143.44 182.45L144.19 182.53L144.82 182.56L144.94 182.57L145.69 182.57L146.43 182.55L147.17 182.5L147.91 182.43L148.64 182.35L149.38 182.26L150.11 182.17L150.84 182.07L151.58 181.98L152.31 181.89L153.04 181.82L153.78 181.75L154.52 181.69L155.26 181.64L156 181.61L156.74 181.58L157.48 181.56L158.23 181.54L158.97 181.54L159.72 181.53L160.42 181.53L160.46 181.53L161.21 181.53L161.96 181.53L162.7 181.53L163.45 181.52L164.2 181.52L164.94 181.5L165.69 181.49L166.4 181.47L166.43 181.47L167.18 181.45L167.92 181.42L168.67 181.39L169.41 181.35L170.15 181.31L170.9 181.27L171.64 181.23L172.38 181.19L172.49 181.18L173.13 181.15L173.87 181.12L174.62 181.09L175.37 181.08L176.12 181.09L176.45 181.1L176.88 181.11L177.64 181.15L178.41 181.22L178.66 181.24L179.18 181.28L179.95 181.34L180.63 181.36L180.71 181.36L181.44 181.22L181.55 181.15L182.08 180.72L182.27 180.47L182.56 179.91L182.63 179.68L182.69 179.39L182.73 178.89L182.71 178.4L182.64 177.92L182.53 177.44L182.4 176.96L182.25 176.49L182.21 176.36L182.1 176L181.95 175.52L181.83 175.02L181.73 174.53L181.7 174.03L181.75 173.53L181.98 173.05L182.2 172.8L182.41 172.58L182.81 172.13L183.03 171.76L183.07 171.67L183.28 171.22L183.48 170.77L183.68 170.32L183.87 169.88L184.06 169.44L184.16 169.22L184.26 169.01L184.46 168.58L184.66 168.15L184.87 167.73L185.08 167.31L185.29 166.9L185.51 166.49L185.74 166.09L185.84 165.92L185.98 165.7L186.22 165.31L186.47 164.92L186.73 164.55L186.99 164.18L187.27 163.82L187.55 163.46L187.84 163.11L187.87 163.08L188.14 162.78L188.46 162.46L188.79 162.15L189.15 161.86L189.53 161.59L189.59 161.55L189.92 161.33L190.31 161.09L190.69 160.84L191.06 160.59L191.19 160.51z M183.24 152.67L182.74 153.04L182.21 153.4L181.65 153.76L181.33 153.96L181.08 154.11L180.49 154.46L179.89 154.82L179.82 154.86L179.28 155.18L178.67 155.56L178.42 155.72L178.06 155.95L177.46 156.36L177.06 156.63L176.85 156.78L176.25 157.21L175.72 157.61L175.66 157.66L175.07 158.13L174.49 158.61L174.42 158.67L173.91 159.11L173.34 159.62L173.14 159.8L172.78 160.15L172.25 160.7L171.85 161.16L171.75 161.27L171.23 161.85L170.67 162.43L170.65 162.45L170.03 163L169.63 163.31L169.27 163.55L168.71 163.89L168.31 164.07L167.85 164.27L167.04 164.5L166.89 164.52L166.25 164.61L165.5 164.61L164.76 164.52L164.04 164.33L163.35 164.05L162.67 163.7L162.31 163.46L162.01 163.27L161.36 162.8L160.72 162.3L160.41 162.1L160.06 161.91L159.37 161.63L158.66 161.41L157.95 161.2L157.24 160.99L156.54 160.76L155.84 160.49L155.17 160.16L154.52 159.7L154.37 159.56L153.93 159.06L153.51 158.26L153.43 158.1L153.14 157.07L153.06 156.76L152.91 155.9L152.78 155.23L152.71 154.72L152.55 153.65L152.54 153.53L152.4 152.32L152.36 152.04L152.27 151.11L152.2 150.46L152.15 149.87L152.06 148.92L152.03 148.61L151.91 147.44L151.9 147.32L151.75 146.05L151.75 146L151.57 144.76L151.55 144.63L151.48 143.33L151.48 143.29L151.61 142.03L151.71 141.37L151.83 140.8L152.13 139.61L152.44 138.69L152.53 138.46L153.01 137.36L153.57 136.3L154.22 135.31L155 134.4L155.85 133.54L156.35 133.05L156.71 132.7L157.56 131.87L158.39 131.02L159.22 130.18L160.04 129.33L160.86 128.48L161.68 127.63L162.52 126.81L163.38 126L164.27 125.24L165.2 124.5L165.62 124.19L166.15 123.81L167.13 123.15L168.14 122.54L169.19 121.98L169.87 121.65L170.26 121.47L171.36 121.02L172.49 120.62L172.55 120.6L173.66 120.3L174.59 120.12L174.87 120.07L176.12 120.01L176.17 120.01L177.39 120.1L177.54 120.11L178.69 120.19L178.88 120.2L180.13 120.22L180.15 120.21L181.31 120.12L182.25 119.93L182.41 119.9L183.44 119.59L184.43 119.19L185.4 118.74L186.36 118.27L187.33 117.81L188.32 117.42L189.35 117.14L190.46 117.07L190.74 117.13L191.69 117.44L191.9 117.53L192.9 117.99L192.96 118.02L193.94 118.45L194.19 118.55L195.21 118.86L195.33 118.9L196.41 119.07L197.36 119.09L197.44 119.09L198.44 119.02L199.42 118.88L200.4 118.72L201.38 118.59L202.37 118.55L203.39 118.74L203.45 118.76L204.42 119.17L204.79 119.36L205.45 119.75L205.84 120L206.46 120.49L206.7 120.68L207.42 121.38L207.46 121.43L207.97 122.09L208.35 122.82L208.45 123.28L208.51 123.55L208.48 124.25L208.48 124.29L208.31 125.04L208.02 125.79L207.72 126.39L207.64 126.55L207.22 127.32L206.97 127.74L206.77 128.09L206.32 128.87L206.26 128.98L205.87 129.65L205.58 130.15L205.4 130.44L204.92 131.2L204.89 131.24L204.33 132.06L204.28 132.13L203.72 132.9L203.66 132.98L203.05 133.76L203.05 133.76L202.45 134.47L202.28 134.66L201.86 135.11L201.39 135.6L201.28 135.72L200.7 136.27L200.31 136.63L200.13 136.79L199.56 137.28L199 137.75L198.96 137.78L198.44 138.2L197.88 138.64L197.33 139.07L197.24 139.14L196.79 139.49L196.25 139.9L195.72 140.31L195.19 140.73L195.06 140.83L194.67 141.13L194.14 141.53L193.63 141.93L193.13 142.34L192.63 142.77L192.3 143.06L192.15 143.2L191.68 143.64L191.22 144.08L190.77 144.54L190.33 145L189.93 145.43L189.9 145.47L189.47 145.94L189.05 146.41L188.64 146.89L188.24 147.36L187.84 147.83L187.44 148.3L187.41 148.34L187.04 148.77L186.65 149.23L186.25 149.68L185.84 150.13L185.43 150.57L185.02 151.01L184.59 151.44L184.16 151.85L183.71 152.26L183.24 152.66z M210.84 139.97L211.07 139.8L211.46 139.5L212.1 139.11L212.12 139.1L212.74 138.77L213.39 138.51L213.55 138.46L214.05 138.3L214.71 138.15L215.37 138.05L215.87 138L216.03 137.98L216.69 137.93L217.36 137.89L218.04 137.83L218.59 137.77L218.73 137.75L219.44 137.65L220.15 137.55L220.54 137.49L220.87 137.44L221.62 137.32L222.2 137.22L222.37 137.19L223.15 137.02L223.61 136.92L223.96 136.83L224.8 136.6L224.85 136.59L225.67 136.34L225.97 136.24L226.58 136.03L227.02 135.88L227.53 135.7L228.03 135.52L228.51 135.34L229.01 135.16L229.53 134.97L229.98 134.81L230.59 134.58L230.93 134.46L231.69 134.19L231.87 134.12L232.8 133.79L232.83 133.77L233.7 133.45L234.03 133.32L234.58 133.1L235.31 132.8L235.43 132.75L236.25 132.38L236.73 132.14L237.02 131.99L237.76 131.59L238.36 131.23L238.47 131.16L239.12 130.71L239.74 130.23L240.32 129.73L240.7 129.37L240.87 129.21L241.39 128.67L241.88 128.1L242.33 127.52L242.75 126.91L243.12 126.27L243.44 125.59L243.66 124.98L243.69 124.87L243.84 124.08L243.83 123.19L243.78 122.88L243.57 122.14L243.31 121.6L242.8 120.79L242.65 120.6L241.86 119.76L241.02 119L240.62 118.68L240.12 118.33L239.18 117.73L238.19 117.23L237.15 116.81L236.11 116.42L235.52 116.2L235.07 116.04L234.03 115.64L233 115.23L231.98 114.8L231.82 114.73L230.96 114.36L229.93 113.92L228.91 113.47L227.87 113.03L226.83 112.62L225.77 112.24L224.7 111.9L223.76 111.65L223.61 111.62L222.51 111.39L222.34 111.37L221.4 111.23L220.28 111.12L219.16 111.05L218.04 111.03L216.91 111.03L215.79 111.04L214.68 111.06L213.96 111.07L213.57 111.07L212.46 111.07L211.35 111.04L210.24 110.99L210.24 111.7L210.24 112.44L210.24 113.17L210.24 113.91L210.24 114.65L210.24 115.39L210.24 116.13L210.24 116.87L210.24 117.61L210.24 118.35L210.24 119.09L210.24 119.83L210.24 120.57L210.24 121.31L210.24 122.04L210.24 122.78L210.24 123.52L210.24 124.26L210.24 125L210.24 125.74L210.24 126.48L210.24 127.22L210.24 127.96L210.24 128.7L210.24 129.44L210.24 130.18L210.24 130.92L210.24 131.65L210.24 132.39L210.24 133.13L210.24 133.87L210.24 134.61L210.24 135.35L210.24 136.09L210.24 136.83L210.24 137.57L210.24 138.31L210.24 139.05L210.24 139.79L210.24 140.49z M265.57 143.86L265.91 144.93L266.47 145.88L267.31 146.69L267.43 146.77L268.48 147.26L268.64 147.29L269.38 147.43L270.2 147.46L270.98 147.39L271.35 147.32L271.72 147.24L272.44 147.04L273.15 146.82L273.88 146.63L274.63 146.51L275.44 146.51L276.01 146.61L276.32 146.68L277.31 147.16L277.54 147.34L278.41 148.36L278.74 148.77L279.22 149.42L280.07 150.48L280.19 150.62L280.96 151.55L281.46 152.11L281.89 152.62L282.66 153.53L282.81 153.72L283.5 154.9L283.9 156.16L284.29 157.43L284.58 158.08L284.87 158.67L285.66 159.64L285.82 159.84L286.6 160.61L287.16 160.96L287.45 161.18L288.27 161.62L289.07 161.91L289.45 161.98L289.91 162.5L290.44 163.26L290.4 164.69L290.28 165.28L290.2 166.12L289.98 167.55L289.83 168.35L289.75 168.97L289.51 170.37L289.28 171.61L289.26 171.77L289.02 173.15L288.78 174.53L288.59 175.78L288.57 175.9L288.44 177.26L288.4 178.62L288.45 179.37L288.47 180L288.61 181.38L288.74 182.78L288.8 183.73L288.81 184.18L288.8 185.57L288.69 186.95L288.51 188.33L288.27 189.7L287.98 191.05L287.66 192.4L287.31 193.74L286.96 195.09L286.63 196.43L286.31 197.78L286.02 199.15L285.85 200.14L285.78 200.54L285.64 201.97L285.64 202.93L285.65 203.47L285.78 204.63L285.83 205.07L285.98 206.09L286.07 206.72L286.14 207.59L286.24 208.37L286.29 209.08L286.51 210.09L286.55 210.28L286.84 211.39L287.01 211.97L287.09 212.56L287.07 213.68L287.06 214.25L287.08 215.38L287.08 215.81L287.14 217.15L287.13 217.26L287.06 218.88L287.06 218.88L286.52 220.36L286.09 221.93L286.09 221.93L285.43 223.35L284.76 224.79L284.11 226.25L284.11 226.25L283.35 227.65L282.56 229.03L281.74 230.39L280.86 231.71L279.89 232.97L279.89 232.97L278.86 234.18L277.81 235.37L276.74 236.54L275.64 237.69L274.53 238.82L273.62 240.16L273.36 241L273.03 241.86L272.89 242.44L272.52 243.69L272.49 243.81L272.12 245.12L271.98 245.55L271.68 246.48L271.58 247.54L271.57 247.62L271.54 248.54L271.51 249.52L271.49 250.16L271.49 250.48L271.51 251.42L271.53 252.34L271.54 252.99L271.56 253.26L271.6 254.16L271.65 255.05L271.71 255.94L271.72 256.12L271.77 256.81L271.85 257.68L271.9 258.56L271.96 259.43L271.97 259.49L272.03 260.29L272.1 261.16L272.29 261.92L272.43 262.73L272.55 263.51L272.55 263.55L272.66 264.37L272.76 265.2L272.86 266.03L272.95 266.86L273.04 267.63L273.04 267.7L273.12 268.54L273.19 269.38L273.26 270.21L273.33 271.05L273.34 271.69L273.34 271.93L273.35 272.81L273.37 273.67L273.4 274.53L273.44 275.37L273.46 275.7L273.48 276.22L273.53 277.06L273.61 277.88L273.73 278.67L273.86 279.46L273.97 280.25L274.03 280.7L274.07 281.05L274.16 281.86L274.24 282.68L274.31 283.49L274.37 284.31L274.43 285.13L274.37 285.61L274.32 286.05L273.52 287.36L273.13 287.98L272.76 288.62L272.06 289.84L271.8 290.3L271.41 291.02L270.79 292.18L270.48 292.76L270.22 293.3L270.65 293.08L272.71 292.01L274.75 290.9L276.77 289.76L278.77 288.58L280.75 287.37L282.71 286.12L284.08 285.21L284.42 284.5L284.68 283.92L285.22 282.65L285.48 281.98L285.69 281.42L286.06 280.25L286.33 279.26L286.37 279.11L286.62 278.01L286.49 277.19L286.27 276.43L286.04 275.68L285.8 274.94L285.73 274.7L285.56 274.19L285.32 273.45L285.07 272.71L284.83 271.96L284.56 271.24L284.29 270.51L284.12 269.71L284.12 269.09L284.13 268.77L284.15 267.81L284.18 266.84L284.21 265.87L284.21 265.86L284.26 264.87L284.32 263.86L284.38 262.89L284.38 262.85L284.31 261.94L284.25 261.02L284.19 260.1L284.15 259.55L284.14 259.16L284.12 258.19L284.12 257.21L284.12 256.57L284.14 256.19L284.24 255.1L284.37 254.02L284.38 253.97L284.75 252.6L284.97 251.91L285.63 250.72L285.91 250.2L287.07 248.72L288.28 247.3L289.49 245.88L290.66 244.43L291.78 242.95L291.78 242.95L291.77 241.81L291.79 240.61L291.79 240.57L291.52 239.77L291.26 238.92L291.02 238.03L290.91 237.55L290.78 237.14L290.53 236.25L290.31 235.32L290.19 234.78L290.13 234.33L290.01 233.25L289.94 232.43L289.99 232.03L290.17 230.49L290.17 230.49L290.76 228.84L291.15 227.73L291.32 227.18L291.73 225.45L291.73 225.45L292.08 223.7L292.12 223.41L292.18 221.84L292.18 221.84L292.67 220.22L293.17 218.62L293.23 218.41L293.61 217.01L293.95 215.36L293.95 215.36L294.22 213.69L294.32 212.84L294.41 212L294.51 210.58L294.53 210.31L294.63 208.62L294.66 208.29L294.76 206.97L294.98 205.37L294.98 205.37L295.17 203.77L295.43 202.21L295.69 200.95L295.74 200.67L296.07 199.14L296.45 197.63L296.86 196.12L297.27 194.62L297.7 193.12L297.81 192.74L298.11 191.61L298.52 190.09L298.93 188.58L299.35 187.05L299.73 185.66L299.77 185.52L300.21 183.98L300.66 182.44L300.88 181.73L301.13 180.88L301.63 179.32L301.8 178.82L302.17 177.74L302.62 176.5L302.75 176.14L303.38 174.53L303.38 174.53L304.11 173.23L304.29 172.89L304.83 172.09L305.36 171.21L305.53 170.94L306.22 169.76L306.36 169.49L306.89 168.49L307.23 167.75L307.53 167.1L307.99 165.98L308.15 165.58L308.65 164.18L308.73 163.98L309.28 162.37L309.29 162.35L309.82 160.77L309.9 160.52L310.35 159.25L310.59 158.63L310.93 158.15L311.54 157.34L312.14 156.56L312.15 156.55L312.8 155.98L313.45 155.42L314.1 154.85L314.74 154.29L314.85 154.19L315.39 153.77L316.02 153.1L316.61 152.34L316.97 151.84L317.19 151.5L317.74 150.57L318.22 149.6L318.26 149.5L318.71 148.19L318.92 147.43L319.05 146.53L319.2 145.33L319.25 144.4L319.3 143.25L319.35 142.05L319.36 141.17L319.36 139.59L319.35 139.08L319.25 136.99L319.24 136.9L319.08 134.91L318.98 133.98L318.84 132.84L318.52 130.78L318.5 130.71L318.11 128.74L317.67 126.85L317.63 126.71L317.07 124.71L316.43 122.74L316.03 121.64L315.69 120.8L314.87 118.9L313.97 117.03L313.01 115.19L311.99 113.39L310.93 111.61L309.83 109.85L308.7 108.11L307.54 106.4L306.36 104.69L305.15 103.01L303.93 101.33L302.86 99.79L302.74 99.62L301.71 97.78L301.1 96.52L300.76 95.84L299.95 94.1L299.84 93.85L298.93 91.88L298.91 91.84L297.97 89.81L297.95 89.78L297.01 87.76L297.01 87.76L296.61 86.33L296.32 85.39L296.17 84.87L295.84 83.54L295.63 82.96L295.17 81.91L294.59 80.85L294.06 79.91L293.41 78.85L292.9 77.92L292.24 76.81L291.98 76.18L291.35 74.7L291.28 74.45L291.23 73.66L291.18 72.67L291.14 71.7L291.14 70.98L291.16 70.78L291.29 69.94L291.42 69.1L290.32 68.26L288.45 66.88L286.56 65.53L286.5 66.4L286.44 67.26L286.4 68.14L286.38 69.03L286.37 69.75L286.35 69.93L286.29 70.8L286.3 71.72L286.37 72.69L286.45 73.4L286.49 73.71L286.67 74.78L286.93 75.92L287.01 76.27L287.24 77.09L287.54 78.28L287.72 78.84L288.02 79.62L288.64 81.1L288.64 81.1L289.44 82.75L289.65 83.18L290.18 84.38L290.57 85.31L290.82 85.94L291.34 87.43L291.37 87.53L291.79 88.87L292.04 89.82L292.23 90.32L292.83 91.94L292.83 91.94L293.92 93.72L294.65 94.89L295.02 95.47L296.12 97.2L297.03 98.6L297.23 98.91L298.33 100.61L299.45 102.29L300.6 103.93L301.76 105.56L302.11 106.07L302.89 107.21L304.01 108.87L305.1 110.54L306.17 112.23L307.21 113.94L308.2 115.67L309.16 117.42L310.04 119.21L310.85 121.03L311.2 121.93L311.55 122.91L312.14 124.83L312.53 126.27L312.66 126.77L313.09 128.74L313.27 129.7L313.45 130.72L313.73 132.7L313.73 132.72L313.93 134.73L313.98 135.38L314.07 136.74L314.12 137.93L314.15 138.75L314.18 140.38L314.18 140.76L314.15 142.74L314.15 142.76L314.06 144.76L314.04 144.99L313.84 146.77L313.8 146.9L313.23 147.64L312.66 148.38L312.08 149.11L312.06 149.14L311.46 149.67L310.83 150.22L310.2 150.77L309.57 151.32L309.15 151.69L308.94 151.86L308.3 152.39L307.6 152.64L306.9 152.9L306.21 153.18L305.52 153.49L304.84 153.83L304.17 154.23L303.51 154.7L303.51 154.7L302.88 155.3L302.3 156.13L302.02 156.69L301.78 157.33L301.49 158.44L301.35 159.14L300.77 160.19L300.77 160.19L300.04 160.3L299.31 160.42L298.58 160.54L297.85 160.65L297.85 160.65L297.6 159.12L297.31 157.6L297.01 156.09L296.67 154.57L296.31 153.07L295.92 151.57L295.46 150.09L294.89 148.65L294.22 147.24L293.44 145.88L293.38 145.79L292.51 144.58L291.87 143.8L291.49 143.34L290.43 142.13L290.43 142.12L289.39 140.93L288.83 140.24L288.42 139.72L287.55 138.48L286.77 137.2L286.26 136.48L285.9 135.98L284.81 134.88L284.45 134.61L283.53 133.9L283.04 133.57L282.07 133.06L281.82 132.93L280.62 132.35L280.53 132.3L279.24 131.41L279.11 131.29L278.12 130.44L277.14 129.62L276.99 129.51L275.78 128.94L275.51 128.83L274.56 128.5L273.86 128.31L273.42 128.18L272.38 128.02L271.93 128.04L271.48 128.05L270.62 128.14L269.82 128.31L269.08 128.57L269.01 128.61L268.42 128.93L267.84 129.38L267.37 129.9L267.33 129.94L266.95 130.65L266.7 131.54L266.61 132.05L266.6 132.63L266.62 133.57L266.7 134.02L266.83 134.91L267.1 135.89L267.15 136.14L267.45 137.37L267.49 137.83L267.16 138.68L266.82 139.17L266.69 139.32L266.22 139.97L265.82 140.74L265.69 141.21L265.53 141.68L265.45 142.65L265.44 142.99z M162.89 242.15L161.83 241.16L160.71 240.25L159.56 239.39L158.39 238.56L157.22 237.72L156.09 236.82L154.99 235.89L153.9 234.95L152.81 233.99L151.72 233.05L151.35 232.71L150.65 232.08L149.56 231.12L148.45 230.16L147.34 229.21L146.26 228.21L146.16 228.11L145.23 227.17L143.89 226.37L143.78 226.34L142.5 225.88L142.24 225.77L141.27 225.47L140.54 225.17L139.96 224.93L138.91 224.47L138.66 224.37L137.52 224.02L137.04 223.9L136.44 223.74L135.4 223.5L134.97 223.41L134.36 223.27L133.34 223.04L132.79 222.93L132.33 222.81L131.31 222.57L130.55 222.41L130.31 222.34L129.29 222.07L128.3 221.84L128.3 221.84L127.07 221.17L126.57 220.91L125.88 220.55L124.76 219.98L124.73 219.97L123.61 219.42L122.83 219.06L122.52 218.93L121.47 218.48L120.73 218.19L120.45 218.08L119.47 217.74L118.5 217.43L118.35 217.38L117.57 217.16L116.65 216.94L115.76 216.75L115.55 216.69L114.83 216.49L113.92 216.24L113.02 216.02L112.69 215.94L112.12 215.8L111.23 215.59L110.35 215.39L109.54 215.21L109.48 215.2L108.6 214.99L107.72 214.78L106.84 214.57L106.28 214.44L105.96 214.34L105.07 214.06L104.17 213.77L103.27 213.46L103.27 213.46L101.97 211.81L101.83 211.61L100.75 210.1L100.38 209.59L99.49 208.39L99.09 207.92L98 206.71L97.96 206.67L96.96 205.85L96 205.14L96 205.14L95.15 204.81L94.31 204.52L93.47 204.25L92.65 204.01L92.33 203.93L91.84 203.83L91.05 203.69L90.26 203.57L89.48 203.51L88.71 203.46L87.94 203.41L87.17 203.36L86.4 203.32L86.26 203.15L85.37 202.11L84.62 201.23L84.36 200.94L83.38 199.84L82.71 199.32L82.5 199.17L81.59 198.38L80.71 197.64L80.45 197.41L79.82 196.86L78.92 195.97L79.21 197.63L79.63 199.92L80.05 201.98L80.22 202.17L81.05 203.12L82.02 204.13L82.04 204.16L83.06 205.27L83.76 206.06L84.14 206.52L85.23 207.79L85.39 207.98L86.38 209.21L86.96 209.88L87.53 210.52L88.65 211.7L88.66 211.7L89.58 212.2L90.55 212.83L91.11 213.24L91.6 213.65L92.74 214.72L92.94 214.92L93.99 216.05L94.59 216.62L95.18 217.18L96.33 218.12L96.44 218.21L97.49 219.06L98.35 219.73L98.64 219.94L99.77 220.75L100.36 221.17L100.91 221.55L102.08 222.37L102.36 222.56L103.24 223.16L104.37 223.9L104.41 223.92L105.58 224.68L106.39 225.18L106.76 225.42L107.95 226.15L108.41 226.42L109.16 226.88L110.29 227.45L110.5 227.56L111.52 228.18L112.44 228.74L112.82 229.01L114.22 229.97L114.22 229.97L115.38 230.49L116.37 230.93L116.54 231.01L117.72 231.51L118.52 231.84L118.89 232L120.08 232.49L120.64 232.72L121.28 232.98L122.48 233.45L122.74 233.55L123.69 233.92L124.82 234.34L124.9 234.37L126.13 234.82L126.91 235.07L127.33 235.22L128.54 235.61L129 235.75L129.77 236.01L131.02 236.42L131.02 236.42L132.39 236.96L132.91 237.15L133.72 237.43L134.85 237.79L135.03 237.85L136.34 238.25L136.79 238.38L137.69 238.66L138.68 238.96L139.09 239.12L140.45 239.61L140.65 239.72L142.02 240.41L143.34 241.43L144.51 242.59L145.71 243.73L146.93 244.84L148.17 245.94L149.42 247.01L150.7 248.06L151.99 249.09L153.3 250.09L154.63 251.08L155.97 252.03L156.29 253.16L156.56 254.12L156.55 254.22L156.5 255.08L156.52 255.98L156.61 256.93L156.63 257.07L156.71 257.87L156.67 258.72L156.64 259.58L156.64 260.31L156.63 260.44L156.6 261.3L156.59 262.16L156.59 263.03L156.61 263.78L156.61 263.9L156.62 264.76L156.62 265.63L156.63 266.49L156.65 267.35L156.04 267.85L155.45 268.36L154.87 268.88L154.31 269.41L153.76 269.94L153.22 270.48L152.69 271.03L152.16 271.58L151.65 272.13L151.5 272.29L151.14 272.69L150.64 273.25L150.17 273.83L149.72 274.42L149.44 275.11L149.16 275.81L148.86 276.49L148.56 277.17L148.54 277.21L148.26 277.85L147.96 278.54L147.66 279.22L147.37 279.9L147.07 280.59L146.77 281.27L146.66 282.06L146.54 282.85L146.41 283.63L146.26 284.4L146.1 285.16L145.93 285.92L145.93 285.92L145.79 286.69L145.65 287.46L145.52 288.24L145.39 289.01L145.26 289.79L145.13 290.57L145.73 290.9L147.77 292.01L149.83 293.08L151.91 294.12L154.01 295.12L156.12 296.08L158.25 297.01L160.4 297.9L162.56 298.75L164.73 299.56L164.42 298.66L164.12 297.76L163.85 296.87L163.61 296L163.6 295.98L163.32 295.08L163.03 294.17L163.19 293.44L163.34 292.7L163.49 291.97L163.65 291.23L163.8 290.5L163.96 289.77L164.1 289.03L164.21 288.46L164.24 288.29L164.37 287.54L164.51 286.8L164.65 286.06L164.79 285.32L164.93 284.57L165.07 283.83L165.51 283.21L165.95 282.6L166.45 282.01L166.96 281.41L167.15 281.18L167.45 280.81L167.94 280.21L168.43 279.61L168.91 279.01L169.4 278.41L169.89 277.8L170.27 277.16L170.65 276.52L171.03 275.87L171.41 275.22L171.78 274.58L171.98 274.19L172.13 273.92L172.24 273.51L172.33 273.2L172.54 272.49L172.78 271.79L173.03 271.1L173.28 270.4L173.53 269.7L173.77 269.01L174.02 268.31L174.27 267.61L174.51 266.91L174.72 266.2L174.92 265.49L175.14 264.78L175.36 264.07L175.56 263.36L175.76 262.64L175.95 261.92L176.13 261.2L176.3 260.47L176.44 259.73L176.02 259.23L175.35 258.49L174.85 257.91L174.19 257.19L173.69 256.62L173 255.85L172.56 255.34L171.85 254.49L171.47 254.03L170.79 253.15L170.43 252.66L169.9 251.87L169.48 251.19L169.15 250.63L168.6 249.65L168.46 249.41L167.73 248.16L167.72 248.14L166.79 246.85L166.58 246.6L165.75 245.73L164.74 244.6L164.7 244.55L163.81 243.36L163.36 242.77z" clip-path="url(#p762479d433)" style="fill: #2fb47c"/>
<path d="M183.24 152.66L183.71 152.26L184.16 151.85L184.59 151.44L185.02 151.01L185.43 150.57L185.84 150.13L186.25 149.68L186.65 149.23L187.04 148.77L187.41 148.34L187.44 148.3L187.84 147.83L188.24 147.36L188.64 146.89L189.05 146.41L189.47 145.94L189.9 145.47L189.93 145.43L190.33 145L190.77 144.54L191.22 144.08L191.68 143.64L192.15 143.2L192.3 143.06L192.63 142.77L193.13 142.34L193.63 141.93L194.14 141.53L194.67 141.13L195.06 140.83L195.19 140.73L195.72 140.31L196.25 139.9L196.79 139.49L197.24 139.14L197.33 139.07L197.88 138.64L198.44 138.2L198.96 137.78L199 137.75L199.56 137.28L200.13 136.79L200.31 136.63L200.7 136.27L201.28 135.72L201.39 135.6L201.86 135.11L202.28 134.66L202.45 134.47L203.05 133.76L203.05 133.76L203.66 132.98L203.72 132.9L204.28 132.13L204.33 132.06L204.89 131.24L204.92 131.2L205.4 130.44L205.58 130.15L205.87 129.65L206.26 128.98L206.32 128.87L206.77 128.09L206.97 127.74L207.22 127.32L207.64 126.55L207.72 126.39L208.02 125.79L208.31 125.04L208.48 124.29L208.48 124.25L208.51 123.55L208.45 123.28L208.35 122.82L207.97 122.09L207.46 121.43L207.42 121.38L206.7 120.68L206.46 120.49L205.84 120L205.45 119.75L204.79 119.36L204.42 119.17L203.45 118.76L203.39 118.74L202.37 118.55L201.38 118.59L200.4 118.72L199.42 118.88L198.44 119.02L197.44 119.09L197.36 119.09L196.41 119.07L195.33 118.9L195.21 118.86L194.19 118.55L193.94 118.45L192.96 118.02L192.9 117.99L191.9 117.53L191.69 117.44L190.74 117.13L190.46 117.07L189.35 117.14L188.32 117.42L187.33 117.81L186.36 118.27L185.4 118.74L184.43 119.19L183.44 119.59L182.41 119.9L182.25 119.93L181.31 120.12L180.15 120.21L180.13 120.22L178.88 120.2L178.69 120.19L177.54 120.11L177.39 120.1L176.17 120.01L176.12 120.01L174.87 120.07L174.59 120.12L173.66 120.3L172.55 120.6L172.49 120.62L171.36 121.02L170.26 121.47L169.87 121.65L169.19 121.98L168.14 122.54L167.13 123.15L166.15 123.81L165.62 124.19L165.2 124.5L164.27 125.24L163.38 126L162.52 126.81L161.68 127.63L160.86 128.48L160.04 129.33L159.22 130.18L158.39 131.02L157.56 131.87L156.71 132.7L156.35 133.05L155.85 133.54L155 134.4L154.22 135.31L153.57 136.3L153.01 137.36L152.53 138.46L152.44 138.69L152.13 139.61L151.83 140.8L151.71 141.37L151.61 142.03L151.48 143.29L151.48 143.33L151.55 144.63L151.57 144.76L151.75 146L151.75 146.05L151.9 147.32L151.91 147.44L152.03 148.61L152.06 148.92L152.15 149.87L152.2 150.46L152.27 151.11L152.36 152.04L152.4 152.32L152.54 153.53L152.55 153.65L152.71 154.72L152.78 155.23L152.91 155.9L153.06 156.76L153.14 157.07L153.43 158.1L153.51 158.26L153.93 159.06L154.37 159.56L154.52 159.7L155.17 160.16L155.84 160.49L156.54 160.76L157.24 160.99L157.95 161.2L158.66 161.41L159.37 161.63L160.06 161.91L160.41 162.1L160.72 162.3L161.36 162.8L162.01 163.27L162.31 163.46L162.67 163.7L163.35 164.05L164.04 164.33L164.76 164.52L165.5 164.61L166.25 164.61L166.89 164.52L167.04 164.5L167.85 164.27L168.31 164.07L168.71 163.89L169.27 163.55L169.63 163.31L170.03 163L170.65 162.45L170.67 162.43L171.23 161.85L171.75 161.27L171.85 161.16L172.25 160.7L172.78 160.15L173.14 159.8L173.34 159.62L173.91 159.11L174.42 158.67L174.49 158.61L175.07 158.13L175.66 157.66L175.72 157.61L176.25 157.21L176.85 156.78L177.06 156.63L177.46 156.36L178.06 155.95L178.42 155.72L178.67 155.56L179.28 155.18L179.82 154.86L179.89 154.82L180.49 154.46L181.08 154.11L181.33 153.96L181.65 153.76L182.21 153.4L182.74 153.04L183.24 152.67z M297.7 193.12L297.27 194.62L296.86 196.12L296.45 197.63L296.07 199.14L295.74 200.67L295.69 200.95L295.43 202.21L295.17 203.77L294.98 205.37L294.98 205.37L294.76 206.97L294.66 208.29L294.63 208.62L294.53 210.31L294.51 210.58L294.41 212L294.32 212.84L294.22 213.69L293.95 215.36L293.95 215.36L293.61 217.01L293.23 218.41L293.17 218.62L292.67 220.22L292.18 221.84L292.18 221.84L292.12 223.41L292.08 223.7L291.73 225.45L291.73 225.45L291.32 227.18L291.15 227.73L290.76 228.84L290.17 230.49L290.17 230.49L289.99 232.03L289.94 232.43L290.01 233.25L290.13 234.33L290.19 234.78L290.31 235.32L290.53 236.25L290.78 237.14L290.91 237.55L291.02 238.03L291.26 238.92L291.52 239.77L291.79 240.57L291.79 240.61L291.77 241.81L291.78 242.95L291.78 242.95L290.66 244.43L289.49 245.88L288.28 247.3L287.07 248.72L285.91 250.2L285.63 250.72L284.97 251.91L284.75 252.6L284.38 253.97L284.37 254.02L284.24 255.1L284.14 256.19L284.12 256.57L284.12 257.21L284.12 258.19L284.14 259.16L284.15 259.55L284.19 260.1L284.25 261.02L284.31 261.94L284.38 262.85L284.38 262.89L284.32 263.86L284.26 264.87L284.21 265.86L284.21 265.87L284.18 266.84L284.15 267.81L284.13 268.77L284.12 269.09L284.12 269.71L284.29 270.51L284.56 271.24L284.83 271.96L285.07 272.71L285.32 273.45L285.56 274.19L285.73 274.7L285.8 274.94L286.04 275.68L286.27 276.43L286.49 277.19L286.62 278.01L286.37 279.11L286.33 279.26L286.06 280.25L285.69 281.42L285.48 281.98L285.22 282.65L284.68 283.92L284.42 284.5L284.08 285.21L284.64 284.84L286.56 283.52L288.45 282.17L290.32 280.79L292.16 279.38L293.97 277.93L295.77 276.45L297.53 274.95L297.74 274.76L297.77 273.75L297.76 272.77L297.72 271.82L297.7 271.67L297.62 270.91L297.5 270.02L297.36 269.15L297.15 268.33L296.93 267.53L296.92 267.48L296.73 266.71L296.54 265.87L296.35 265.04L296.16 264.19L295.98 263.34L295.98 263.31L295.85 262.44L295.72 261.53L295.61 260.6L295.6 259.89L295.64 259.52L296.11 258L296.23 257.57L296.7 256.31L297.01 255.44L297.33 254.55L297.75 253.32L297.88 252.84L298.28 251.27L298.32 251.1L298.46 249.94L298.58 248.65L298.58 248.65L298.75 247.29L298.88 246.31L298.87 245.97L298.84 244.82L298.76 243.73L298.76 243.69L298.6 242.73L298.41 241.76L298.2 240.82L298.19 240.8L297.99 239.87L297.76 238.94L297.51 238.02L297.47 237.91L297.45 236.84L297.43 235.58L297.43 235.58L298.22 233.87L299.1 232.23L299.88 230.54L299.88 230.54L300.23 228.6L300.23 228.56L300.5 226.64L300.5 226.64L300.51 225.13L300.53 224.58L300.53 223.57L300.57 222.56L300.64 221.79L300.77 220.66L301.02 219.42L301.11 218.85L301.46 217.07L301.57 216.54L301.81 215.3L302.17 213.55L302.27 213.11L302.55 211.82L302.93 210.11L303.32 208.41L303.32 208.41L303.64 206.69L303.92 204.97L304.14 203.66L304.2 203.26L304.53 201.56L304.92 199.9L305.4 198.25L305.92 196.62L306.23 195.77L306.51 194.99L307.16 193.37L307.72 192.09L307.88 191.74L308.67 190.12L308.87 189.74L309.54 188.48L309.88 187.91L310.43 186.83L310.86 186.01L311.26 185.15L311.82 183.93L312.03 183.43L312.73 181.82L312.78 181.7L313.49 179.94L313.6 179.65L314.17 178.16L314.43 177.42L314.79 176.35L315.21 175.02L315.38 174.53L315.93 172.8L315.97 172.68L316.55 170.82L316.61 170.6L317.1 168.93L317.25 168.44L317.68 167.02L317.86 166.46L318.31 165.07L318.45 164.67L319.01 163.1L319.04 163.04L319.62 161.57L319.81 161.07L320.19 160.21L320.7 159L320.76 158.89L321.32 157.65L321.54 156.9L321.83 156.12L322.1 154.8L322.26 154.25L322.67 152.67L322.7 152.59L323.14 151.07L323.31 150.49L323.58 149.58L323.94 148.28L323.99 148.05L324.35 146.38L324.42 146.06L324.59 144.32L324.58 143.89L324.42 141.79L324.3 140.56L324.19 139.69L323.88 137.6L323.56 135.81L323.5 135.53L323.07 133.46L322.57 131.41L322.2 130L322.02 129.36L321.42 127.33L320.77 125.32L320.08 123.31L319.93 122.9L319.34 121.32L318.56 119.34L317.74 117.37L316.88 115.42L316.7 115.01L315.97 113.49L315.01 111.58L314.02 109.68L313 107.79L312.03 106L311.98 105.91L310.95 104.01L309.95 102.09L309.43 101.04L308.99 100.11L308.1 98.07L308.1 98.07L306.88 96.27L305.66 94.46L304.47 92.61L304.29 92.3L303.38 90.66L302.97 89.72L303.08 88.75L303.21 87.83L303.21 87.8L303.3 86.82L303.39 85.84L303.5 84.88L303.53 84.44L303.44 83.76L303.23 82.49L302.96 81.81L302.06 80.28L301.72 79.8L300.3 77.95L299.4 76.76L298.89 76.07L297.83 74.37L297.53 74.11L295.77 72.6L293.97 71.12L292.16 69.68L291.42 69.1L291.29 69.94L291.16 70.78L291.14 70.98L291.14 71.7L291.18 72.67L291.23 73.66L291.28 74.45L291.35 74.7L291.98 76.18L292.24 76.81L292.9 77.92L293.41 78.85L294.06 79.91L294.59 80.85L295.17 81.91L295.63 82.96L295.84 83.54L296.17 84.87L296.32 85.39L296.61 86.33L297.01 87.76L297.01 87.76L297.95 89.78L297.97 89.81L298.91 91.84L298.93 91.88L299.84 93.85L299.95 94.1L300.76 95.84L301.1 96.52L301.71 97.78L302.74 99.62L302.86 99.79L303.93 101.33L305.15 103.01L306.36 104.69L307.54 106.4L308.7 108.11L309.83 109.85L310.93 111.61L311.99 113.39L313.01 115.19L313.97 117.03L314.87 118.9L315.69 120.8L316.03 121.64L316.43 122.74L317.07 124.71L317.63 126.71L317.67 126.85L318.11 128.74L318.5 130.71L318.52 130.78L318.84 132.84L318.98 133.98L319.08 134.91L319.24 136.9L319.25 136.99L319.35 139.08L319.36 139.59L319.36 141.17L319.35 142.05L319.3 143.25L319.25 144.4L319.2 145.33L319.05 146.53L318.92 147.43L318.71 148.19L318.26 149.5L318.22 149.6L317.74 150.57L317.19 151.5L316.97 151.84L316.61 152.34L316.02 153.1L315.39 153.77L314.85 154.19L314.74 154.29L314.1 154.85L313.45 155.42L312.8 155.98L312.15 156.55L312.14 156.56L311.54 157.34L310.93 158.15L310.59 158.63L310.35 159.25L309.9 160.52L309.82 160.77L309.29 162.35L309.28 162.37L308.73 163.98L308.65 164.18L308.15 165.58L307.99 165.98L307.53 167.1L307.23 167.75L306.89 168.49L306.36 169.49L306.22 169.76L305.53 170.94L305.36 171.21L304.83 172.09L304.29 172.89L304.11 173.23L303.38 174.53L303.38 174.53L302.75 176.14L302.62 176.5L302.17 177.74L301.8 178.82L301.63 179.32L301.13 180.88L300.88 181.73L300.66 182.44L300.21 183.98L299.77 185.52L299.73 185.66L299.35 187.05L298.93 188.58L298.52 190.09L298.11 191.61L297.81 192.74z M155.97 252.03L154.63 251.08L153.3 250.09L151.99 249.09L150.7 248.06L149.42 247.01L148.17 245.94L146.93 244.84L145.71 243.73L144.51 242.59L143.34 241.43L142.02 240.41L140.65 239.72L140.45 239.61L139.09 239.12L138.68 238.96L137.69 238.66L136.79 238.38L136.34 238.25L135.03 237.85L134.85 237.79L133.72 237.43L132.91 237.15L132.39 236.96L131.02 236.42L131.02 236.42L129.77 236.01L129 235.75L128.54 235.61L127.33 235.22L126.91 235.07L126.13 234.82L124.9 234.37L124.82 234.34L123.69 233.92L122.74 233.55L122.48 233.45L121.28 232.98L120.64 232.72L120.08 232.49L118.89 232L118.52 231.84L117.72 231.51L116.54 231.01L116.37 230.93L115.38 230.49L114.22 229.97L114.22 229.97L112.82 229.01L112.44 228.74L111.52 228.18L110.5 227.56L110.29 227.45L109.16 226.88L108.41 226.42L107.95 226.15L106.76 225.42L106.39 225.18L105.58 224.68L104.41 223.92L104.37 223.9L103.24 223.16L102.36 222.56L102.08 222.37L100.91 221.55L100.36 221.17L99.77 220.75L98.64 219.94L98.35 219.73L97.49 219.06L96.44 218.21L96.33 218.12L95.18 217.18L94.59 216.62L93.99 216.05L92.94 214.92L92.74 214.72L91.6 213.65L91.11 213.24L90.55 212.83L89.58 212.2L88.66 211.7L88.65 211.7L87.53 210.52L86.96 209.88L86.38 209.21L85.39 207.98L85.23 207.79L84.14 206.52L83.76 206.06L83.06 205.27L82.04 204.16L82.02 204.13L81.05 203.12L80.22 202.17L80.05 201.98L80.09 202.19L80.59 204.46L81.14 206.72L81.72 208.97L81.72 208.97L82.84 210.26L83.39 210.9L84 211.61L84.94 212.84L85.29 213.33L86.29 214.8L86.8 215.63L87.52 216.78L88.68 218.77L88.68 218.77L89.96 220.08L90.41 220.53L91.2 221.25L92.24 222.2L92.45 222.4L93.78 223.67L93.99 223.87L95.15 224.98L95.72 225.52L96.56 226.33L97.42 227.14L98.03 227.74L99.09 228.74L99.56 229.21L100.76 230.31L101.15 230.7L102.37 231.89L102.93 232.49L103.87 233.49L105.25 235.14L105.25 235.14L106.71 236.73L107.8 237.96L108.13 238.33L109.51 239.94L110.87 241.55L111.62 242.46L112.23 243.15L113.61 244.73L114.98 246.31L116.33 247.9L117.68 249.48L119.06 251.04L119.54 251.58L120.48 252.56L121.93 254.04L123.39 255.52L124.85 256.98L126.32 258.45L127.68 260.02L128.07 260.62L128.97 261.68L130.24 263.38L130.62 263.97L131.4 265.23L131.77 265.96L132.39 267.3L132.48 267.53L132.89 268.84L133.11 269.78L133.14 269.99L133.28 271.05L133.35 272.05L133.55 272.69L133.72 273.27L134.06 274.47L134.29 275.32L134.37 275.63L134.66 276.77L134.94 277.89L134.99 278.1L135.19 278.99L135.42 280.06L135.62 281.1L135.62 281.1L135.72 282.07L135.79 283.02L135.84 283.94L135.86 284.8L135.85 284.85L137.77 286.12L139.73 287.37L141.71 288.58L143.71 289.76L145.13 290.57L145.26 289.79L145.39 289.01L145.52 288.24L145.65 287.46L145.79 286.69L145.93 285.92L145.93 285.92L146.1 285.16L146.26 284.4L146.41 283.63L146.54 282.85L146.66 282.06L146.77 281.27L147.07 280.59L147.37 279.9L147.66 279.22L147.96 278.54L148.26 277.85L148.54 277.21L148.56 277.17L148.86 276.49L149.16 275.81L149.44 275.11L149.72 274.42L150.17 273.83L150.64 273.25L151.14 272.69L151.5 272.29L151.65 272.13L152.16 271.58L152.69 271.03L153.22 270.48L153.76 269.94L154.31 269.41L154.87 268.88L155.45 268.36L156.04 267.85L156.65 267.35L156.63 266.49L156.62 265.63L156.62 264.76L156.61 263.9L156.61 263.78L156.59 263.03L156.59 262.16L156.6 261.3L156.63 260.44L156.64 260.31L156.64 259.58L156.67 258.72L156.71 257.87L156.63 257.07L156.61 256.93L156.52 255.98L156.5 255.08L156.55 254.22L156.56 254.12L156.29 253.16z" clip-path="url(#p762479d433)" style="fill: #5ec962"/>
<path d="M305.92 196.62L305.4 198.25L304.92 199.9L304.53 201.56L304.2 203.26L304.14 203.66L303.92 204.97L303.64 206.69L303.32 208.41L303.32 208.41L302.93 210.11L302.55 211.82L302.27 213.11L302.17 213.55L301.81 215.3L301.57 216.54L301.46 217.07L301.11 218.85L301.02 219.42L300.77 220.66L300.64 221.79L300.57 222.56L300.53 223.57L300.53 224.58L300.51 225.13L300.5 226.64L300.5 226.64L300.23 228.56L300.23 228.6L299.88 230.54L299.88 230.54L299.1 232.23L298.22 233.87L297.43 235.58L297.43 235.58L297.45 236.84L297.47 237.91L297.51 238.02L297.76 238.94L297.99 239.87L298.19 240.8L298.2 240.82L298.41 241.76L298.6 242.73L298.76 243.69L298.76 243.73L298.84 244.82L298.87 245.97L298.88 246.31L298.75 247.29L298.58 248.65L298.58 248.65L298.46 249.94L298.32 251.1L298.28 251.27L297.88 252.84L297.75 253.32L297.33 254.55L297.01 255.44L296.7 256.31L296.23 257.57L296.11 258L295.64 259.52L295.6 259.89L295.61 260.6L295.72 261.53L295.85 262.44L295.98 263.31L295.98 263.34L296.16 264.19L296.35 265.04L296.54 265.87L296.73 266.71L296.92 267.48L296.93 267.53L297.15 268.33L297.36 269.15L297.5 270.02L297.62 270.91L297.7 271.67L297.72 271.82L297.76 272.77L297.77 273.75L297.74 274.76L299.27 273.41L300.98 271.84L302.67 270.24L304.32 268.61L305.95 266.96L307.55 265.27L309.12 263.56L310.66 261.82L310.82 261.63L310.72 260.62L310.6 259.62L310.47 258.63L310.47 258.63L310.46 257.48L310.42 256.37L310.37 255.61L310.34 255.3L310.19 254.3L310.01 253.34L309.79 252.42L309.76 252.28L309.53 251.55L309.22 250.75L308.87 249.98L308.5 249.25L308.11 248.55L307.84 248.07L307.71 247.85L307.3 247.16L307.02 246.3L306.72 245.46L306.41 244.64L306.27 244.3L306.13 243.76L305.85 242.88L305.58 241.99L305.31 241.09L305.31 241.09L305.58 239.39L305.64 238.88L305.82 237.71L305.92 236.66L306 236.09L306.15 234.46L306.15 234.46L306.73 232.5L306.83 231.92L306.91 230.34L306.91 230.34L307.15 228.4L307.16 228.25L307.2 226.77L307.18 226.07L307.16 225.28L307.03 223.91L307.02 223.84L307.1 222.12L307.15 221.8L307.7 219.97L308.21 218.15L308.3 217.79L308.7 216.32L309.18 214.5L309.68 212.7L310.27 210.93L310.92 209.2L311.61 207.46L312.3 205.73L312.98 203.99L313.64 202.23L314.11 200.98L314.3 200.47L315.01 198.72L315.75 196.96L315.86 196.73L316.53 195.19L317.19 193.72L317.33 193.41L318.15 191.62L318.37 191.16L318.99 189.81L319.45 188.84L319.84 187.99L320.45 186.68L320.7 186.14L321.4 184.6L321.55 184.27L322.31 182.59L322.41 182.37L323.17 180.65L323.26 180.45L324 178.76L324.11 178.5L324.79 176.76L324.88 176.53L325.56 174.53L325.56 174.53L325.95 172.51L326.23 170.7L326.26 170.48L326.52 168.43L326.73 166.38L326.74 166.28L326.91 164.32L327.06 162.25L327.09 161.89L327.21 160.17L327.35 158.07L327.35 158.01L327.51 155.95L327.64 155.03L327.81 153.8L328 152.79L328.17 151.6L328.32 150.54L328.42 149.41L328.49 147.81L328.49 147.23L328.41 145.06L328.31 143.92L328.25 142.91L328.03 140.75L327.86 139.56L327.72 138.61L327.33 136.48L326.85 134.37L326.51 133.05L326.3 132.29L325.68 130.21L325.01 128.16L324.28 126.12L323.51 124.09L322.7 122.08L321.87 120.12L321.86 120.09L321.01 118.09L320.13 116.1L319.22 114.12L318.28 112.15L317.3 110.2L317.15 109.9L316.33 108.24L315.28 106.31L314.17 104.42L313.01 102.57L311.8 100.74L310.55 98.94L309.26 97.16L309.26 97.16L308.39 95.05L308.35 94.83L308.15 93.42L308.03 92.47L308.04 92.14L308.09 91.05L308.45 90.33L308.78 89.59L309.09 88.81L309.13 88.56L309.24 87.86L309.03 86.5L308.83 85.75L308.53 84.85L307.55 83.78L305.95 82.1L304.32 80.44L302.67 78.82L300.98 77.22L299.27 75.65L297.83 74.37L298.89 76.07L299.4 76.76L300.3 77.95L301.72 79.8L302.06 80.28L302.96 81.81L303.23 82.49L303.44 83.76L303.53 84.44L303.5 84.88L303.39 85.84L303.3 86.82L303.21 87.8L303.21 87.83L303.08 88.75L302.97 89.72L303.38 90.66L304.29 92.3L304.47 92.61L305.66 94.46L306.88 96.27L308.1 98.07L308.1 98.07L308.99 100.11L309.43 101.04L309.95 102.09L310.95 104.01L311.98 105.91L312.03 106L313 107.79L314.02 109.68L315.01 111.58L315.97 113.49L316.7 115.01L316.88 115.42L317.74 117.37L318.56 119.34L319.34 121.32L319.93 122.9L320.08 123.31L320.77 125.32L321.42 127.33L322.02 129.36L322.2 130L322.57 131.41L323.07 133.46L323.5 135.53L323.56 135.81L323.88 137.6L324.19 139.69L324.3 140.56L324.42 141.79L324.58 143.89L324.59 144.32L324.42 146.06L324.35 146.38L323.99 148.05L323.94 148.28L323.58 149.58L323.31 150.49L323.14 151.07L322.7 152.59L322.67 152.67L322.26 154.25L322.1 154.8L321.83 156.12L321.54 156.9L321.32 157.65L320.76 158.89L320.7 159L320.19 160.21L319.81 161.07L319.62 161.57L319.04 163.04L319.01 163.1L318.45 164.67L318.31 165.07L317.86 166.46L317.68 167.02L317.25 168.44L317.1 168.93L316.61 170.6L316.55 170.82L315.97 172.68L315.93 172.8L315.38 174.53L315.21 175.02L314.79 176.35L314.43 177.42L314.17 178.16L313.6 179.65L313.49 179.94L312.78 181.7L312.73 181.82L312.03 183.43L311.82 183.93L311.26 185.15L310.86 186.01L310.43 186.83L309.88 187.91L309.54 188.48L308.87 189.74L308.67 190.12L307.88 191.74L307.72 192.09L307.16 193.37L306.51 194.99L306.23 195.77z M127.68 260.02L126.32 258.45L124.85 256.98L123.39 255.52L121.93 254.04L120.48 252.56L119.54 251.58L119.06 251.04L117.68 249.48L116.33 247.9L114.98 246.31L113.61 244.73L112.23 243.15L111.62 242.46L110.87 241.55L109.51 239.94L108.13 238.33L107.8 237.96L106.71 236.73L105.25 235.14L105.25 235.14L103.87 233.49L102.93 232.49L102.37 231.89L101.15 230.7L100.76 230.31L99.56 229.21L99.09 228.74L98.03 227.74L97.42 227.14L96.56 226.33L95.72 225.52L95.15 224.98L93.99 223.87L93.78 223.67L92.45 222.4L92.24 222.2L91.2 221.25L90.41 220.53L89.96 220.08L88.68 218.77L88.68 218.77L87.52 216.78L86.8 215.63L86.29 214.8L85.29 213.33L84.94 212.84L84 211.61L83.39 210.9L82.84 210.26L81.72 208.97L82.34 211.2L83 213.43L83.7 215.64L84.18 217.1L84.76 217.73L85.58 218.89L86.08 219.72L87.18 221.77L88 223.2L88.32 223.79L89.5 225.78L90.61 227.51L90.76 227.73L92.09 229.62L92.86 230.63L93.53 231.45L94.86 233.01L95.07 233.21L96.62 234.81L96.71 234.89L98.19 236.64L99.49 238.47L99.49 238.47L100.68 240.36L101.9 242.23L103.15 244.07L104.43 245.9L105.73 247.7L107.06 249.49L108.41 251.26L109.77 253.02L111.14 254.78L112.5 256.54L113.86 258.31L115.22 260.08L115.37 260.28L116.59 261.86L117.98 263.62L119.4 265.37L120 266.18L120.77 267.18L122.02 269.13L122.03 269.14L123.1 271.14L123.16 271.24L123.87 272.81L124.19 273.52L124.49 274.32L124.99 275.72L125.09 276L125.38 277.01L126.51 277.93L128.32 279.38L130.16 280.79L132.03 282.17L133.92 283.52L135.84 284.84L135.85 284.85L135.86 284.8L135.84 283.94L135.79 283.02L135.72 282.07L135.62 281.1L135.62 281.1L135.42 280.06L135.19 278.99L134.99 278.1L134.94 277.89L134.66 276.77L134.37 275.63L134.29 275.32L134.06 274.47L133.72 273.27L133.55 272.69L133.35 272.05L133.28 271.05L133.14 269.99L133.11 269.78L132.89 268.84L132.48 267.53L132.39 267.3L131.77 265.96L131.4 265.23L130.62 263.97L130.24 263.38L128.97 261.68L128.07 260.62z" clip-path="url(#p762479d433)" style="fill: #9bd93c"/>
<path d="M313.64 202.23L312.98 203.99L312.3 205.73L311.61 207.46L310.92 209.2L310.27 210.93L309.68 212.7L309.18 214.5L308.7 216.32L308.3 217.79L308.21 218.15L307.7 219.97L307.15 221.8L307.1 222.12L307.02 223.84L307.03 223.91L307.16 225.28L307.18 226.07L307.2 226.77L307.16 228.25L307.15 228.4L306.91 230.34L306.91 230.34L306.83 231.92L306.73 232.5L306.15 234.46L306.15 234.46L306 236.09L305.92 236.66L305.82 237.71L305.64 238.88L305.58 239.39L305.31 241.09L305.31 241.09L305.58 241.99L305.85 242.88L306.13 243.76L306.27 244.3L306.41 244.64L306.72 245.46L307.02 246.3L307.3 247.16L307.71 247.85L307.84 248.07L308.11 248.55L308.5 249.25L308.87 249.98L309.22 250.75L309.53 251.55L309.76 252.28L309.79 252.42L310.01 253.34L310.19 254.3L310.34 255.3L310.37 255.61L310.42 256.37L310.46 257.48L310.47 258.63L310.47 258.63L310.6 259.62L310.72 260.62L310.82 261.63L312.17 260.05L313.64 258.26L315.09 256.45L316.5 254.6L317.88 252.74L319.23 250.85L320.55 248.93L321.83 247L323.08 245.04L324.29 243.06L325.47 241.06L325.47 241.06L325.47 241.06L324.6 241.08L323.79 241.01L323.01 240.87L322.25 240.7L321.68 240.22L321.1 239.74L320.53 239.26L319.95 238.78L319.38 238.3L318.9 237.66L318.43 236.99L318.43 236.99L318.31 235.71L318.17 234.45L318.15 234.35L318.01 233.2L317.81 232.02L317.74 231.68L317.6 230.83L317.35 229.7L317.16 229.01L317.14 228.51L317.01 227.1L317.02 226.61L317.51 224.55L317.62 224.11L318 222.51L318.45 220.46L318.47 220.35L318.89 218.43L319.38 216.42L319.99 214.47L320.68 212.56L321.36 210.63L322.02 208.7L322.65 206.76L323.25 204.81L323.87 202.86L324.57 200.92L325.03 199.77L325.35 199L326.21 197.07L326.44 196.58L327.08 195.13L327.69 193.75L327.93 193.17L328.73 191.18L328.88 190.8L329.48 189.17L330.02 187.56L330.16 187.13L330.77 185.07L331.12 183.77L331.31 182.99L331.78 180.9L332.12 179.15L332.19 178.79L332.54 176.66L332.83 174.53L332.94 173.51L333.09 172.38L333.33 170.23L333.52 168.22L333.54 168.07L333.7 165.89L333.82 163.72L333.86 162.72L333.9 161.53L333.94 159.34L333.95 157.14L333.95 157.13L334.02 154.92L334.1 153.34L334.16 152.68L334.35 150.56L334.36 150.4L334.38 148.14L334.31 146.76L334.25 145.9L334 143.67L333.65 141.46L333.41 140.12L333.26 139.25L332.83 137.05L332.34 134.85L331.8 132.67L331.6 131.94L331.2 130.5L330.55 128.34L329.86 126.2L329.11 124.07L328.33 121.95L327.71 120.35L327.51 119.85L326.65 117.75L325.76 115.67L324.84 113.59L323.89 111.53L322.91 109.48L322.91 109.48L321.92 107.43L320.92 105.37L319.93 103.29L319.8 103.01L318.99 101.17L318.39 99.59L318.17 98.95L317.75 97.4L317.58 96.54L317.47 95.75L316.5 94.45L315.09 92.61L313.64 90.79L312.17 89L310.66 87.24L309.12 85.5L308.53 84.85L308.83 85.75L309.03 86.5L309.24 87.86L309.13 88.56L309.09 88.81L308.78 89.59L308.45 90.33L308.09 91.05L308.04 92.14L308.03 92.47L308.15 93.42L308.35 94.83L308.39 95.05L309.26 97.16L309.26 97.16L310.55 98.94L311.8 100.74L313.01 102.57L314.17 104.42L315.28 106.31L316.33 108.24L317.15 109.9L317.3 110.2L318.28 112.15L319.22 114.12L320.13 116.1L321.01 118.09L321.86 120.09L321.87 120.12L322.7 122.08L323.51 124.09L324.28 126.12L325.01 128.16L325.68 130.21L326.3 132.29L326.51 133.05L326.85 134.37L327.33 136.48L327.72 138.61L327.86 139.56L328.03 140.75L328.25 142.91L328.31 143.92L328.41 145.06L328.49 147.23L328.49 147.81L328.42 149.41L328.32 150.54L328.17 151.6L328 152.79L327.81 153.8L327.64 155.03L327.51 155.95L327.35 158.01L327.35 158.07L327.21 160.17L327.09 161.89L327.06 162.25L326.91 164.32L326.74 166.28L326.73 166.38L326.52 168.43L326.26 170.48L326.23 170.7L325.95 172.51L325.56 174.53L325.56 174.53L324.88 176.53L324.79 176.76L324.11 178.5L324 178.76L323.26 180.45L323.17 180.65L322.41 182.37L322.31 182.59L321.55 184.27L321.4 184.6L320.7 186.14L320.45 186.68L319.84 187.99L319.45 188.84L318.99 189.81L318.37 191.16L318.15 191.62L317.33 193.41L317.19 193.72L316.53 195.19L315.86 196.73L315.75 196.96L315.01 198.72L314.3 200.47L314.11 200.98z M115.22 260.08L113.86 258.31L112.5 256.54L111.14 254.78L109.77 253.02L108.41 251.26L107.06 249.49L105.73 247.7L104.43 245.9L103.15 244.07L101.9 242.23L100.68 240.36L99.49 238.47L99.49 238.47L98.19 236.64L96.71 234.89L96.62 234.81L95.07 233.21L94.86 233.01L93.53 231.45L92.86 230.63L92.09 229.62L90.76 227.73L90.61 227.51L89.5 225.78L88.32 223.79L88 223.2L87.18 221.77L86.08 219.72L85.58 218.89L84.76 217.73L84.18 217.1L84.43 217.85L85.21 220.04L86.02 222.21L86.87 224.37L87.76 226.52L88.69 228.65L89.65 230.76L90.65 232.86L91.69 234.93L92.76 236.99L93.87 239.03L95.01 241.06L96.19 243.06L97.4 245.04L98.65 247L99.93 248.93L101.25 250.85L102.6 252.74L103.98 254.6L105.39 256.45L106.84 258.26L108.31 260.05L109.82 261.82L111.36 263.56L112.93 265.27L114.53 266.96L116.16 268.61L117.81 270.24L119.5 271.84L121.21 273.41L122.95 274.95L124.71 276.45L125.38 277.01L125.09 276L124.99 275.72L124.49 274.32L124.19 273.52L123.87 272.81L123.16 271.24L123.1 271.14L122.03 269.14L122.02 269.13L120.77 267.18L120 266.18L119.4 265.37L117.98 263.62L116.59 261.86L115.37 260.28z" clip-path="url(#p762479d433)" style="fill: #dfe318"/>
</g>
<g id="matplotlib.axis_1">
<g id="xtick_1">
<g id="line2d_1">
<path d="M210.6 174.53L210.6 41.47" clip-path="url(#p762479d433)" style="fill: none; stroke: #b0b0b0; stroke-width: 0.8; stroke-linecap: square"/>
</g>
<g id="text_1">
<text style="font-size: 10px; font-family: 'DejaVu Sans', sans-serif; text-anchor: middle" x="210.24" y="30.231375" transform="rotate(-0 210.24 30.231375)">0°</text>
</g>
</g>
<g id="xtick_2">
<g id="line2d_2">
<path d="M210.24 174.53L304.32 80.44" clip-path="url(#p762479d433)" style="fill: none; stroke: #b0b0b0; stroke-width: 0.8; stroke-linecap: square"/>
</g>
<g id="text_2">
<text style="font-size: 10px; font-family: 'DejaVu Sans', sans-serif; text-anchor: middle" x="314.224295" y="73.30308" transform="rotate(-0 314.224295 73.30308)">45°</text>
</g>
</g>
<g id="xtick_3">
<g id="line2d_3">
<path d="M210.24 174.6L343.3 174.6" clip-path="url(#p762479d433)" style="fill: none; stroke: #b0b0b0; stroke-width: 0.8; stroke-linecap: square"/>
</g>
<g id="text_3">
<text style="font-size: 10px; font-family: 'DejaVu Sans', sans-serif; text-anchor: middle" x="357.296" y="177.287375" transform="rotate(-0 357.296 177.287375)">90°</text>
</g>
</g>
<g id="xtick_4">
<g id="line2d_4">
<path d="M210.24 174.53L304.32 268.61" clip-path="url(#p762479d433)" style="fill: none; stroke: #b0b0b0; stroke-width: 0.8; stroke-linecap: square"/>
</g>
<g id="text_4">
<text style="font-size: 10px; font-family: 'DejaVu Sans', sans-serif; text-anchor: middle" x="314.224295" y="281.27167" transform="rotate(-0 314.224295 281.27167)">135°</text>
</g>
</g>
<g id="xtick_5">
<g id="line2d_5">
<path d="M210.6 174.53L210.6 307.58" clip-path="url(#p762479d433)" style="fill: none; stroke: #b0b0b0; stroke-width: 0.8; stroke-linecap: square"/>
</g>
<g id="text_5">
<text style="font-size: 10px; font-family: 'DejaVu Sans', sans-serif; text-anchor: middle" x="210.24" y="324.343375" transform="rotate(-0 210.24 324.343375)">180°</text>
</g>
</g>
<g id="xtick_6">
<g id="line2d_6">
<path d="M210.24 174.53L116.16 268.61" clip-path="url(#p762479d433)" style="fill: none; stroke: #b0b0b0; stroke-width: 0.8; stroke-linecap: square"/>
</g>
<g id="text_6">
<text style="font-size: 10px; font-family: 'DejaVu Sans', sans-serif; text-anchor: middle" x="106.255705" y="281.27167" transform="rotate(-0 106.255705 281.27167)">225°</text>
</g>
</g>
<g id="xtick_7">
<g id="line2d_7">
<path d="M210.24 174.6L77.18 174.6" clip-path="url(#p762479d433)" style="fill: none; stroke: #b0b0b0; stroke-width: 0.8; stroke-linecap: square"/>
</g>
<g id="text_7">
<text style="font-size: 10px; font-family: 'DejaVu Sans', sans-serif; text-anchor: middle" x="63.184" y="177.287375" transform="rotate(-0 63.184 177.287375)">270°</text>
</g>
</g>
<g id="xtick_8">
<g id="line2d_8">
<path d="M210.24 174.53L116.16 80.44" clip-path="url(#p762479d433)" style="fill: none; stroke: #b0b0b0; stroke-width: 0.8; stroke-linecap: square"/>
</g>
<g id="text_8">
<text style="font-size: 10px; font-family: 'DejaVu Sans', sans-serif; text-anchor: middle" x="106.255705" y="73.30308" transform="rotate(-0 106.255705 73.30308)">315°</text>
</g>
</g>
</g>
<g id="matplotlib.axis_2">
<g id="ytick_1">
<g id="line2d_9">
<path d="M210.24 159.74C212.18 159.74 214.1 160.13 215.9 160.87C217.69 161.61 219.32 162.7 220.69 164.07C222.07 165.45 223.16 167.08 223.9 168.87C224.64 170.66 225.02 172.59 225.02 174.53C225.02 176.47 224.64 178.39 223.9 180.19C223.16 181.98 222.07 183.61 220.69 184.98C219.32 186.35 217.69 187.44 215.9 188.19C214.1 188.93 212.18 189.31 210.24 189.31C208.3 189.31 206.38 188.93 204.58 188.19C202.79 187.44 201.16 186.35 199.79 184.98C198.41 183.61 197.32 181.98 196.58 180.19C195.84 178.39 195.46 176.47 195.46 174.53C195.46 172.59 195.84 170.66 196.58 168.87C197.32 167.08 198.41 165.45 199.79 164.07C201.16 162.7 202.79 161.61 204.58 160.87C206.38 160.13 208.3 159.74 210.24 159.74" clip-path="url(#p762479d433)" style="fill: none; stroke: #b0b0b0; stroke-width: 0.8; stroke-linecap: square"/>
</g>
<g id="text_9">
<text style="font-size: 10px; font-family: 'DejaVu Sans', sans-serif; text-anchor: start" x="215.897592" y="158.789677" transform="rotate(-0 215.897592 158.789677)">10</text>
</g>
</g>
<g id="ytick_2">
<g id="line2d_10">
<path d="M210.24 144.96C214.12 144.96 217.97 145.72 221.56 147.21C225.14 148.7 228.4 150.87 231.15 153.62C233.89 156.37 236.07 159.63 237.56 163.21C239.04 166.8 239.81 170.65 239.81 174.53C239.81 178.41 239.04 182.26 237.56 185.84C236.07 189.43 233.89 192.69 231.15 195.44C228.4 198.18 225.14 200.36 221.56 201.85C217.97 203.33 214.12 204.1 210.24 204.1C206.36 204.1 202.51 203.33 198.92 201.85C195.34 200.36 192.08 198.18 189.33 195.44C186.59 192.69 184.41 189.43 182.92 185.84C181.44 182.26 180.67 178.41 180.67 174.53C180.67 170.65 181.44 166.8 182.92 163.21C184.41 159.63 186.59 156.37 189.33 153.62C192.08 150.87 195.34 148.7 198.92 147.21C202.51 145.72 206.36 144.96 210.24 144.96" clip-path="url(#p762479d433)" style="fill: none; stroke: #b0b0b0; stroke-width: 0.8; stroke-linecap: square"/>
</g>
<g id="text_10">
<text style="font-size: 10px; font-family: 'DejaVu Sans', sans-serif; text-anchor: start" x="221.555184" y="145.131042" transform="rotate(-0 221.555184 145.131042)">20</text>
</g>
</g>
<g id="ytick_3">
<g id="line2d_11">
<path d="M210.24 130.18C216.06 130.18 221.83 131.32 227.21 133.55C232.59 135.78 237.48 139.05 241.6 143.17C245.72 147.28 248.99 152.17 251.22 157.56C253.44 162.94 254.59 168.7 254.59 174.53C254.59 180.35 253.44 186.12 251.22 191.5C248.99 196.88 245.72 201.77 241.6 205.89C237.48 210.01 232.59 213.28 227.21 215.5C221.83 217.73 216.06 218.88 210.24 218.88C204.42 218.88 198.65 217.73 193.27 215.5C187.89 213.28 183 210.01 178.88 205.89C174.76 201.77 171.49 196.88 169.26 191.5C167.04 186.12 165.89 180.35 165.89 174.53C165.89 168.7 167.04 162.94 169.26 157.56C171.49 152.17 174.76 147.28 178.88 143.17C183 139.05 187.89 135.78 193.27 133.55C198.65 131.32 204.42 130.18 210.24 130.18" clip-path="url(#p762479d433)" style="fill: none; stroke: #b0b0b0; stroke-width: 0.8; stroke-linecap: square"/>
</g>
<g id="text_11">
<text style="font-size: 10px; font-family: 'DejaVu Sans', sans-serif; text-anchor: start" x="227.212776" y="131.472407" transform="rotate(-0 227.212776 131.472407)">30</text>
</g>
</g>
<g id="ytick_4">
<g id="line2d_12">
<path d="M210.24 115.39C218.01 115.39 225.7 116.92 232.87 119.89C240.04 122.87 246.56 127.22 252.06 132.71C257.55 138.2 261.9 144.72 264.87 151.9C267.85 159.07 269.38 166.76 269.38 174.53C269.38 182.29 267.85 189.98 264.87 197.16C261.9 204.33 257.55 210.85 252.06 216.34C246.56 221.83 240.04 226.19 232.87 229.16C225.7 232.13 218.01 233.66 210.24 233.66C202.47 233.66 194.78 232.13 187.61 229.16C180.44 226.19 173.92 221.83 168.42 216.34C162.93 210.85 158.58 204.33 155.61 197.16C152.63 189.98 151.1 182.29 151.1 174.53C151.1 166.76 152.63 159.07 155.61 151.9C158.58 144.72 162.93 138.2 168.42 132.71C173.92 127.22 180.44 122.87 187.61 119.89C194.78 116.92 202.47 115.39 210.24 115.39" clip-path="url(#p762479d433)" style="fill: none; stroke: #b0b0b0; stroke-width: 0.8; stroke-linecap: square"/>
</g>
<g id="text_12">
<text style="font-size: 10px; font-family: 'DejaVu Sans', sans-serif; text-anchor: start" x="232.870367" y="117.813772" transform="rotate(-0 232.870367 117.813772)">40</text>
</g>
</g>
<g id="ytick_5">
<g id="line2d_13">
<path d="M210.24 100.61C219.95 100.61 229.56 102.52 238.53 106.23C247.5 109.95 255.65 115.39 262.51 122.26C269.37 129.12 274.82 137.27 278.53 146.24C282.25 155.21 284.16 164.82 284.16 174.53C284.16 184.24 282.25 193.85 278.53 202.82C274.82 211.78 269.37 219.93 262.51 226.8C255.65 233.66 247.5 239.11 238.53 242.82C229.56 246.54 219.95 248.45 210.24 248.45C200.53 248.45 190.92 246.54 181.95 242.82C172.98 239.11 164.83 233.66 157.97 226.8C151.11 219.93 145.66 211.78 141.95 202.82C138.23 193.85 136.32 184.24 136.32 174.53C136.32 164.82 138.23 155.21 141.95 146.24C145.66 137.27 151.11 129.12 157.97 122.26C164.83 115.39 172.98 109.95 181.95 106.23C190.92 102.52 200.53 100.61 210.24 100.61" clip-path="url(#p762479d433)" style="fill: none; stroke: #b0b0b0; stroke-width: 0.8; stroke-linecap: square"/>
</g>
<g id="text_13">
<text style="font-size: 10px; font-family: 'DejaVu Sans', sans-serif; text-anchor: start" x="238.527959" y="104.155137" transform="rotate(-0 238.527959 104.155137)">50</text>
</g>
</g>
<g id="ytick_6">
<g id="line2d_14">
<path d="M210.24 85.82C221.89 85.82 233.42 88.12 244.19 92.58C254.95 97.03 264.73 103.57 272.96 111.8C281.2 120.04 287.73 129.82 292.19 140.58C296.65 151.34 298.94 162.88 298.94 174.53C298.94 186.18 296.65 197.71 292.19 208.47C287.73 219.24 281.2 229.01 272.96 237.25C264.73 245.49 254.95 252.02 244.19 256.48C233.42 260.94 221.89 263.23 210.24 263.23C198.59 263.23 187.06 260.94 176.29 256.48C165.53 252.02 155.75 245.49 147.52 237.25C139.28 229.01 132.75 219.24 128.29 208.47C123.83 197.71 121.54 186.18 121.54 174.53C121.54 162.88 123.83 151.34 128.29 140.58C132.75 129.82 139.28 120.04 147.52 111.8C155.75 103.57 165.53 97.03 176.29 92.58C187.06 88.12 198.59 85.82 210.24 85.82" clip-path="url(#p762479d433)" style="fill: none; stroke: #b0b0b0; stroke-width: 0.8; stroke-linecap: square"/>
</g>
<g id="text_14">
<text style="font-size: 10px; font-family: 'DejaVu Sans', sans-serif; text-anchor: start" x="244.185551" y="90.496502" transform="rotate(-0 244.185551 90.496502)">60</text>
</g>
</g>
<g id="ytick_7">
<g id="line2d_15">
<path d="M210.24 71.04C223.83 71.04 237.29 73.72 249.84 78.92C262.4 84.12 273.81 91.74 283.42 101.35C293.03 110.96 300.65 122.37 305.85 134.92C311.05 147.48 313.73 160.94 313.73 174.53C313.73 188.12 311.05 201.58 305.85 214.13C300.65 226.69 293.03 238.1 283.42 247.71C273.81 257.31 262.4 264.94 249.84 270.14C237.29 275.34 223.83 278.02 210.24 278.02C196.65 278.02 183.19 275.34 170.64 270.14C158.08 264.94 146.67 257.31 137.06 247.71C127.45 238.1 119.83 226.69 114.63 214.13C109.43 201.58 106.75 188.12 106.75 174.53C106.75 160.94 109.43 147.48 114.63 134.92C119.83 122.37 127.45 110.96 137.06 101.35C146.67 91.74 158.08 84.12 170.64 78.92C183.19 73.72 196.65 71.04 210.24 71.04" clip-path="url(#p762479d433)" style="fill: none; stroke: #b0b0b0; stroke-width: 0.8; stroke-linecap: square"/>
</g>
<g id="text_15">
<text style="font-size: 10px; font-family: 'DejaVu Sans', sans-serif; text-anchor: start" x="249.843143" y="76.837867" transform="rotate(-0 249.843143 76.837867)">70</text>
</g>
</g>
<g id="ytick_8">
<g id="line2d_16">
<path d="M210.24 56.26C225.77 56.26 241.15 59.32 255.5 65.26C269.85 71.2 282.89 79.91 293.87 90.9C304.85 101.88 313.57 114.92 319.51 129.27C325.45 143.62 328.51 159 328.51 174.53C328.51 190.06 325.45 205.44 319.51 219.79C313.57 234.14 304.85 247.18 293.87 258.16C282.89 269.14 269.85 277.85 255.5 283.8C241.15 289.74 225.77 292.8 210.24 292.8C194.71 292.8 179.33 289.74 164.98 283.8C150.63 277.85 137.59 269.14 126.61 258.16C115.63 247.18 106.91 234.14 100.97 219.79C95.03 205.44 91.97 190.06 91.97 174.53C91.97 159 95.03 143.62 100.97 129.27C106.91 114.92 115.63 101.88 126.61 90.9C137.59 79.91 150.63 71.2 164.98 65.26C179.33 59.32 194.71 56.26 210.24 56.26" clip-path="url(#p762479d433)" style="fill: none; stroke: #b0b0b0; stroke-width: 0.8; stroke-linecap: square"/>
</g>
<g id="text_16">
<text style="font-size: 10px; font-family: 'DejaVu Sans', sans-serif; text-anchor: start" x="255.500735" y="63.179232" transform="rotate(-0 255.500735 63.179232)">80</text>
</g>
</g>
<g id="ytick_9">
<g id="line2d_17">
<path d="M210.24 41.47C227.71 41.47 245.02 44.91 261.16 51.6C277.3 58.29 291.97 68.09 304.32 80.44C316.68 92.8 326.48 107.47 333.17 123.61C339.85 139.75 343.3 157.06 343.3 174.53C343.3 192 339.85 209.3 333.17 225.45C326.48 241.59 316.68 256.26 304.32 268.61C291.97 280.97 277.3 290.77 261.16 297.46C245.02 304.14 227.71 307.58 210.24 307.58C192.77 307.58 175.46 304.14 159.32 297.46C143.18 290.77 128.51 280.97 116.16 268.61C103.8 256.26 94 241.59 87.31 225.45C80.63 209.3 77.18 192 77.18 174.53C77.18 157.06 80.63 139.75 87.31 123.61C94 107.47 103.8 92.8 116.16 80.44C128.51 68.09 143.18 58.29 159.32 51.6C175.46 44.91 192.77 41.47 210.24 41.47" clip-path="url(#p762479d433)" style="fill: none; stroke: #b0b0b0; stroke-width: 0.8; stroke-linecap: square"/>
</g>
<g id="text_17">
<text style="font-size: 10px; font-family: 'DejaVu Sans', sans-serif; text-anchor: start" x="261.158327" y="49.520597" transform="rotate(-0 261.158327 49.520597)">90</text>
</g>
</g>
</g>
<g id="patch_3">
<path d="M210.24 41.47C192.77 41.47 175.46 44.91 159.32 51.6C143.18 58.29 128.51 68.09 116.16 80.44C103.8 92.8 94 107.47 87.31 123.61C80.63 139.75 77.18 157.06 77.18 174.53C77.18 192 80.63 209.3 87.31 225.45C94 241.59 103.8 256.26 116.16 268.61C128.51 280.97 143.18 290.77 159.32 297.46C175.46 304.14 192.77 307.58 210.24 307.58C227.71 307.58 245.02 304.14 261.16 297.46C277.3 290.77 291.97 280.97 304.32 268.61C316.68 256.26 326.48 241.59 333.17 225.45C339.85 209.3 343.3 192 343.3 174.53C343.3 157.06 339.85 139.75 333.17 123.61C326.48 107.47 316.68 92.8 304.32 80.44C291.97 68.09 277.3 58.29 261.16 51.6C245.02 44.91 227.71 41.47 210.24 41.47" style="fill: none; stroke: #000000; stroke-width: 0.8; stroke-linejoin: miter; stroke-linecap: square"/>
</g>
<g id="text_18">
<text style="font-size: 12px; font-family: 'DejaVu Sans', sans-serif; text-anchor: middle" x="210.24" y="16.632938" transform="rotate(-0 210.24 16.632938)">Delta Antenna Phase Biases: TRMR980         NONE BeiDOU-E6</text>
</g>
</g>
<g id="axes_2">
<g id="patch_4">
<path d="M361.15 307.58L374.46 307.58L374.46 41.47L361.15 41.47z" style="fill: #ffffff"/>
</g>
<g id="QuadMesh_1">
<path d="M361.15 307.58L374.46 307.58L374.46 280.97L361.15 280.97L361.15 307.58" clip-path="url(#pac5b2e091e)" style="fill: #471365"/>
<path d="M361.15 280.97L374.46 280.97L374.46 254.36L361.15 254.36L361.15 280.97" clip-path="url(#pac5b2e091e)" style="fill: #463480"/>
<path d="M361.15 254.36L374.46 254.36L374.46 227.75L361.15 227.75L361.15 254.36" clip-path="url(#pac5b2e091e)" style="fill: #3b528b"/>
<path d="M361.15 227.75L374.46 227.75L374.46 201.14L361.15 201.14L361.15 227.75" clip-path="url(#pac5b2e091e)" style="fill: #2f6c8e"/>
<path d="M361.15 201.14L374.46 201.14L374.46 174.53L361.15 174.53L361.15 201.14" clip-path="url(#pac5b2e091e)" style="fill: #25848e"/>
<path d="M361.15 174.53L374.46 174.53L374.46 147.92L361.15 147.92L361.15 174.53" clip-path="url(#pac5b2e091e)" style="fill: #1e9c89"/>
<path d="M361.15 147.92L374.46 147.92L374.46 121.31L361.15 121.31L361.15 147.92" clip-path="url(#pac5b2e091e)" style="fill: #2fb47c"/>
<path d="M361.15 121.31L374.46 121.31L374.46 94.69L361.15 94.69L361.15 121.31" clip-path="url(#pac5b2e091e)" style="fill: #5ec962"/>
<path d="M361.15 94.69L374.46 94.69L374.46 68.08L361.15 68.08L361.15 94.69" clip-path="url(#pac5b2e091e)" style="fill: #9bd93c"/>
<path d="M361.15 68.08L374.46 68.08L374.46 41.47L361.15 41.47L361.15 68.08" clip-path="url(#pac5b2e091e)" style="fill: #dfe318"/>
</g>
<g id="matplotlib.axis_3"/>
<g id="matplotlib.axis_4">
<g id="ytick_10">
<g id="line2d_18">
<defs>
<path id="m2f7503665f" d="M0 0.36L3.5 0.36" style="stroke: #000000; stroke-width: 0.8"/>
</defs>
<g>
<use href="#m2f7503665f" x="374.4576" y="281.1600" style="stroke: #000000; stroke-width: 0.8"/>
</g>
</g>
<g id="text_19">
<text style="font-size: 10px; font-family: 'DejaVu Sans', sans-serif; text-anchor: start" x="381.4576" y="284.772019" transform="rotate(-0 381.4576 284.772019)">−4</text>
</g>
</g>
<g id="ytick_11">
<g id="line2d_19">
<g>
<use href="#m2f7503665f" x="374.4576" y="227.8800" style="stroke: #000000; stroke-width: 0.8"/>
</g>
</g>
<g id="text_20">
<text style="font-size: 10px; font-family: 'DejaVu Sans', sans-serif; text-anchor: start" x="381.4576" y="231.549619" transform="rotate(-0 381.4576 231.549619)">−2</text>
</g>
</g>
<g id="ytick_12">
<g id="line2d_20">
<g>
<use href="#m2f7503665f" x="374.4576" y="174.6000" style="stroke: #000000; stroke-width: 0.8"/>
</g>
</g>
<g id="text_21">
<text style="font-size: 10px; font-family: 'DejaVu Sans', sans-serif; text-anchor: start" x="381.4576" y="178.327219" transform="rotate(-0 381.4576 178.327219)">0</text>
</g>
</g>
<g id="ytick_13">
<g id="line2d_21">
<g>
<use href="#m2f7503665f" x="374.4576" y="121.3200" style="stroke: #000000; stroke-width: 0.8"/>
</g>
</g>
<g id="text_22">
<text style="font-size: 10px; font-family: 'DejaVu Sans', sans-serif; text-anchor: start" x="381.4576" y="125.104819" transform="rotate(-0 381.4576 125.104819)">2</text>
</g>
</g>
<g id="ytick_14">
<g id="line2d_22">
<g>
<use href="#m2f7503665f" x="374.4576" y="68.7600" style="stroke: #000000; stroke-width: 0.8"/>
</g>
</g>
<g id="text_23">
<text style="font-size: 10px; font-family: 'DejaVu Sans', sans-serif; text-anchor: start" x="381.4576" y="71.882419" transform="rotate(-0 381.4576 71.882419)">4</text>
</g>
</g>
<g id="text_24">
<text style="font-size: 10px; font-family: 'DejaVu Sans', sans-serif; text-anchor: middle" x="407.798225" y="174.528" transform="rotate(-90 407.798225 174.528)">Bias (mm)</text>
</g>
</g>
<g id="LineCollection_1"/>
<g id="patch_5">
<path d="M361.8 307.8L368.28 307.8L374.76 307.8L374.76 42.12L368.28 42.12L361.8 42.12L361.8 307.8z" style="fill: none; stroke: #000000; stroke-width: 0.8; stroke-linejoin: miter; stroke-linecap: square"/>
</g>
</g>
</g>
<defs>
<clipPath id="p762479d433">
<path d="M343.3 174.53C343.3 157.06 339.85 139.75 333.17 123.61C326.48 107.47 316.68 92.8 304.32 80.44C291.97 68.09 277.3 58.29 261.16 51.6C245.02 44.91 227.71 41.47 210.24 41.47C192.77 41.47 175.46 44.91 159.32 51.6C143.18 58.29 128.51 68.09 116.16 80.44C103.8 92.8 94 107.47 87.31 123.61C80.63 139.75 77.18 157.06 77.18 174.53C77.18 192 80.63 209.3 87.31 225.45C94 241.59 103.8 256.26 116.16 268.61C128.51 280.97 143.18 290.77 159.32 297.46C175.46 304.14 192.77 307.58 210.24 307.58C227.71 307.58 245.02 304.14 261.16 297.46C277.3 290.77 291.97 280.97 304.32 268.61C316.68 256.26 326.48 241.59 333.17 225.45C339.85 209.3 343.3 192 343.3 174.53 M210.24 174.53C210.24 174.53 210.24 174.53 210.24 174.53C210.24 174.53 210.24 174.53 210.24 174.53C210.24 174.53 210.24 174.53 210.24 174.53C210.24 174.53 210.24 174.53 210.24 174.53C210.24 174.53 210.24 174.53 210.24 174.53C210.24 174.53 210.24 174.53 210.24 174.53C210.24 174.53 210.24 174.53 210.24 174.53C210.24 174.53 210.24 174.53 210.24 174.53C210.24 174.53 210.24 174.53 210.24 174.53C210.24 174.53 210.24 174.53 210.24 174.53C210.24 174.53 210.24 174.53 210.24 174.53C210.24 174.53 210.24 174.53 210.24 174.53C210.24 174.53 210.24 174.53 210.24 174.53C210.24 174.53 210.24 174.53 210.24 174.53C210.24 174.53 210.24 174.53 210.24 174.53C210.24 174.53 210.24 174.53 210.24 174.53z"/>
</clipPath>
<clipPath id="pac5b2e091e">
<rect x="361.152" y="41.472" width="13.3056" height="266.112"/>
</clipPath>
</defs>
</svg>
</body></html>
